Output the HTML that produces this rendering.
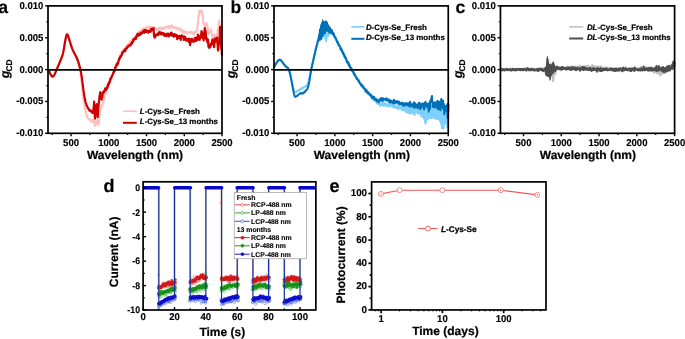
<!DOCTYPE html>
<html lang="en">
<head>
<meta charset="utf-8">
<title>Figure</title>
<style>
html,body{margin:0;padding:0;background:#fff;}
body{width:685px;height:339px;overflow:hidden;}
svg{display:block;text-rendering:geometricPrecision;font-family:'Liberation Sans', Arial, Helvetica, sans-serif;}
</style>
</head>
<body>
<svg width="685" height="339" viewBox="0 0 685 339">
<rect x="0" y="0" width="685" height="339" fill="#ffffff"/>
<line x1="45.1" y1="5.9" x2="48" y2="5.9" stroke="#000" stroke-width="1.4" stroke-linecap="butt"/>
<text x="0" y="0" font-size="9.95" font-weight="bold" text-anchor="end" transform="translate(43.3 8.85) scale(0.96 1)" fill="#000" stroke="#000" stroke-width="0.15">0.010</text>
<line x1="45.1" y1="37.75" x2="48" y2="37.75" stroke="#000" stroke-width="1.4" stroke-linecap="butt"/>
<text x="0" y="0" font-size="9.95" font-weight="bold" text-anchor="end" transform="translate(43.3 40.7) scale(0.96 1)" fill="#000" stroke="#000" stroke-width="0.15">0.005</text>
<line x1="45.1" y1="69.6" x2="48" y2="69.6" stroke="#000" stroke-width="1.4" stroke-linecap="butt"/>
<text x="0" y="0" font-size="9.95" font-weight="bold" text-anchor="end" transform="translate(43.3 72.55) scale(0.96 1)" fill="#000" stroke="#000" stroke-width="0.15">0.000</text>
<line x1="45.1" y1="101.45" x2="48" y2="101.45" stroke="#000" stroke-width="1.4" stroke-linecap="butt"/>
<text x="0" y="0" font-size="9.95" font-weight="bold" text-anchor="end" transform="translate(43.3 104.4) scale(0.96 1)" fill="#000" stroke="#000" stroke-width="0.15">-0.005</text>
<line x1="45.1" y1="133.3" x2="48" y2="133.3" stroke="#000" stroke-width="1.4" stroke-linecap="butt"/>
<text x="0" y="0" font-size="9.95" font-weight="bold" text-anchor="end" transform="translate(43.3 136.25) scale(0.96 1)" fill="#000" stroke="#000" stroke-width="0.15">-0.010</text>
<line x1="46.4" y1="21.83" x2="48" y2="21.83" stroke="#000" stroke-width="1.2" stroke-linecap="butt"/>
<line x1="46.4" y1="53.68" x2="48" y2="53.68" stroke="#000" stroke-width="1.2" stroke-linecap="butt"/>
<line x1="46.4" y1="85.53" x2="48" y2="85.53" stroke="#000" stroke-width="1.2" stroke-linecap="butt"/>
<line x1="46.4" y1="117.38" x2="48" y2="117.38" stroke="#000" stroke-width="1.2" stroke-linecap="butt"/>
<line x1="71.04" y1="133.3" x2="71.04" y2="136.2" stroke="#000" stroke-width="1.4" stroke-linecap="butt"/>
<text x="0" y="0" font-size="9.95" font-weight="bold" text-anchor="middle" transform="translate(71.04 145.65) scale(0.96 1)" fill="#000" stroke="#000" stroke-width="0.15">500</text>
<line x1="108.78" y1="133.3" x2="108.78" y2="136.2" stroke="#000" stroke-width="1.4" stroke-linecap="butt"/>
<text x="0" y="0" font-size="9.95" font-weight="bold" text-anchor="middle" transform="translate(108.78 145.65) scale(0.96 1)" fill="#000" stroke="#000" stroke-width="0.15">1000</text>
<line x1="146.52" y1="133.3" x2="146.52" y2="136.2" stroke="#000" stroke-width="1.4" stroke-linecap="butt"/>
<text x="0" y="0" font-size="9.95" font-weight="bold" text-anchor="middle" transform="translate(146.52 145.65) scale(0.96 1)" fill="#000" stroke="#000" stroke-width="0.15">1500</text>
<line x1="184.26" y1="133.3" x2="184.26" y2="136.2" stroke="#000" stroke-width="1.4" stroke-linecap="butt"/>
<text x="0" y="0" font-size="9.95" font-weight="bold" text-anchor="middle" transform="translate(184.26 145.65) scale(0.96 1)" fill="#000" stroke="#000" stroke-width="0.15">2000</text>
<line x1="222" y1="133.3" x2="222" y2="136.2" stroke="#000" stroke-width="1.4" stroke-linecap="butt"/>
<text x="0" y="0" font-size="9.95" font-weight="bold" text-anchor="middle" transform="translate(222 145.65) scale(0.96 1)" fill="#000" stroke="#000" stroke-width="0.15">2500</text>
<line x1="52.17" y1="133.3" x2="52.17" y2="135" stroke="#000" stroke-width="1.2" stroke-linecap="butt"/>
<line x1="89.91" y1="133.3" x2="89.91" y2="135" stroke="#000" stroke-width="1.2" stroke-linecap="butt"/>
<line x1="127.65" y1="133.3" x2="127.65" y2="135" stroke="#000" stroke-width="1.2" stroke-linecap="butt"/>
<line x1="165.39" y1="133.3" x2="165.39" y2="135" stroke="#000" stroke-width="1.2" stroke-linecap="butt"/>
<line x1="203.13" y1="133.3" x2="203.13" y2="135" stroke="#000" stroke-width="1.2" stroke-linecap="butt"/>
<text x="135" y="158.5" font-size="12" font-weight="bold" text-anchor="middle" fill="#000" stroke="#000" stroke-width="0.22">Wavelength (nm)</text>
<text transform="translate(9.3 78.2) rotate(-90)" font-size="12.5" font-weight="bold" stroke="#000" stroke-width="0.2"><tspan font-style="italic">g</tspan><tspan font-size="8.4" dy="2.9" dx="-1.0">CD</tspan></text>
<text x="-1.7" y="13" font-size="17.6" font-weight="bold" text-anchor="start" fill="#000" stroke="#000" stroke-width="0.15">a</text>
<polyline points="48.5,70.23 48.8,70.65 49.1,71.17 49.4,71.8 49.7,72.53 50,73.21 50.3,73.84 50.6,74.44 50.9,74.99 51.2,75.51 51.5,75.98 51.8,76.38 52.1,76.66 52.4,76.82 52.7,76.85 53,76.77 53.3,76.56 53.6,76.23 53.9,75.78 54.2,75.28 54.5,74.74 54.8,74.16 55.1,73.54 55.4,72.87 55.7,72.16 56,71.44 56.3,70.72 56.6,69.99 56.9,69.26 57.2,68.53 57.5,67.79 57.8,67.06 58.1,66.32 58.4,65.58 58.7,64.84 59,64.11 59.3,63.37 59.6,62.62 59.9,61.86 60.2,61.1 60.5,60.33 60.8,59.55 61.1,58.77 61.4,57.98 61.7,57.19 62,56.4 62.3,55.56 62.6,54.56 62.9,53.41 63.2,52.1 63.5,50.64 63.8,49.02 64.1,47.25 64.4,45.4 64.7,43.58 65,41.8 65.3,40.06 65.6,38.43 65.9,36.97 66.2,35.67 66.5,34.71 66.8,34.1 67.1,33.84 67.4,33.97 67.7,34.39 68,35.07 68.3,36.02 68.6,37 68.9,38.01 69.2,39.04 69.5,40.06 69.8,41.07 70.1,42.07 70.4,43.05 70.7,44.02 71,45 71.3,45.97 71.6,46.9 71.9,47.76 72.2,48.58 72.5,49.34 72.8,50.05 73.1,50.7 73.4,51.3 73.7,51.9 74,52.49 74.3,53.08 74.6,53.67 74.9,54.26 75.2,54.84 75.5,55.42 75.8,56 76.1,56.58 76.4,57.16 76.7,57.8 77,58.51 77.3,59.28 77.6,60.11 77.9,61.01 78.2,61.97 78.5,62.99 78.8,64.06 79.1,65.2 79.4,66.4 79.7,67.67 80,69.01 80.3,70.63 80.6,72.61 80.9,74.92 81.2,77.51 81.5,80.31 81.8,83.32 82.1,86.51 82.4,89.59 82.7,92.45 83,95.1 83.3,97.57 83.6,99.84 83.9,101.87 84.2,103.7 84.5,105.41 84.8,107.01 85.1,108.47 85.4,109.84 85.7,111.25 86,112.18 86.3,113.3 86.6,114.7 86.9,115.47 87.2,116.38 87.5,117.16 87.8,118.02 88.1,118.26 88.4,118.87 88.7,118.98 89,118.93 89.3,119.36 89.6,119.29 89.9,119.96 90.2,119.59 90.5,119.79 90.8,121.54 91.1,120.78 91.4,120.8 91.7,121.25 92,120.57 92.3,120.74 92.6,121.33 92.9,121.25 93.2,120.19 93.5,122.56 93.8,121.56 94.1,121.47 94.4,122.04 94.7,123.03 95,125.88 95.3,122.95 95.6,124.99 95.9,121.42 96.2,123.17 96.5,123.44 96.8,121.26 97.1,120.38 97.4,121.8 97.7,122.76 98,123.11 98.3,125.08 98.6,123.36 98.9,122.79 99.2,118.21 99.5,113.13 99.8,111.13 100.1,110.21 100.4,109.7 100.7,106.92 101,108.87 101.3,106.52 101.6,105.07 101.9,105.88 102.2,105.55 102.5,103.91 102.8,102.73 103.1,100.92 103.4,102.54 103.7,100.09 104,97.79 104.3,96.97 104.6,96.44 104.9,94.44 105.2,94.53 105.5,93.33 105.8,93.45 106.1,92.45 106.4,89.55 106.7,90.24 107,88.49 107.3,89.13 107.6,87.78 107.9,87.13 108.2,85.44 108.5,86.15 108.8,85.45 109.1,83.08 109.4,83.01 109.7,81.7 110,81.22 110.3,79.83 110.6,80.54 110.9,78.39 111.2,77.92 111.5,77.5 111.8,76.17 112.1,75.57 112.4,74.63 112.7,74.03 113,72.78 113.3,72.31 113.6,71.62 113.9,70.77 114.2,70.14 114.5,69.2 114.8,68.83 115.1,67.63 115.4,66.99 115.7,66.06 116,65.4 116.3,64.38 116.6,64.38 116.9,62.99 117.2,62.44 117.5,62.17 117.8,61.47 118.1,60.42 118.4,59.04 118.7,59.32 119,58.54 119.3,57.14 119.6,57.32 119.9,56.14 120.2,55.39 120.5,55.32 120.8,54.63 121.1,54.22 121.4,52.89 121.7,53.74 122,52.16 122.3,51.19 122.6,51.53 122.9,50.54 123.2,50.41 123.5,49.78 123.8,49.55 124.1,49.34 124.4,48.57 124.7,48.83 125,47.99 125.3,47.47 125.6,47.53 125.9,47.35 126.2,46.71 126.5,46.09 126.8,46.38 127.1,45.01 127.4,44.99 127.7,45.12 128,44.17 128.3,44.44 128.6,44.06 128.9,44.15 129.2,43.01 129.5,42.8 129.8,42.88 130.1,41.31 130.4,43.44 130.7,41.41 131,41.06 131.3,41.43 131.6,40.69 131.9,39.58 132.2,40.32 132.5,40.08 132.8,39.16 133.1,38.9 133.4,38.91 133.7,37.94 134,38.21 134.3,37.77 134.6,37.03 134.9,36.36 135.2,36.45 135.5,35.71 135.8,36.13 136.1,35.29 136.4,35.14 136.7,34.4 137,34.01 137.3,33.08 137.6,33.31 137.9,33.62 138.2,32.44 138.5,32.1 138.8,32.1 139.1,31.74 139.4,31.42 139.7,31.61 140,31.2 140.3,31.81 140.6,30.92 140.9,30.87 141.2,30.96 141.5,30.16 141.8,30.83 142.1,29.7 142.4,29.46 142.7,29.52 143,29.49 143.3,28.73 143.6,29.23 143.9,28.3 144.2,29.62 144.5,28.76 144.8,28.34 145.1,28.06 145.4,28.16 145.7,28.09 146,27.54 146.3,27.45 146.6,27.66 146.9,27.34 147.2,28.06 147.5,28.16 147.8,27.61 148.1,27.83 148.4,26.94 148.7,27.92 149,27.58 149.3,27.84 149.6,28.4 149.9,26.46 150.2,27.73 150.5,27.05 150.8,27.9 151.1,26.93 151.4,27.35 151.7,27.7 152,27.92 152.3,27.64 152.6,27.19 152.9,27.31 153.2,28.06 153.5,27.6 153.8,26.85 154.1,28.32 154.4,28.23 154.7,28.61 155,28.09 155.3,28.86 155.6,27.97 155.9,28.99 156.2,28.55 156.5,29.32 156.8,29.64 157.1,28.81 157.4,29.33 157.7,29.37 158,29.93 158.3,29.58 158.6,28.41 158.9,29.27 159.2,29.36 159.5,30.06 159.8,27.8 160.1,28.38 160.4,29.37 160.7,27.73 161,27.74 161.3,28.66 161.6,28.88 161.9,27.83 162.2,28.49 162.5,28.19 162.8,28.97 163.1,28.01 163.4,28.55 163.7,27.36 164,27.74 164.3,27.74 164.6,28.44 164.9,28.04 165.2,27.17 165.5,28.01 165.8,28.03 166.1,27.45 166.4,27.33 166.7,27.33 167,26.35 167.3,27.5 167.6,27.5 167.9,26.77 168.2,27.75 168.5,26.37 168.8,26.86 169.1,26.87 169.4,28.43 169.7,26.07 170,27.44 170.3,27.65 170.6,27.25 170.9,27.75 171.2,26.28 171.5,25.4 171.8,27.38 172.1,26.04 172.4,26.58 172.7,26.09 173,27.68 173.3,27.64 173.6,26.65 173.9,27.84 174.2,27.39 174.5,27.3 174.8,27.52 175.1,27.42 175.4,28.07 175.7,27.95 176,27.58 176.3,28.61 176.6,27.56 176.9,28.27 177.2,28.46 177.5,29.29 177.8,27.99 178.1,29.74 178.4,28.78 178.7,28.67 179,28.48 179.3,29.54 179.6,29.3 179.9,28.62 180.2,28.75 180.5,29.32 180.8,29.39 181.1,30.83 181.4,31.2 181.7,30.98 182,30.76 182.3,30.33 182.6,30.84 182.9,31.61 183.2,32.66 183.5,31.85 183.8,31.05 184.1,31.38 184.4,31.08 184.7,30.95 185,31.5 185.3,31.89 185.6,33.24 185.9,31.97 186.2,33.07 186.5,33.49 186.8,32.28 187.1,33.57 187.4,32.97 187.7,32.18 188,32.81 188.3,32.72 188.6,32.52 188.9,32.54 189.2,32.81 189.5,33.05 189.8,31.99 190.1,32.69 190.4,31.48 190.7,32.91 191,33.2 191.3,32.83 191.6,32.93 191.9,33.18 192.2,32.16 192.5,32.5 192.8,33.12 193.1,33.52 193.4,33.02 193.7,34.81 194,32.62 194.3,33.53 194.6,33.75 194.9,32.59 195.2,32.02 195.5,31.54 195.8,32.16 196.1,32.45 196.4,31.24 196.7,30.65 197,29.68 197.3,28.38 197.6,23.98 197.9,23.9 198.2,20.92 198.5,16.58 198.8,16.47 199.1,11.21 199.4,11.2 199.7,10.81 200,12.52 200.3,10.51 200.6,11.58 200.9,11.78 201.2,11.76 201.5,10.65 201.8,11.52 202.1,13.8 202.4,12.41 202.7,15.96 203,19.71 203.3,23.72 203.6,23.81 203.9,24.83 204.2,23.8 204.5,26.18 204.8,26.43 205.1,25.06 205.4,27.03 205.7,26.87 206,23.16 206.3,23.05 206.6,25.59 206.9,24.07 207.2,24.8 207.5,26.72 207.8,28.93 208.1,30.42 208.4,33.12 208.7,33.53 209,31.2 209.3,32.35 209.6,32.99 209.9,31.53 210.2,30.57 210.5,29.39 210.8,31.54 211.1,30.47 211.4,33.48 211.7,33.43 212,35.63 212.3,35.67 212.6,34.66 212.9,36.88 213.2,38.36 213.5,35.43 213.8,35.98 214.1,35.59 214.4,34.56 214.7,37.47 215,37.79 215.3,37.03 215.6,36.19 215.9,35.69 216.2,35.94 216.5,34.54 216.8,35.58 217.1,34.69 217.4,33.45 217.7,30.38 218,30.11 218.3,28.02 218.6,28.97 218.9,25 219.2,20.36 219.5,24.25 219.8,27.06 220.1,26.06 220.4,27.04 220.7,28.85 221,30.11 221.3,34.53" fill="none" stroke="#ffc0c0" stroke-width="2.2" stroke-linejoin="round" stroke-linecap="round"/>
<polyline points="48.5,70.23 48.8,70.65 49.1,71.17 49.4,71.8 49.7,72.52 50,73.19 50.3,73.81 50.6,74.38 50.9,74.9 51.2,75.37 51.5,75.79 51.8,76.14 52.1,76.38 52.4,76.51 52.7,76.53 53,76.44 53.3,76.24 53.6,75.94 53.9,75.51 54.2,75.03 54.5,74.5 54.8,73.92 55.1,73.3 55.4,72.62 55.7,71.9 56,71.17 56.3,70.45 56.6,69.73 56.9,69.01 57.2,68.3 57.5,67.58 57.8,66.87 58.1,66.16 58.4,65.44 58.7,64.73 59,64.02 59.3,63.3 59.6,62.58 59.9,61.85 60.2,61.12 60.5,60.39 60.8,59.65 61.1,58.9 61.4,58.15 61.7,57.4 62,56.65 62.3,55.85 62.6,54.88 62.9,53.75 63.2,52.46 63.5,51 63.8,49.38 64.1,47.6 64.4,45.74 64.7,43.93 65,42.16 65.3,40.43 65.6,38.84 65.9,37.42 66.2,36.17 66.5,35.26 66.8,34.67 67.1,34.42 67.4,34.54 67.7,34.94 68,35.59 68.3,36.47 68.6,37.41 68.9,38.38 69.2,39.38 69.5,40.36 69.8,41.33 70.1,42.29 70.4,43.24 70.7,44.19 71,45.13 71.3,46.07 71.6,46.97 71.9,47.81 72.2,48.61 72.5,49.35 72.8,50.05 73.1,50.7 73.4,51.3 73.7,51.9 74,52.49 74.3,53.08 74.6,53.67 74.9,54.26 75.2,54.84 75.5,55.42 75.8,56 76.1,56.58 76.4,57.16 76.7,57.79 77,58.47 77.3,59.21 77.6,59.99 77.9,60.83 78.2,61.71 78.5,62.65 78.8,63.59 79.1,64.58 79.4,65.63 79.7,66.73 80,67.89 80.3,69.1 80.6,70.42 80.9,71.95 81.2,73.62 81.5,75.45 81.8,77.42 82.1,79.55 82.4,81.84 82.7,84.22 83,86.58 83.3,88.85 83.6,91.03 83.9,93.12 84.2,95.09 84.5,96.87 84.8,98.48 85.1,99.93 85.4,101.32 85.7,102.54 86,103.46 86.3,104.34 86.6,105.12 86.9,105.7 87.2,106.42 87.5,107.05 87.8,107.77 88.1,108.47 88.4,108.41 88.7,109.23 89,109.33 89.3,110.54 89.6,110.12 89.9,110.61 90.2,110.27 90.5,110.54 90.8,111.24 91.1,111.2 91.4,111.83 91.7,110.92 92,112.24 92.3,111.32 92.6,113.05 92.9,111.75 93.2,112.78 93.5,108.51 93.8,106.22 94.1,101.51 94.4,106.04 94.7,114.59 95,118.66 95.3,115.85 95.6,112.96 95.9,109.61 96.2,107.13 96.5,104.91 96.8,104.16 97.1,106.18 97.4,111.64 97.7,117.16 98,112.03 98.3,107.69 98.6,104.96 98.9,102.36 99.2,99.62 99.5,96.26 99.8,94.92 100.1,92.57 100.4,92.1 100.7,95.6 101,97.14 101.3,97.12 101.6,99.6 101.9,96.99 102.2,97.41 102.5,95.65 102.8,93.1 103.1,92.25 103.4,92.02 103.7,91.22 104,92.3 104.3,91.4 104.6,90.33 104.9,90.69 105.2,88.45 105.5,89.9 105.8,90.02 106.1,88.97 106.4,88.09 106.7,88.4 107,88.77 107.3,86.94 107.6,85.43 107.9,86.58 108.2,83.74 108.5,84.62 108.8,83.2 109.1,83.47 109.4,81.62 109.7,82.29 110,80.93 110.3,78.96 110.6,78.11 110.9,78.42 111.2,78.67 111.5,77.26 111.8,76.52 112.1,75.63 112.4,75.47 112.7,74.56 113,73.79 113.3,72.39 113.6,72.85 113.9,72.22 114.2,70.12 114.5,71.26 114.8,69.74 115.1,68.44 115.4,67.07 115.7,67.69 116,66.99 116.3,65.74 116.6,64.48 116.9,65.3 117.2,63.77 117.5,63.17 117.8,64.22 118.1,63.2 118.4,61.93 118.7,60.54 119,60.46 119.3,58.26 119.6,58.86 119.9,57.82 120.2,56.95 120.5,56.21 120.8,56.75 121.1,55.94 121.4,55.39 121.7,55.18 122,53.68 122.3,52.89 122.6,52.01 122.9,52.21 123.2,52.41 123.5,51.61 123.8,51.73 124.1,50.42 124.4,50.5 124.7,50.03 125,49.45 125.3,50.88 125.6,50.01 125.9,48.8 126.2,48.49 126.5,48.58 126.8,47.48 127.1,48.25 127.4,46.96 127.7,47.19 128,46.51 128.3,46.52 128.6,45.73 128.9,45.29 129.2,45.34 129.5,45.2 129.8,45.13 130.1,45.04 130.4,45.6 130.7,44.88 131,43.92 131.3,44.1 131.6,42.86 131.9,43.74 132.2,42.81 132.5,41.27 132.8,42.14 133.1,41.78 133.4,39.26 133.7,40.04 134,39.8 134.3,38.52 134.6,38.64 134.9,38.32 135.2,38.72 135.5,38.1 135.8,39.04 136.1,36.68 136.4,37.14 136.7,35.98 137,35.71 137.3,34.64 137.6,33.99 137.9,34.53 138.2,35.32 138.5,35.66 138.8,34.87 139.1,34.63 139.4,33.6 139.7,34.94 140,34.64 140.3,33.26 140.6,33.4 140.9,32.61 141.2,34.03 141.5,33.16 141.8,32.67 142.1,32.84 142.4,32.69 142.7,31.97 143,31.26 143.3,31.06 143.6,30.59 143.9,31.89 144.2,32.89 144.5,30.11 144.8,31.18 145.1,31.2 145.4,30.09 145.7,30.96 146,30.25 146.3,31.99 146.6,30.95 146.9,31.6 147.2,32.18 147.5,31.59 147.8,30.83 148.1,31.87 148.4,32.67 148.7,31.86 149,31.84 149.3,30.7 149.6,31.32 149.9,31.5 150.2,30.79 150.5,31.88 150.8,30.15 151.1,29.34 151.4,28.7 151.7,30.46 152,29.37 152.3,29.92 152.6,29.3 152.9,29.93 153.2,29.45 153.5,28.02 153.8,32.19 154.1,36.48 154.4,35.82 154.7,37.57 155,37.15 155.3,36.74 155.6,35.6 155.9,35.74 156.2,34.41 156.5,35.06 156.8,34.32 157.1,34.59 157.4,33.9 157.7,34.38 158,35.01 158.3,32.99 158.6,34.68 158.9,32.31 159.2,32.11 159.5,33.66 159.8,33.69 160.1,33.97 160.4,32.22 160.7,33.43 161,33.51 161.3,34.37 161.6,33.25 161.9,33.87 162.2,32.73 162.5,33.48 162.8,33.36 163.1,34.42 163.4,33.11 163.7,33.34 164,34.62 164.3,35.74 164.6,34.66 164.9,34.69 165.2,34.24 165.5,35.54 165.8,35.09 166.1,36.14 166.4,34.96 166.7,33.87 167,34.22 167.3,33.87 167.6,33.66 167.9,35.88 168.2,35.51 168.5,33.72 168.8,36.42 169.1,35.07 169.4,34.02 169.7,35.25 170,34.86 170.3,34.24 170.6,33.2 170.9,35.02 171.2,35.27 171.5,32.66 171.8,35.55 172.1,35.63 172.4,34.65 172.7,35.23 173,34.94 173.3,34.49 173.6,35.01 173.9,36.69 174.2,34.13 174.5,35.8 174.8,35.82 175.1,35.05 175.4,35.38 175.7,34.53 176,35.13 176.3,36.04 176.6,36.42 176.9,35.3 177.2,39.22 177.5,35.77 177.8,36.52 178.1,36.25 178.4,36.16 178.7,37.91 179,36.23 179.3,38.1 179.6,37.99 179.9,35.88 180.2,38.05 180.5,36.41 180.8,40.02 181.1,36.81 181.4,36.28 181.7,35.27 182,36 182.3,36.86 182.6,36.45 182.9,36.31 183.2,37.08 183.5,37.81 183.8,39.99 184.1,36.24 184.4,37.82 184.7,37.45 185,36.85 185.3,37.3 185.6,37.92 185.9,40.25 186.2,39.17 186.5,38.84 186.8,40.6 187.1,40.29 187.4,39.72 187.7,40.76 188,39.12 188.3,41.44 188.6,41.19 188.9,39.83 189.2,38.54 189.5,42.8 189.8,40.54 190.1,45.26 190.4,39.3 190.7,41.71 191,39.6 191.3,40.7 191.6,41.64 191.9,38.93 192.2,40.06 192.5,40.47 192.8,40.37 193.1,41.17 193.4,41.87 193.7,41.54 194,40.55 194.3,39.48 194.6,38.11 194.9,38.76 195.2,39.1 195.5,41.15 195.8,39.19 196.1,37.51 196.4,40.68 196.7,38.01 197,37.95 197.3,38.78 197.6,39.91 197.9,34.56 198.2,36.76 198.5,38.99 198.8,37.87 199.1,36.64 199.4,36.84 199.7,40.02 200,36.2 200.3,37.99 200.6,37.75 200.9,34.58 201.2,34.56 201.5,31.14 201.8,32.33 202.1,32.84 202.4,37.89 202.7,36.03 203,36.33 203.3,35.8 203.6,40.35 203.9,37.06 204.2,34.14 204.5,31.49 204.8,28.14 205.1,30.08 205.4,32.25 205.7,30.98 206,38.37 206.3,39.47 206.6,37.76 206.9,40.01 207.2,40.77 207.5,42.5 207.8,42.36 208.1,39.69 208.4,46.82 208.7,44.85 209,47.39 209.3,47.89 209.6,45 209.9,46.08 210.2,46.83 210.5,46.78 210.8,44.58 211.1,43.43 211.4,44.77 211.7,42.74 212,43.16 212.3,39.65 212.6,44.36 212.9,41.66 213.2,42.47 213.5,43.28 213.8,43.78 214.1,47.15 214.4,42.81 214.7,38.59 215,41.91 215.3,39.79 215.6,41.84 215.9,38.76 216.2,38.27 216.5,38.34 216.8,39.01 217.1,37.59 217.4,42.23 217.7,45.61 218,50.51 218.3,48.21 218.6,44.99 218.9,44.59 219.2,41.49 219.5,40.12 219.8,32.98 220.1,26.94 220.4,36.83 220.7,43.42 221,43.61 221.3,49.13 221.6,47.35 221.9,54.91" fill="none" stroke="#d00000" stroke-width="2.2" stroke-linejoin="round" stroke-linecap="round"/>
<line x1="123" y1="111.2" x2="136.8" y2="111.2" stroke="#ffc0c0" stroke-width="1.7" stroke-linecap="butt"/>
<line x1="123" y1="122.8" x2="136.8" y2="122.8" stroke="#d00000" stroke-width="2.0" stroke-linecap="butt"/>
<text x="139.8" y="114.0" font-size="7.9" font-weight="bold" stroke="#000" stroke-width="0.2"><tspan font-style="italic">L</tspan>-Cys-Se_Fresh</text>
<text x="139.8" y="124.0" font-size="7.9" font-weight="bold" stroke="#000" stroke-width="0.2"><tspan font-style="italic">L</tspan>-Cys-Se_13 months</text>
<line x1="48" y1="69.85" x2="222" y2="69.85" stroke="#000" stroke-width="1.6" stroke-linecap="butt"/>
<rect x="48" y="5.9" width="174" height="127.4" fill="none" stroke="#000" stroke-width="1.7"/>
<line x1="271.1" y1="5.9" x2="274" y2="5.9" stroke="#000" stroke-width="1.4" stroke-linecap="butt"/>
<text x="0" y="0" font-size="9.95" font-weight="bold" text-anchor="end" transform="translate(269.3 8.85) scale(0.96 1)" fill="#000" stroke="#000" stroke-width="0.15">0.010</text>
<line x1="271.1" y1="37.75" x2="274" y2="37.75" stroke="#000" stroke-width="1.4" stroke-linecap="butt"/>
<text x="0" y="0" font-size="9.95" font-weight="bold" text-anchor="end" transform="translate(269.3 40.7) scale(0.96 1)" fill="#000" stroke="#000" stroke-width="0.15">0.005</text>
<line x1="271.1" y1="69.6" x2="274" y2="69.6" stroke="#000" stroke-width="1.4" stroke-linecap="butt"/>
<text x="0" y="0" font-size="9.95" font-weight="bold" text-anchor="end" transform="translate(269.3 72.55) scale(0.96 1)" fill="#000" stroke="#000" stroke-width="0.15">0.000</text>
<line x1="271.1" y1="101.45" x2="274" y2="101.45" stroke="#000" stroke-width="1.4" stroke-linecap="butt"/>
<text x="0" y="0" font-size="9.95" font-weight="bold" text-anchor="end" transform="translate(269.3 104.4) scale(0.96 1)" fill="#000" stroke="#000" stroke-width="0.15">-0.005</text>
<line x1="271.1" y1="133.3" x2="274" y2="133.3" stroke="#000" stroke-width="1.4" stroke-linecap="butt"/>
<text x="0" y="0" font-size="9.95" font-weight="bold" text-anchor="end" transform="translate(269.3 136.25) scale(0.96 1)" fill="#000" stroke="#000" stroke-width="0.15">-0.010</text>
<line x1="272.4" y1="21.83" x2="274" y2="21.83" stroke="#000" stroke-width="1.2" stroke-linecap="butt"/>
<line x1="272.4" y1="53.68" x2="274" y2="53.68" stroke="#000" stroke-width="1.2" stroke-linecap="butt"/>
<line x1="272.4" y1="85.53" x2="274" y2="85.53" stroke="#000" stroke-width="1.2" stroke-linecap="butt"/>
<line x1="272.4" y1="117.38" x2="274" y2="117.38" stroke="#000" stroke-width="1.2" stroke-linecap="butt"/>
<line x1="297.08" y1="133.3" x2="297.08" y2="136.2" stroke="#000" stroke-width="1.4" stroke-linecap="butt"/>
<text x="0" y="0" font-size="9.95" font-weight="bold" text-anchor="middle" transform="translate(297.08 145.65) scale(0.96 1)" fill="#000" stroke="#000" stroke-width="0.15">500</text>
<line x1="334.87" y1="133.3" x2="334.87" y2="136.2" stroke="#000" stroke-width="1.4" stroke-linecap="butt"/>
<text x="0" y="0" font-size="9.95" font-weight="bold" text-anchor="middle" transform="translate(334.87 145.65) scale(0.96 1)" fill="#000" stroke="#000" stroke-width="0.15">1000</text>
<line x1="372.66" y1="133.3" x2="372.66" y2="136.2" stroke="#000" stroke-width="1.4" stroke-linecap="butt"/>
<text x="0" y="0" font-size="9.95" font-weight="bold" text-anchor="middle" transform="translate(372.66 145.65) scale(0.96 1)" fill="#000" stroke="#000" stroke-width="0.15">1500</text>
<line x1="410.46" y1="133.3" x2="410.46" y2="136.2" stroke="#000" stroke-width="1.4" stroke-linecap="butt"/>
<text x="0" y="0" font-size="9.95" font-weight="bold" text-anchor="middle" transform="translate(410.46 145.65) scale(0.96 1)" fill="#000" stroke="#000" stroke-width="0.15">2000</text>
<line x1="448.25" y1="133.3" x2="448.25" y2="136.2" stroke="#000" stroke-width="1.4" stroke-linecap="butt"/>
<text x="0" y="0" font-size="9.95" font-weight="bold" text-anchor="middle" transform="translate(448.25 145.65) scale(0.96 1)" fill="#000" stroke="#000" stroke-width="0.15">2500</text>
<line x1="278.18" y1="133.3" x2="278.18" y2="135" stroke="#000" stroke-width="1.2" stroke-linecap="butt"/>
<line x1="315.97" y1="133.3" x2="315.97" y2="135" stroke="#000" stroke-width="1.2" stroke-linecap="butt"/>
<line x1="353.77" y1="133.3" x2="353.77" y2="135" stroke="#000" stroke-width="1.2" stroke-linecap="butt"/>
<line x1="391.56" y1="133.3" x2="391.56" y2="135" stroke="#000" stroke-width="1.2" stroke-linecap="butt"/>
<line x1="429.35" y1="133.3" x2="429.35" y2="135" stroke="#000" stroke-width="1.2" stroke-linecap="butt"/>
<text x="361.82" y="158.5" font-size="12" font-weight="bold" text-anchor="middle" fill="#000" stroke="#000" stroke-width="0.22">Wavelength (nm)</text>
<text transform="translate(235.3 78.2) rotate(-90)" font-size="12.5" font-weight="bold" stroke="#000" stroke-width="0.2"><tspan font-style="italic">g</tspan><tspan font-size="8.4" dy="2.9" dx="-1.0">CD</tspan></text>
<text x="230.6" y="13" font-size="17.6" font-weight="bold" text-anchor="start" fill="#000" stroke="#000" stroke-width="0.15">b</text>
<polyline points="274,66.75 274.3,66.45 274.6,66.07 274.9,65.61 275.2,65.09 275.5,64.56 275.8,64.02 276.1,63.54 276.4,63.04 276.7,62.64 277,62.12 277.3,61.67 277.6,61.28 277.9,60.92 278.2,60.59 278.5,60.34 278.8,60.13 279.1,59.96 279.4,59.94 279.7,59.88 280,59.92 280.3,60.07 280.6,60.17 280.9,60.35 281.2,60.63 281.5,60.98 281.8,61.4 282.1,61.66 282.4,62.08 282.7,62.59 283,62.9 283.3,63.36 283.6,63.86 283.9,64.24 284.2,64.61 284.5,65.05 284.8,65.14 285.1,65.8 285.4,65.95 285.7,66.18 286,66.61 286.3,66.88 286.6,66.98 286.9,67.13 287.2,67.44 287.5,67.64 287.8,68.04 288.1,68.34 288.4,68.76 288.7,69.47 289,70.04 289.3,70.8 289.6,71.99 289.9,73.14 290.2,74.27 290.5,75.49 290.8,76.99 291.1,78.06 291.4,79.98 291.7,81.48 292,82.68 292.3,84.36 292.6,85.61 292.9,87.2 293.2,88.09 293.5,89.43 293.8,90.62 294.1,91.43 294.4,91.47 294.7,92.09 295,92.4 295.3,92.23 295.6,92.44 295.9,91.81 296.2,91.91 296.5,91.5 296.8,91.74 297.1,91.31 297.4,91.06 297.7,90.63 298,91.06 298.3,90.71 298.6,90.53 298.9,90.42 299.2,90.09 299.5,89.71 299.8,89.5 300.1,89.32 300.4,89.58 300.7,88.82 301,88.82 301.3,88.69 301.6,88.63 301.9,88.52 302.2,87.94 302.5,87.65 302.8,87.83 303.1,87.91 303.4,87.61 303.7,87.3 304,86.98 304.3,86.93 304.6,86.61 304.9,86.66 305.2,86.09 305.5,86.11 305.8,85.85 306.1,85.81 306.4,85.54 306.7,85.81 307,85.18 307.3,84.7 307.6,83.26 307.9,83.01 308.2,82.18 308.5,81.58 308.8,79.85 309.1,79.6 309.4,78.33 309.7,76.36 310,74.96 310.3,73.41 310.6,72.01 310.9,70.6 311.2,69.46 311.5,67.39 311.8,66.24 312.1,64.71 312.4,63.84 312.7,62.24 313,61.11 313.3,59.12 313.6,58.07 313.9,56.59 314.2,55.97 314.5,54.43 314.8,52.87 315.1,51.54 315.4,50.53 315.7,48.93 316,47.54 316.3,46.73 316.6,46.87 316.9,44.43 317.2,43.25 317.5,41.7 317.8,40.48 318.1,41.63 318.4,41.22 318.7,39.21 319,38.82 319.3,37.6 319.6,36.75 319.9,32.61 320.2,33.78 320.5,34.02 320.8,31.33 321.1,31.05 321.4,29.8 321.7,30.21 322,32.02 322.3,28.94 322.6,28.88 322.9,31.06 323.2,31.38 323.5,34.13 323.8,27.21 324.1,33.76 324.4,31.73 324.7,33.62 325,35.68 325.3,37.67 325.6,39.08 325.9,38.81 326.2,41.02 326.5,35.43 326.8,33.92 327.1,34.52 327.4,31.78 327.7,36.4 328,34.16 328.3,35.64 328.6,32.16 328.9,31.56 329.2,32.1 329.5,32.53 329.8,31.04 330.1,31.93 330.4,31.92 330.7,33.25 331,32.26 331.3,33.44 331.6,32.92 331.9,33.09 332.2,33.54 332.5,33.63 332.8,34.62 333.1,35.38 333.4,35.28 333.7,35.83 334,36.65 334.3,36.31 334.6,36.6 334.9,36.97 335.2,36.91 335.5,38.67 335.8,38.04 336.1,39.82 336.4,40.09 336.7,41.25 337,41.27 337.3,41.5 337.6,42.67 337.9,42.83 338.2,43.61 338.5,44.32 338.8,44.84 339.1,45.41 339.4,45.7 339.7,46.61 340,46.28 340.3,47.83 340.6,47.93 340.9,49.63 341.2,50.3 341.5,49.38 341.8,50.97 342.1,51.44 342.4,51.61 342.7,52.95 343,53.08 343.3,53.07 343.6,54.38 343.9,55.03 344.2,55.75 344.5,55.73 344.8,57.19 345.1,57.84 345.4,57.57 345.7,58.4 346,59.26 346.3,59.64 346.6,61.3 346.9,61.13 347.2,61.11 347.5,61.75 347.8,62.63 348.1,64.24 348.4,63.65 348.7,64.33 349,65.04 349.3,65.33 349.6,66.92 349.9,66.18 350.2,67.3 350.5,67.57 350.8,68.3 351.1,68.01 351.4,69.85 351.7,69.52 352,70.11 352.3,70.19 352.6,70.8 352.9,71.9 353.2,72.6 353.5,73.01 353.8,73.73 354.1,74.03 354.4,74.25 354.7,75.12 355,75.53 355.3,75.75 355.6,76.63 355.9,77.39 356.2,77.4 356.5,77.6 356.8,78.51 357.1,79.47 357.4,79.01 357.7,79.51 358,79.94 358.3,80.98 358.6,80.11 358.9,81.51 359.2,82.31 359.5,81.9 359.8,83.33 360.1,83.36 360.4,83.3 360.7,84.02 361,83.68 361.3,84.49 361.6,85.9 361.9,85.16 362.2,86.71 362.5,86.3 362.8,87.15 363.1,87.15 363.4,86.6 363.7,87.7 364,88.41 364.3,88.26 364.6,88.58 364.9,89.68 365.2,89.67 365.5,89.64 365.8,90.45 366.1,91.46 366.4,91.24 366.7,92.14 367,92.71 367.3,92.42 367.6,92.27 367.9,92.53 368.2,93.37 368.5,94.06 368.8,94.14 369.1,94.58 369.4,94.51 369.7,95.13 370,95.14 370.3,95.52 370.6,95.44 370.9,95.62 371.2,96.42 371.5,96.45 371.8,96.83 372.1,97.92 372.4,97.81 372.7,99.62 373,98.9 373.3,98.35 373.6,99.39 373.9,99.44 374.2,99.13 374.5,100.43 374.8,99.61 375.1,98.49 375.4,101.11 375.7,100.5 376,102.12 376.3,101.02 376.6,100.93 376.9,103.04 377.2,101.53 377.5,102.68 377.8,103.85 378.1,103.13 378.4,103.14 378.7,103.43 379,104.14 379.3,103.03 379.6,104.28 379.9,104.41 380.2,105.89 380.5,103.78 380.8,103.34 381.1,104.71 381.4,103.81 381.7,104.41 382,104.31 382.3,105.21 382.6,103.7 382.9,104.21 383.2,102.14 383.5,103.58 383.8,105.71 384.1,103.82 384.4,103.82 384.7,103.4 385,105.01 385.3,104.69 385.6,103.49 385.9,105.19 386.2,104.86 386.5,105.34 386.8,104.09 387.1,106.32 387.4,105.12 387.7,104.66 388,104.31 388.3,104.6 388.6,105.68 388.9,104.63 389.2,105.96 389.5,105.51 389.8,106.29 390.1,105.82 390.4,105.02 390.7,103.26 391,105.5 391.3,106.05 391.6,105.48 391.9,105.94 392.2,104.96 392.5,105.11 392.8,104.59 393.1,107.02 393.4,105.84 393.7,105.23 394,104.41 394.3,105.7 394.6,107.44 394.9,106.47 395.2,105.27 395.5,107.63 395.8,107.7 396.1,107.28 396.4,107.14 396.7,107.6 397,107 397.3,107.31 397.6,105.66 397.9,108.25 398.2,106.9 398.5,108.97 398.8,104.45 399.1,107.62 399.4,108 399.7,106.55 400,107.52 400.3,108.05 400.6,108.05 400.9,106.93 401.2,107.58 401.5,109.14 401.8,109.63 402.1,108.43 402.4,108.59 402.7,108.93 403,110.12 403.3,107.79 403.6,107.64 403.9,109.59 404.2,108.27 404.5,109.09 404.8,110.11 405.1,110.79 405.4,109.04 405.7,111.56 406,108.52 406.3,111.62 406.6,109.13 406.9,109.69 407.2,112.32 407.5,111.17 407.8,110.85 408.1,111.41 408.4,112.55 408.7,111.84 409,111.84 409.3,113.22 409.6,110.86 409.9,111.14 410.2,111.03 410.5,113.25 410.8,112.98 411.1,113.34 411.4,111.53 411.7,111.33 412,112.66 412.3,110.92 412.6,112.56 412.9,112.38 413.2,110.39 413.5,111.2 413.8,111.11 414.1,113.66 414.4,114.83 414.7,111.02 415,111.14 415.3,107.85 415.6,111.35 415.9,111 416.2,109.56 416.5,112.38 416.8,109.14 417.1,111.24 417.4,111.9 417.7,110.03 418,113.26 418.3,113.7 418.6,110.25 418.9,110.37 419.2,113.49 419.5,112.7 419.8,111.09 420.1,112.61 420.4,113.04 420.7,113.13 421,114.8 421.3,114.26 421.6,116.64 421.9,116.19 422.2,115.22 422.5,116.05 422.8,116.63 423.1,115.75 423.4,112.58 423.7,116.35 424,115.13 424.3,118.95 424.6,117.29 424.9,119.14 425.2,119.84 425.5,123.43 425.8,121.07 426.1,119.44 426.4,119.77 426.7,117.54 427,117.93 427.3,116.81 427.6,116.59 427.9,119.16 428.2,114.14 428.5,115.01 428.8,114.48 429.1,116.28 429.4,112.31 429.7,113.3 430,114.66 430.3,115.91 430.6,114.57 430.9,113.52 431.2,112.65 431.5,115.72 431.8,117.82 432.1,115.23 432.4,114.89 432.7,115.45 433,112.14 433.3,113.59 433.6,113.66 433.9,114.98 434.2,114.15 434.5,111.19 434.8,116.95 435.1,118.36 435.4,113.41 435.7,115.06 436,114.69 436.3,116.27 436.6,110.57 436.9,118.94 437.2,113.65 437.5,118.53 437.8,115.57 438.1,114.51 438.4,115.41 438.7,118.52 439,113.83 439.3,115.41 439.6,115.32 439.9,111.99 440.2,121.37 440.5,120.19 440.8,119.34 441.1,123.76 441.4,118.34 441.7,121.88 442,128.24 442.3,126.9 442.6,117.94 442.9,115.34 443.2,122.28 443.5,128.18 443.8,122.63 444.1,122.74 444.4,124.69 444.7,119.16 445,122.03 445.3,123.24 445.6,121.48 445.9,120.56 446.2,116.9 446.5,120.54 446.8,117.22 447.1,123.04 447.4,127.32 447.7,115.75 448,110.59 448.3,116.59" fill="none" stroke="#7fd0ff" stroke-width="2.2" stroke-linejoin="round" stroke-linecap="round"/>
<polyline points="400,104 400.3,104.99 400.6,104.05 400.9,105.46 401.2,104.09 401.5,105.5 401.8,104.14 402.1,106.7 402.4,104.18 402.7,105.64 403,104.23 403.3,105.59 403.6,104.27 403.9,106.75 404.2,104.32 404.5,106.46 404.8,104.36 405.1,108.08 405.4,104.41 405.7,108.27 406,104.45 406.3,109.31 406.6,104.5 406.9,108.89 407.2,104.54 407.5,108.18 407.8,104.59 408.1,111.01 408.4,104.63 408.7,112.06 409,104.68 409.3,113.77 409.6,104.72 409.9,111.04 410.2,104.77 410.5,109.5 410.8,104.81 411.1,110.45 411.4,104.86 411.7,111.74 412,104.9 412.3,112.09 412.6,104.95 412.9,110.51 413.2,104.99 413.5,111.36 413.8,105.04 414.1,112.53 414.4,105.08 414.7,111.82 415,105.13 415.3,111.74 415.6,105.17 415.9,109.95 416.2,105.22 416.5,112.87 416.8,105.26 417.1,111.93 417.4,105.31 417.7,111.99 418,105.35 418.3,110.82 418.6,105.4 418.9,112.86 419.2,105.44 419.5,112.09 419.8,105.49 420.1,111.93 420.4,105.48 420.7,110.95 421,105.45 421.3,112.79 421.6,105.42 421.9,114.87 422.2,105.39 422.5,113.94 422.8,105.36 423.1,115.12 423.4,105.33 423.7,115.47 424,105.3 424.3,117.65 424.6,105.27 424.9,121 425.2,105.24 425.5,123.13 425.8,105.21 426.1,120.61 426.4,105.18 426.7,118.59 427,105.15 427.3,117.22 427.6,105.12 427.9,118.42 428.2,105.09 428.5,117.02 428.8,105.06 429.1,116.66 429.4,105.03 429.7,118.69 430,105 430.3,118.37 430.6,105.03 430.9,118.76 431.2,105.07 431.5,118.7 431.8,105.1 432.1,118.03 432.4,105.14 432.7,116.56 433,105.17 433.3,118.43 433.6,105.2 433.9,117.98 434.2,105.24 434.5,115.35 434.8,105.27 435.1,116.14 435.4,105.31 435.7,115.73 436,105.34 436.3,116.69 436.6,105.38 436.9,118.13 437.2,105.41 437.5,118.82 437.8,105.44 438.1,119.22 438.4,105.48 438.7,119.18 439,105.51 439.3,120.09 439.6,105.55 439.9,120.62 440.2,105.58 440.5,120.8 440.8,105.61 441.1,122.08 441.4,105.65 441.7,122.09 442,105.68 442.3,126.11 442.6,105.72 442.9,126.35 443.2,105.75 443.5,127.1 443.8,105.78 444.1,125.03 444.4,105.82 444.7,123.85 445,105.85 445.3,123.48 445.6,105.89 445.9,122.5 446.2,105.92 446.5,121.61 446.8,105.95 447.1,119.27 447.4,105.99" fill="none" stroke="#7fd0ff" stroke-width="0.9" stroke-linejoin="round" stroke-linecap="round"/>
<polyline points="274,66.82 274.25,66.57 274.5,66.26 274.75,65.88 275,65.43 275.25,65 275.5,64.55 275.75,64.12 276,63.67 276.25,63.28 276.5,62.88 276.75,62.51 277,62.11 277.25,61.75 277.5,61.36 277.75,61.14 278,60.74 278.25,60.58 278.5,60.31 278.75,60.1 279,59.96 279.25,59.87 279.5,59.87 279.75,59.84 280,59.95 280.25,59.87 280.5,60.07 280.75,60.19 281,60.46 281.25,60.54 281.5,60.89 281.75,61.21 282,61.43 282.25,61.94 282.5,62.26 282.75,62.67 283,63.03 283.25,63.25 283.5,63.6 283.75,63.99 284,64.39 284.25,64.73 284.5,64.94 284.75,65.28 285,65.56 285.25,65.85 285.5,66.14 285.75,66.38 286,66.79 286.25,66.74 286.5,66.93 286.75,67.17 287,67.21 287.25,67.43 287.5,67.65 287.75,67.9 288,67.91 288.25,68.53 288.5,68.77 288.75,69.36 289,70.06 289.25,70.77 289.5,71.65 289.75,72.47 290,73.44 290.25,74.54 290.5,75.51 290.75,76.99 291,78.01 291.25,79.28 291.5,81.07 291.75,82.14 292,83.35 292.25,85.12 292.5,86.18 292.75,87.74 293,88.82 293.25,90.27 293.5,91.39 293.75,92.56 294,93.75 294.25,94.81 294.5,95.72 294.75,96.56 295,96.36 295.25,96.86 295.5,96.68 295.75,96.76 296,96.46 296.25,96.28 296.5,96.21 296.75,95.92 297,95.92 297.25,95.56 297.5,95.68 297.75,95.25 298,95.03 298.25,95 298.5,94.68 298.75,94.38 299,94.19 299.25,94.01 299.5,94.08 299.75,93.86 300,93.61 300.25,93.55 300.5,93.17 300.75,93.31 301,92.86 301.25,93.42 301.5,93.17 301.75,93.24 302,93.38 302.25,93.3 302.5,93.29 302.75,93.59 303,93.3 303.25,92.96 303.5,93.09 303.75,92.4 304,92.88 304.25,92.17 304.5,91.92 304.75,92.13 305,91.82 305.25,91.08 305.5,90.93 305.75,90.78 306,90.66 306.25,89.98 306.5,89.78 306.75,89.78 307,89.3 307.25,89.16 307.5,88.77 307.75,87.83 308,87.22 308.25,85.94 308.5,85.52 308.75,84.75 309,82.81 309.25,81.98 309.5,80.48 309.75,78.74 310,77.26 310.25,75.77 310.5,73.99 310.75,72.61 311,71.2 311.25,69.97 311.5,68.69 311.75,67.02 312,66.24 312.25,64.67 312.5,63.74 312.75,62.79 313,61.59 313.25,60.47 313.5,59.49 313.75,58.18 314,57.07 314.25,56.12 314.5,55.37 314.75,54 315,53.5 315.25,51.95 315.5,49.96 315.75,49.62 316,49.15 316.25,47.6 316.5,46.4 316.75,45.24 317,44.87 317.25,43.77 317.5,42.66 317.75,41.58 318,40.88 318.25,39.74 318.5,37.88 318.75,37.81 319,36.5 319.25,35.29 319.5,34.84 319.75,33.24 320,29.62 320.25,32.52 320.5,31.04 320.75,28.96 321,27.75 321.25,27.56 321.5,24.65 321.75,26.15 322,24.89 322.25,24.22 322.5,22.88 322.75,22.77 323,25.25 323.25,25.84 323.5,24.83 323.75,24.24 324,23.23 324.25,25.86 324.5,27.44 324.75,22.84 325,27.26 325.25,22.35 325.5,25.19 325.75,26.38 326,23.85 326.25,23.72 326.5,26.38 326.75,27.52 327,25.59 327.25,28.36 327.5,25.4 327.75,29.16 328,27.16 328.25,27.55 328.5,28.27 328.75,28.14 329,30.15 329.25,30.73 329.5,29.09 329.75,28.61 330,27.89 330.25,28.62 330.5,29.64 330.75,29.83 331,30.17 331.25,30.49 331.5,31.17 331.75,30.05 332,30.77 332.25,32.73 332.5,32.94 332.75,32.47 333,34.02 333.25,33.27 333.5,33.95 333.75,33.44 334,35.47 334.25,35.39 334.5,36.47 334.75,36.72 335,36.86 335.25,37.4 335.5,38.51 335.75,38.21 336,38.72 336.25,39.35 336.5,40.28 336.75,40.85 337,41.94 337.25,41.27 337.5,42.56 337.75,41.93 338,43.17 338.25,43.39 338.5,44.84 338.75,44.68 339,44.56 339.25,45.66 339.5,46.03 339.75,46.14 340,46.66 340.25,46.78 340.5,49.43 340.75,48.41 341,49.39 341.25,48.65 341.5,49.2 341.75,50.24 342,50.74 342.25,51.79 342.5,51.25 342.75,52.64 343,53.7 343.25,52.81 343.5,54.35 343.75,53.78 344,55.03 344.25,55.54 344.5,56.82 344.75,55.94 345,56.92 345.25,57.92 345.5,57.17 345.75,58.32 346,58.34 346.25,58.93 346.5,60.21 346.75,60.71 347,62.25 347.25,62.05 347.5,62.48 347.75,62.15 348,62.55 348.25,63.28 348.5,62.41 348.75,65.08 349,64.27 349.25,64.53 349.5,65.35 349.75,66.57 350,67.25 350.25,66.83 350.5,67.76 350.75,67.92 351,67.83 351.25,68.91 351.5,69.26 351.75,68.83 352,70.71 352.25,69.68 352.5,71.1 352.75,70.83 353,71.39 353.25,71.88 353.5,73.08 353.75,72.44 354,73.45 354.25,74.83 354.5,74.04 354.75,74.83 355,75.64 355.25,75.4 355.5,76.4 355.75,76.22 356,77.39 356.25,77.42 356.5,77.26 356.75,78.89 357,78.46 357.25,78.73 357.5,78.76 357.75,79.38 358,79.96 358.25,80.47 358.5,81.34 358.75,80.43 359,81.32 359.25,82.52 359.5,82.35 359.75,82.85 360,83.85 360.25,83.52 360.5,83.92 360.75,83.99 361,85.27 361.25,85.22 361.5,84.63 361.75,85.63 362,85.07 362.25,86.57 362.5,86.69 362.75,86.59 363,86.8 363.25,86.41 363.5,88.07 363.75,87.94 364,88.18 364.25,89.04 364.5,88.66 364.75,89.03 365,89.31 365.25,89.31 365.5,91.57 365.75,90.57 366,90.82 366.25,91.71 366.5,89.89 366.75,91.73 367,92 367.25,91.75 367.5,92.73 367.75,91.72 368,93 368.25,93.68 368.5,92.36 368.75,93 369,93.89 369.25,94.21 369.5,94.13 369.75,94.88 370,95.07 370.25,94.51 370.5,95.38 370.75,95.01 371,94.82 371.25,94.87 371.5,96.98 371.75,96.59 372,98 372.25,96.24 372.5,97.03 372.75,97.6 373,97.48 373.25,98.03 373.5,97.98 373.75,97.69 374,96.78 374.25,97.8 374.5,99.66 374.75,99.22 375,99.8 375.25,98.68 375.5,99.11 375.75,98.81 376,99.84 376.25,99.78 376.5,100.22 376.75,101.31 377,99.65 377.25,100.94 377.5,99.56 377.75,101.55 378,100.58 378.25,100.94 378.5,101.18 378.75,102.41 379,101.22 379.25,100.94 379.5,100.47 379.75,100.84 380,99.16 380.25,98.65 380.5,98.92 380.75,99.54 381,98.47 381.25,99.64 381.5,100.59 381.75,97.99 382,100.36 382.25,101.07 382.5,98.87 382.75,99.91 383,98.33 383.25,99.79 383.5,99.29 383.75,99.86 384,98.9 384.25,99.03 384.5,99.39 384.75,99.21 385,99.34 385.25,99.74 385.5,99.02 385.75,99.88 386,100.47 386.25,98.14 386.5,100.32 386.75,99.57 387,99.29 387.25,99.15 387.5,99.62 387.75,99.76 388,100.75 388.25,99.4 388.5,101.45 388.75,99.89 389,101.25 389.25,101.66 389.5,99.69 389.75,101.76 390,102.8 390.25,100.55 390.5,101.51 390.75,100.94 391,101.19 391.25,101.01 391.5,100.78 391.75,101.94 392,102.14 392.25,101.4 392.5,102.82 392.75,102.49 393,102.2 393.25,100.97 393.5,103.4 393.75,102.93 394,99.82 394.25,100.82 394.5,101.44 394.75,102.79 395,103.13 395.25,101.77 395.5,102.32 395.75,102.79 396,101.01 396.25,102.79 396.5,102.01 396.75,102.52 397,102.35 397.25,101.34 397.5,101.56 397.75,102.59 398,102.72 398.25,102.4 398.5,103.71 398.75,102.41 399,101.64 399.25,102.52 399.5,102.73 399.75,102.82 400,104.12 400.25,103.54 400.5,104.12 400.75,103.75 401,103.04 401.25,104.26 401.5,103.05 401.75,103.59 402,102.43 402.25,103.55 402.5,103.19 402.75,103.92 403,105.39 403.25,105.99 403.5,104.71 403.75,103.73 404,104.63 404.25,104.09 404.5,103.3 404.75,103.9 405,103.76 405.25,103.45 405.5,105.51 405.75,103.61 406,103.7 406.25,104.99 406.5,103.58 406.75,103.14 407,103.5 407.25,104.98 407.5,104.92 407.75,104.89 408,104.1 408.25,103.65 408.5,105.73 408.75,103.14 409,104.57 409.25,103.35 409.5,104.45 409.75,104.79 410,106.45 410.25,101.67 410.5,106.69 410.75,104.04 411,105.48 411.25,106.12 411.5,104.24 411.75,105.09 412,105.83 412.25,105.1 412.5,104.36 412.75,105.54 413,105.47 413.25,103.45 413.5,107.13 413.75,105.7 414,102.29 414.25,104.38 414.5,107.76 414.75,107.62 415,105.9 415.25,103.31 415.5,105.27 415.75,107.06 416,106.19 416.25,105.22 416.5,104.68 416.75,106.88 417,105.46 417.25,106.24 417.5,106.5 417.75,108.17 418,106.12 418.25,106.26 418.5,103.32 418.75,107.56 419,107.26 419.25,105.97 419.5,102.64 419.75,105.2 420,106.18 420.25,109.18 420.5,106.84 420.75,107.1 421,107.09 421.25,107.86 421.5,103.88 421.75,104.26 422,103.65 422.25,105.03 422.5,104.85 422.75,105.54 423,103.58 423.25,105.4 423.5,103.72 423.75,108.77 424,104.13 424.25,109.47 424.5,107.83 424.75,102.73 425,106.53 425.25,105.85 425.5,101.87 425.75,105.74 426,104.39 426.25,105.59 426.5,103.69 426.75,105.56 427,106.85 427.25,106.08 427.5,105.62 427.75,106.87 428,105.61 428.25,108.61 428.5,103.15 428.75,111.74 429,109.19 429.25,108.78 429.5,108.33 429.75,102.71 430,108.85 430.25,100.43 430.5,102.55 430.75,101 431,101.9 431.25,99.62 431.5,97.13 431.75,101.52 432,95.9 432.25,101.52 432.5,101.51 432.75,106.67 433,103.07 433.25,103.26 433.5,103.12 433.75,103.46 434,104.74 434.25,107.39 434.5,102.78 434.75,105.34 435,102.26 435.25,105.31 435.5,106.05 435.75,102.51 436,104.07 436.25,105.72 436.5,107.39 436.75,107.82 437,104.96 437.25,102.51 437.5,100.72 437.75,107.2 438,108.87 438.25,105.96 438.5,109.32 438.75,103.51 439,103.61 439.25,109.29 439.5,101.63 439.75,106.37 440,105.66 440.25,105.18 440.5,110.28 440.75,102.41 441,104.02 441.25,98.94 441.5,102.44 441.75,104.36 442,104.98 442.25,105.79 442.5,107.68 442.75,104.65 443,100.39 443.25,107.86 443.5,109.02 443.75,103.72 444,105.22 444.25,114.26 444.5,111.68 444.75,111.93 445,110.44 445.25,108.54 445.5,106.1 445.75,110.14 446,107.25 446.25,106.32 446.5,107.95 446.75,107.68 447,111.46 447.25,104.23 447.5,117.87 447.75,103.97 448,106.28 448.25,111.79 448.5,104.63" fill="none" stroke="#0070b8" stroke-width="2.0" stroke-linejoin="round" stroke-linecap="round"/>
<polyline points="318.5,38.43 318.8,39.26 319.1,34.57 319.4,40.31 319.7,29.83 320,40.87 320.3,28.66 320.6,40.03 320.9,25.42 321.2,39.72 321.5,23.09 321.8,39.1 322.1,21.94 322.4,37.13 322.7,19.59 323,36.9 323.3,21.18 323.6,35.2 323.9,21.73 324.2,33.69 324.5,21.25 324.8,34.08 325.1,21.48 325.4,33.53 325.7,20.68 326,31.84 326.3,20.82 326.6,30.72 326.9,21.8 327.2,31.78 327.5,22.1 327.8,31.65 328.1,24.42 328.4,31.93 328.7,25.12 329,33.42 329.3,26.47 329.6,33.21 329.9,27.39 330.2,33.43 330.5,28.23 330.8,33.11 331.1,29.31 331.4,33.41 331.7,31.04 332,34.27 332.3,32.91 332.6,34.73 332.9,32.85" fill="none" stroke="#0070b8" stroke-width="0.9" stroke-linejoin="round" stroke-linecap="round"/>
<line x1="351.3" y1="26.9" x2="364.4" y2="26.9" stroke="#7fd0ff" stroke-width="1.7" stroke-linecap="butt"/>
<line x1="351.3" y1="38.8" x2="364.4" y2="38.8" stroke="#0070b8" stroke-width="2.0" stroke-linecap="butt"/>
<text x="365.9" y="30.3" font-size="7.9" font-weight="bold" stroke="#000" stroke-width="0.2"><tspan font-style="italic">D</tspan>-Cys-Se_Fresh</text>
<text x="365.9" y="39.9" font-size="7.9" font-weight="bold" stroke="#000" stroke-width="0.2"><tspan font-style="italic">D</tspan>-Cys-Se_13 months</text>
<line x1="274" y1="69.85" x2="448.25" y2="69.85" stroke="#000" stroke-width="1.6" stroke-linecap="butt"/>
<rect x="274" y="5.9" width="174.25" height="127.4" fill="none" stroke="#000" stroke-width="1.7"/>
<line x1="497.55" y1="5.9" x2="500.45" y2="5.9" stroke="#000" stroke-width="1.4" stroke-linecap="butt"/>
<text x="0" y="0" font-size="9.95" font-weight="bold" text-anchor="end" transform="translate(495.75 8.85) scale(0.96 1)" fill="#000" stroke="#000" stroke-width="0.15">0.010</text>
<line x1="497.55" y1="37.75" x2="500.45" y2="37.75" stroke="#000" stroke-width="1.4" stroke-linecap="butt"/>
<text x="0" y="0" font-size="9.95" font-weight="bold" text-anchor="end" transform="translate(495.75 40.7) scale(0.96 1)" fill="#000" stroke="#000" stroke-width="0.15">0.005</text>
<line x1="497.55" y1="69.6" x2="500.45" y2="69.6" stroke="#000" stroke-width="1.4" stroke-linecap="butt"/>
<text x="0" y="0" font-size="9.95" font-weight="bold" text-anchor="end" transform="translate(495.75 72.55) scale(0.96 1)" fill="#000" stroke="#000" stroke-width="0.15">0.000</text>
<line x1="497.55" y1="101.45" x2="500.45" y2="101.45" stroke="#000" stroke-width="1.4" stroke-linecap="butt"/>
<text x="0" y="0" font-size="9.95" font-weight="bold" text-anchor="end" transform="translate(495.75 104.4) scale(0.96 1)" fill="#000" stroke="#000" stroke-width="0.15">-0.005</text>
<line x1="497.55" y1="133.3" x2="500.45" y2="133.3" stroke="#000" stroke-width="1.4" stroke-linecap="butt"/>
<text x="0" y="0" font-size="9.95" font-weight="bold" text-anchor="end" transform="translate(495.75 136.25) scale(0.96 1)" fill="#000" stroke="#000" stroke-width="0.15">-0.010</text>
<line x1="498.85" y1="21.83" x2="500.45" y2="21.83" stroke="#000" stroke-width="1.2" stroke-linecap="butt"/>
<line x1="498.85" y1="53.68" x2="500.45" y2="53.68" stroke="#000" stroke-width="1.2" stroke-linecap="butt"/>
<line x1="498.85" y1="85.53" x2="500.45" y2="85.53" stroke="#000" stroke-width="1.2" stroke-linecap="butt"/>
<line x1="498.85" y1="117.38" x2="500.45" y2="117.38" stroke="#000" stroke-width="1.2" stroke-linecap="butt"/>
<line x1="523.51" y1="133.3" x2="523.51" y2="136.2" stroke="#000" stroke-width="1.4" stroke-linecap="butt"/>
<text x="0" y="0" font-size="9.95" font-weight="bold" text-anchor="middle" transform="translate(523.51 145.65) scale(0.96 1)" fill="#000" stroke="#000" stroke-width="0.15">500</text>
<line x1="561.28" y1="133.3" x2="561.28" y2="136.2" stroke="#000" stroke-width="1.4" stroke-linecap="butt"/>
<text x="0" y="0" font-size="9.95" font-weight="bold" text-anchor="middle" transform="translate(561.28 145.65) scale(0.96 1)" fill="#000" stroke="#000" stroke-width="0.15">1000</text>
<line x1="599.06" y1="133.3" x2="599.06" y2="136.2" stroke="#000" stroke-width="1.4" stroke-linecap="butt"/>
<text x="0" y="0" font-size="9.95" font-weight="bold" text-anchor="middle" transform="translate(599.06 145.65) scale(0.96 1)" fill="#000" stroke="#000" stroke-width="0.15">1500</text>
<line x1="636.83" y1="133.3" x2="636.83" y2="136.2" stroke="#000" stroke-width="1.4" stroke-linecap="butt"/>
<text x="0" y="0" font-size="9.95" font-weight="bold" text-anchor="middle" transform="translate(636.83 145.65) scale(0.96 1)" fill="#000" stroke="#000" stroke-width="0.15">2000</text>
<line x1="674.6" y1="133.3" x2="674.6" y2="136.2" stroke="#000" stroke-width="1.4" stroke-linecap="butt"/>
<text x="0" y="0" font-size="9.95" font-weight="bold" text-anchor="middle" transform="translate(674.6 145.65) scale(0.96 1)" fill="#000" stroke="#000" stroke-width="0.15">2500</text>
<line x1="504.63" y1="133.3" x2="504.63" y2="135" stroke="#000" stroke-width="1.2" stroke-linecap="butt"/>
<line x1="542.4" y1="133.3" x2="542.4" y2="135" stroke="#000" stroke-width="1.2" stroke-linecap="butt"/>
<line x1="580.17" y1="133.3" x2="580.17" y2="135" stroke="#000" stroke-width="1.2" stroke-linecap="butt"/>
<line x1="617.94" y1="133.3" x2="617.94" y2="135" stroke="#000" stroke-width="1.2" stroke-linecap="butt"/>
<line x1="655.71" y1="133.3" x2="655.71" y2="135" stroke="#000" stroke-width="1.2" stroke-linecap="butt"/>
<text x="587.92" y="158.5" font-size="12" font-weight="bold" text-anchor="middle" fill="#000" stroke="#000" stroke-width="0.22">Wavelength (nm)</text>
<text transform="translate(461.75 78.2) rotate(-90)" font-size="12.5" font-weight="bold" stroke="#000" stroke-width="0.2"><tspan font-style="italic">g</tspan><tspan font-size="8.4" dy="2.9" dx="-1.0">CD</tspan></text>
<text x="455.6" y="13" font-size="17.6" font-weight="bold" text-anchor="start" fill="#000" stroke="#000" stroke-width="0.15">c</text>
<polyline points="500.4,69.2 500.65,68.94 500.9,69.48 501.15,69.81 501.4,70.17 501.65,69.66 501.9,69.32 502.15,69.2 502.4,69.98 502.65,70.43 502.9,69.74 503.15,68.98 503.4,69.11 503.65,70.41 503.9,69.7 504.15,68.72 504.4,69.56 504.65,69.01 504.9,69.28 505.15,69.35 505.4,69.24 505.65,69.88 505.9,69.57 506.15,69.3 506.4,69.81 506.65,70.03 506.9,68.75 507.15,69.47 507.4,69.09 507.65,69.51 507.9,68.93 508.15,69.61 508.4,69.58 508.65,69.44 508.9,69.06 509.15,69.39 509.4,69.03 509.65,68.89 509.9,69.72 510.15,69.02 510.4,70.21 510.65,69.98 510.9,68.55 511.15,69.74 511.4,69.02 511.65,69.62 511.9,69.62 512.15,68.55 512.4,69.48 512.65,69.46 512.9,70.11 513.15,68.97 513.4,69.99 513.65,69.02 513.9,69.42 514.15,69.15 514.4,70.37 514.65,69.9 514.9,70.9 515.15,69.94 515.4,70.05 515.65,70.05 515.9,69.28 516.15,69.56 516.4,70.32 516.65,69.39 516.9,69.7 517.15,69.59 517.4,69.93 517.65,69.4 517.9,69.52 518.15,69.73 518.4,69.66 518.65,69.13 518.9,70.09 519.15,68.89 519.4,68.95 519.65,68.9 519.9,70.13 520.15,69.4 520.4,69.07 520.65,68.98 520.9,69.83 521.15,69.02 521.4,68.9 521.65,69.94 521.9,68.94 522.15,69.42 522.4,69.6 522.65,69.35 522.9,69.57 523.15,70.34 523.4,69.31 523.65,68.9 523.9,68.58 524.15,69.49 524.4,69.4 524.65,69.75 524.9,69.34 525.15,69.33 525.4,69.2 525.65,69.31 525.9,69.69 526.15,69.39 526.4,69.66 526.65,70.67 526.9,69.87 527.15,68.72 527.4,70.57 527.65,69.8 527.9,69.07 528.15,70.11 528.4,69.61 528.65,69.25 528.9,69.24 529.15,69.04 529.4,69.63 529.65,70.21 529.9,69.42 530.15,69.84 530.4,70.67 530.65,68.91 530.9,69.75 531.15,69.43 531.4,69 531.65,69.01 531.9,69.59 532.15,69.85 532.4,69.3 532.65,69.63 532.9,70.01 533.15,69.77 533.4,70.1 533.65,69.87 533.9,69.88 534.15,70.65 534.4,69.96 534.65,69.67 534.9,70.01 535.15,69.07 535.4,69.4 535.65,70.06 535.9,69.97 536.15,70.5 536.4,69.61 536.65,68.75 536.9,70.74 537.15,70.24 537.4,68.98 537.65,70.41 537.9,69.62 538.15,68.54 538.4,69.35 538.65,69.3 538.9,70.54 539.15,69.13 539.4,69.45 539.65,69.44 539.9,69.38 540.15,69.06 540.4,69.73 540.65,70.24 540.9,69.97 541.15,69.05 541.4,68.92 541.65,69.67 541.9,69.18 542.15,69.22 542.4,68.6 542.65,70.76 542.9,70.15 543.15,69.02 543.4,70.14 543.65,70.4 543.9,68.17 544.15,69.21 544.4,69.26 544.65,70.28 544.9,69.45 545.15,69.49 545.4,70.07 545.65,73.76 545.9,75.03 546.15,69.45 546.4,67.81 546.65,74.22 546.9,66.04 547.15,66.02 547.4,66.41 547.65,67.57 547.9,69.66 548.15,69.38 548.4,67.86 548.65,71.61 548.9,72.1 549.15,75.38 549.4,70.97 549.65,67.7 549.9,67.66 550.15,72.03 550.4,67.42 550.65,63.67 550.9,66.09 551.15,67.9 551.4,71.78 551.65,68.87 551.9,73.73 552.15,75.49 552.4,74 552.65,76.01 552.9,80.57 553.15,81.11 553.4,78.31 553.65,75.76 553.9,75.88 554.15,72.43 554.4,72.03 554.65,70.2 554.9,71.21 555.15,70.57 555.4,74.19 555.65,69.44 555.9,70.78 556.15,70.48 556.4,68.73 556.65,69.97 556.9,66.99 557.15,68.85 557.4,69.41 557.65,66.75 557.9,67.69 558.15,69.41 558.4,68.31 558.65,67.59 558.9,68.12 559.15,67.94 559.4,68.9 559.65,68.63 559.9,68 560.15,67.66 560.4,68.14 560.65,69.23 560.9,68.44 561.15,68.66 561.4,68.02 561.65,67.11 561.9,67.56 562.15,68.63 562.4,68.19 562.65,67.38 562.9,66.8 563.15,68.16 563.4,67.79 563.65,67.78 563.9,67.78 564.15,68.26 564.4,68.26 564.65,68.77 564.9,68.74 565.15,69.05 565.4,68.62 565.65,67.71 565.9,67.92 566.15,68.34 566.4,67.7 566.65,68.37 566.9,68.83 567.15,67.28 567.4,66.51 567.65,68.83 567.9,67.9 568.15,68.43 568.4,66.82 568.65,69.22 568.9,68.42 569.15,67.73 569.4,67.55 569.65,67.9 569.9,67.67 570.15,67.58 570.4,66.91 570.65,68.76 570.9,67.73 571.15,67.81 571.4,67.82 571.65,65.89 571.9,68.14 572.15,67.46 572.4,67.48 572.65,67.75 572.9,66.92 573.15,68.33 573.4,67.12 573.65,66.95 573.9,66.97 574.15,67.76 574.4,68.2 574.65,67.15 574.9,66.43 575.15,68.42 575.4,66.76 575.65,68.5 575.9,67.52 576.15,67.01 576.4,67.05 576.65,67.89 576.9,68.21 577.15,67.36 577.4,68.24 577.65,69.11 577.9,67.32 578.15,66.58 578.4,66.65 578.65,66.38 578.9,66.95 579.15,66.87 579.4,66.4 579.65,67.82 579.9,65.39 580.15,66.37 580.4,68.94 580.65,68.17 580.9,67.77 581.15,67.71 581.4,68.71 581.65,67.75 581.9,67.38 582.15,66.37 582.4,67.25 582.65,66.73 582.9,66.74 583.15,66.73 583.4,67.23 583.65,67 583.9,67.91 584.15,66.22 584.4,67.09 584.65,68.64 584.9,67.23 585.15,68.11 585.4,68.05 585.65,68.18 585.9,67.73 586.15,66.1 586.4,66.94 586.65,66.84 586.9,65.94 587.15,66.76 587.4,66.15 587.65,65.82 587.9,67.24 588.15,67.04 588.4,66.54 588.65,66.33 588.9,66.63 589.15,66.73 589.4,66.71 589.65,66.97 589.9,66.67 590.15,67.3 590.4,67.41 590.65,67.28 590.9,66.51 591.15,66.56 591.4,67.36 591.65,66.88 591.9,67.01 592.15,65.15 592.4,65 592.65,67.31 592.9,67.31 593.15,68.12 593.4,67.61 593.65,67.24 593.9,67.09 594.15,66.01 594.4,67.75 594.65,66.64 594.9,67.48 595.15,67.25 595.4,67.31 595.65,67.79 595.9,66.75 596.15,66.83 596.4,66.48 596.65,66.85 596.9,68.39 597.15,66.87 597.4,68.04 597.65,67.77 597.9,67.71 598.15,67.77 598.4,66.41 598.65,67.45 598.9,68.37 599.15,66.66 599.4,67.15 599.65,66.68 599.9,67.44 600.15,66.42 600.4,68.49 600.65,67.05 600.9,66.24 601.15,68.78 601.4,68.22 601.65,67.93 601.9,68 602.15,67.38 602.4,67.54 602.65,68.3 602.9,68.49 603.15,68.56 603.4,68.07 603.65,67.62 603.9,67.88 604.15,68.9 604.4,69.19 604.65,67.92 604.9,67.87 605.15,69.21 605.4,68.87 605.65,68.9 605.9,67.47 606.15,68.21 606.4,68.16 606.65,68.75 606.9,67.4 607.15,69.64 607.4,68.98 607.65,69.13 607.9,67.98 608.15,68.89 608.4,69.95 608.65,67.86 608.9,69.29 609.15,69.64 609.4,68.66 609.65,69.83 609.9,69.04 610.15,70.2 610.4,69.69 610.65,69.46 610.9,70.77 611.15,69.9 611.4,70.25 611.65,68.41 611.9,68.81 612.15,69.9 612.4,69.95 612.65,69.24 612.9,69.85 613.15,68.5 613.4,69.43 613.65,68.43 613.9,69.52 614.15,68.91 614.4,68.8 614.65,69.31 614.9,70.59 615.15,68.52 615.4,68.82 615.65,70.04 615.9,68.95 616.15,70.54 616.4,69.41 616.65,69.32 616.9,69.51 617.15,70.51 617.4,69.72 617.65,69.62 617.9,69.42 618.15,68.1 618.4,68.59 618.65,70.31 618.9,69.83 619.15,69.6 619.4,69.69 619.65,68.83 619.9,69.47 620.15,68.57 620.4,69.51 620.65,68.7 620.9,69.06 621.15,69.54 621.4,68.98 621.65,69.68 621.9,69.54 622.15,69.47 622.4,70.16 622.65,68.14 622.9,68.05 623.15,69.65 623.4,69.88 623.65,70.65 623.9,69.74 624.15,69.79 624.4,68.56 624.65,69.73 624.9,69.67 625.15,68.43 625.4,68.54 625.65,69.1 625.9,69.39 626.15,67.07 626.4,69.23 626.65,69.34 626.9,69.05 627.15,69.36 627.4,69.5 627.65,68.44 627.9,69.46 628.15,68.98 628.4,68.49 628.65,69.31 628.9,70.22 629.15,68.12 629.4,67.98 629.65,67.97 629.9,70.56 630.15,68.97 630.4,69.1 630.65,68.59 630.9,68.47 631.15,67.7 631.4,69.26 631.65,69.32 631.9,67.73 632.15,68.39 632.4,68.6 632.65,69.11 632.9,69.3 633.15,69.92 633.4,70.09 633.65,69.88 633.9,70.07 634.15,68.29 634.4,68.73 634.65,69.92 634.9,69.32 635.15,69.12 635.4,67.71 635.65,67.8 635.9,69.62 636.15,69.34 636.4,68.89 636.65,68.81 636.9,67.88 637.15,69.36 637.4,69.82 637.65,70.25 637.9,69.13 638.15,68.95 638.4,68.32 638.65,69.94 638.9,70.28 639.15,68.65 639.4,69.28 639.65,69.14 639.9,68.67 640.15,67.31 640.4,68.81 640.65,69.51 640.9,68.01 641.15,68.45 641.4,66.61 641.65,70.03 641.9,69.44 642.15,69.09 642.4,68.85 642.65,68.55 642.9,68.99 643.15,68.8 643.4,68.85 643.65,69.02 643.9,69.15 644.15,70.34 644.4,67.81 644.65,69.26 644.9,68.5 645.15,68.04 645.4,66.95 645.65,69.57 645.9,68.14 646.15,68.34 646.4,69.45 646.65,68.02 646.9,69.04 647.15,68.94 647.4,69.77 647.65,69.97 647.9,68.17 648.15,69.9 648.4,68.91 648.65,69.12 648.9,68.79 649.15,69.78 649.4,67.77 649.65,69.26 649.9,70.2 650.15,68.73 650.4,71.19 650.65,68.34 650.9,69.4 651.15,68.7 651.4,68.6 651.65,68.1 651.9,68.78 652.15,69.36 652.4,68.57 652.65,70.51 652.9,71.29 653.15,67.88 653.4,70.63 653.65,69.94 653.9,70.05 654.15,72.7 654.4,71.29 654.65,70.32 654.9,70.19 655.15,67.43 655.4,71.04 655.65,69.25 655.9,70.45 656.15,70.42 656.4,71.55 656.65,72.97 656.9,71.73 657.15,72.17 657.4,70.32 657.65,71.27 657.9,71.74 658.15,68.94 658.4,73.54 658.65,70 658.9,69.31 659.15,73.24 659.4,73.97 659.65,70.25 659.9,70.43 660.15,75.56 660.4,71.54 660.65,68.72 660.9,70.67 661.15,74.37 661.4,72.57 661.65,72.77 661.9,73.51 662.15,72.69 662.4,71.14 662.65,69.2 662.9,72.03 663.15,69.64 663.4,71.06 663.65,73.62 663.9,71.71 664.15,70.89 664.4,70.78 664.65,71.66 664.9,71.84 665.15,68.33 665.4,70.5 665.65,72.73 665.9,71.14 666.15,68.68 666.4,68.69 666.65,66.4 666.9,68.26 667.15,71.94 667.4,69.17 667.65,67.8 667.9,68.12 668.15,68.75 668.4,68.65 668.65,68.14 668.9,67.34 669.15,69.54 669.4,70.93 669.65,67.33 669.9,67.26 670.15,70.05 670.4,65.47 670.65,66.83 670.9,67.08 671.15,67.9 671.4,67.03 671.65,65.86 671.9,67.82 672.15,65.1 672.4,64.01 672.65,63.38 672.9,68.16 673.15,63.65 673.4,67.41 673.65,67.71 673.9,67.85 674.15,65.97 674.4,65.19 674.65,66.22" fill="none" stroke="#c0c0c0" stroke-width="2.0" stroke-linejoin="round" stroke-linecap="round"/>
<polyline points="500.4,70.07 500.65,70.4 500.9,68.45 501.15,69.54 501.4,70.06 501.65,70.21 501.9,69.9 502.15,70.28 502.4,69.73 502.65,69.85 502.9,69.68 503.15,69.11 503.4,69.21 503.65,69.77 503.9,69.33 504.15,70.18 504.4,70.19 504.65,70.43 504.9,69.59 505.15,70.24 505.4,69.18 505.65,69.22 505.9,69.64 506.15,69.73 506.4,68.86 506.65,68.8 506.9,69.77 507.15,69.2 507.4,70.16 507.65,69.78 507.9,69.74 508.15,69.7 508.4,70.02 508.65,69.53 508.9,70.11 509.15,69.35 509.4,69.49 509.65,69.28 509.9,69.88 510.15,69.62 510.4,69.19 510.65,70.55 510.9,69.43 511.15,69.54 511.4,69.79 511.65,70.43 511.9,69.53 512.15,69.94 512.4,69.65 512.65,68.9 512.9,69.98 513.15,70.09 513.4,69.48 513.65,69.59 513.9,68.88 514.15,68.87 514.4,69.41 514.65,69.9 514.9,69.37 515.15,69.74 515.4,70.07 515.65,69.65 515.9,69.88 516.15,70.3 516.4,68.99 516.65,69.96 516.9,68.68 517.15,69.81 517.4,69.7 517.65,69.33 517.9,69.07 518.15,69.57 518.4,69.4 518.65,69.65 518.9,69.15 519.15,69.87 519.4,69.09 519.65,69.45 519.9,69.41 520.15,70.23 520.4,68.86 520.65,69.39 520.9,70.19 521.15,69.27 521.4,68.98 521.65,69.74 521.9,69.46 522.15,70.02 522.4,69.14 522.65,69.7 522.9,69.93 523.15,70.12 523.4,69.04 523.65,70.32 523.9,69.15 524.15,68.84 524.4,69.12 524.65,69.68 524.9,69.44 525.15,69.82 525.4,69.85 525.65,69.76 525.9,69.47 526.15,70.52 526.4,68.47 526.65,68.72 526.9,69.34 527.15,68.96 527.4,68.29 527.65,69.19 527.9,69.22 528.15,68.34 528.4,70.04 528.65,70.27 528.9,70.24 529.15,69.34 529.4,69.68 529.65,69.02 529.9,69.71 530.15,69.25 530.4,69.81 530.65,69.42 530.9,70.14 531.15,70.03 531.4,70.25 531.65,68.76 531.9,68.65 532.15,69.81 532.4,69.3 532.65,69.81 532.9,69.76 533.15,69.69 533.4,70.08 533.65,69.89 533.9,69.85 534.15,69.13 534.4,70.51 534.65,69.67 534.9,70.19 535.15,69.77 535.4,70.27 535.65,69.68 535.9,69.72 536.15,69.67 536.4,69.22 536.65,69.3 536.9,69.52 537.15,69.54 537.4,69.07 537.65,70.86 537.9,69.07 538.15,69.44 538.4,70.91 538.65,69.25 538.9,70.01 539.15,69.96 539.4,69.49 539.65,68.83 539.9,68.76 540.15,69.6 540.4,69.83 540.65,68.43 540.9,69.68 541.15,69.24 541.4,70.09 541.65,69.7 541.9,69.16 542.15,69.37 542.4,69.63 542.65,70.34 542.9,71.27 543.15,69.8 543.4,69.67 543.65,69.99 543.9,69.63 544.15,70.07 544.4,69.99 544.65,69.73 544.9,68.87 545.15,70.11 545.4,71.36 545.65,70.18 545.9,72.55 546.15,71.66 546.4,69.94 546.65,72.94 546.9,68.36 547.15,72.03 547.4,73.13 547.65,69.76 547.9,70 548.15,71.67 548.4,72.46 548.65,70.88 548.9,70.57 549.15,71.65 549.4,70.61 549.65,68.26 549.9,69.89 550.15,70.15 550.4,67.75 550.65,70.76 550.9,68.91 551.15,71.26 551.4,67.67 551.65,68.56 551.9,67.67 552.15,72.03 552.4,71.99 552.65,72.27 552.9,72.26 553.15,71.32 553.4,71.28 553.65,67.11 553.9,70.32 554.15,68.99 554.4,69.26 554.65,67.95 554.9,71.46 555.15,69.77 555.4,67.58 555.65,69.84 555.9,68.99 556.15,67.84 556.4,68.45 556.65,67.88 556.9,66.51 557.15,67.12 557.4,68.74 557.65,68.6 557.9,68.53 558.15,67.37 558.4,67.83 558.65,68.35 558.9,68.85 559.15,67.63 559.4,67.46 559.65,69.21 559.9,68.35 560.15,68 560.4,67.72 560.65,67.8 560.9,69.59 561.15,69.11 561.4,68.01 561.65,67.36 561.9,69.69 562.15,69.62 562.4,69.34 562.65,69.06 562.9,66.9 563.15,67.38 563.4,68.86 563.65,68.2 563.9,68.63 564.15,68.02 564.4,67.93 564.65,68.89 564.9,68.15 565.15,68.47 565.4,68.68 565.65,68.67 565.9,69.41 566.15,69.58 566.4,67.43 566.65,68.31 566.9,68.02 567.15,69.13 567.4,67.7 567.65,69.16 567.9,69.11 568.15,69.02 568.4,67.81 568.65,68.42 568.9,67.75 569.15,68.91 569.4,69.36 569.65,67.43 569.9,67.98 570.15,68.51 570.4,68.23 570.65,69.82 570.9,68.55 571.15,68.87 571.4,67.81 571.65,69.89 571.9,68.82 572.15,69.31 572.4,68.78 572.65,67.06 572.9,67.48 573.15,67.73 573.4,69.11 573.65,68.36 573.9,69.1 574.15,68.99 574.4,68.97 574.65,69.5 574.9,68.94 575.15,67.53 575.4,68.28 575.65,70.11 575.9,67.99 576.15,69.89 576.4,70.12 576.65,68.38 576.9,69.12 577.15,67.77 577.4,69.46 577.65,68.27 577.9,67.86 578.15,68.58 578.4,68.54 578.65,68.44 578.9,69.06 579.15,68.78 579.4,68.4 579.65,69.66 579.9,70.8 580.15,68.99 580.4,68.4 580.65,68.18 580.9,69.41 581.15,68.77 581.4,68.98 581.65,67.44 581.9,68.11 582.15,68.1 582.4,69.72 582.65,68.8 582.9,67.1 583.15,69.39 583.4,69.89 583.65,70.03 583.9,66.89 584.15,69.16 584.4,69.67 584.65,69.52 584.9,68.88 585.15,67.69 585.4,68.75 585.65,68.84 585.9,69.53 586.15,69.59 586.4,68.92 586.65,69.76 586.9,68.31 587.15,68.6 587.4,69.11 587.65,69.58 587.9,68.9 588.15,70.09 588.4,69.47 588.65,68.44 588.9,69.24 589.15,68.5 589.4,68.45 589.65,68.1 589.9,70.26 590.15,69.9 590.4,68 590.65,70.07 590.9,69.97 591.15,68.97 591.4,69.64 591.65,70.97 591.9,69.49 592.15,69.61 592.4,70.15 592.65,68.52 592.9,68.36 593.15,68.26 593.4,69.28 593.65,70.01 593.9,68.71 594.15,68.33 594.4,69.54 594.65,69.12 594.9,69.87 595.15,69.33 595.4,69.3 595.65,69.39 595.9,69.49 596.15,68.75 596.4,68.64 596.65,70.69 596.9,71.83 597.15,70.36 597.4,68.31 597.65,69.56 597.9,70.45 598.15,68.35 598.4,69.21 598.65,69.28 598.9,68.91 599.15,68.98 599.4,70.38 599.65,69.29 599.9,69.47 600.15,70.93 600.4,69 600.65,68.21 600.9,70.12 601.15,71.14 601.4,69.79 601.65,69.86 601.9,68.67 602.15,68.93 602.4,70.72 602.65,70.57 602.9,70.07 603.15,69.15 603.4,68.74 603.65,68.84 603.9,68.75 604.15,70.07 604.4,69.03 604.65,69.24 604.9,70.12 605.15,70.1 605.4,69.63 605.65,69.95 605.9,69.59 606.15,68.15 606.4,69.52 606.65,69.26 606.9,69.31 607.15,69.75 607.4,69.15 607.65,70.48 607.9,69.44 608.15,69.69 608.4,69.81 608.65,69.44 608.9,70.04 609.15,70.12 609.4,70.03 609.65,69.04 609.9,68.89 610.15,69.11 610.4,69.55 610.65,68.17 610.9,68.92 611.15,68.69 611.4,69.04 611.65,68.86 611.9,70.13 612.15,69.86 612.4,70.24 612.65,68.81 612.9,68.96 613.15,69.31 613.4,70.75 613.65,70.76 613.9,69.08 614.15,69.99 614.4,71.1 614.65,68.78 614.9,69.39 615.15,70.48 615.4,70.06 615.65,68.8 615.9,70.64 616.15,70.25 616.4,70.03 616.65,68.62 616.9,69.41 617.15,70.49 617.4,69.88 617.65,70.11 617.9,69.33 618.15,70.62 618.4,69.35 618.65,70.19 618.9,69.76 619.15,68.82 619.4,70.6 619.65,68.61 619.9,68.98 620.15,69.62 620.4,68.5 620.65,68.21 620.9,69.43 621.15,69.2 621.4,69.31 621.65,69.87 621.9,71.14 622.15,69.2 622.4,71.27 622.65,69.68 622.9,69.43 623.15,67.55 623.4,68.39 623.65,69.68 623.9,69.89 624.15,68.89 624.4,69.7 624.65,70.13 624.9,69.07 625.15,68.31 625.4,68.77 625.65,69.25 625.9,69.67 626.15,70.02 626.4,68.8 626.65,69.49 626.9,69.28 627.15,69.49 627.4,70.25 627.65,70.39 627.9,69.12 628.15,69.03 628.4,68.97 628.65,69.08 628.9,69.16 629.15,69.34 629.4,69.1 629.65,68.69 629.9,68.62 630.15,69.49 630.4,71.19 630.65,69.85 630.9,69.91 631.15,69.7 631.4,69.34 631.65,70.87 631.9,69.23 632.15,68.76 632.4,68.57 632.65,69.58 632.9,68.74 633.15,68.83 633.4,68.83 633.65,68.51 633.9,69.56 634.15,68.25 634.4,71.05 634.65,67.49 634.9,68.45 635.15,69.48 635.4,69.73 635.65,69.2 635.9,69.64 636.15,69.56 636.4,69.53 636.65,69.86 636.9,69.62 637.15,69.37 637.4,69.35 637.65,70.07 637.9,69.32 638.15,69.85 638.4,70.56 638.65,69.72 638.9,70.3 639.15,69.15 639.4,69.64 639.65,69.8 639.9,69.61 640.15,69.78 640.4,70.45 640.65,69.21 640.9,68.95 641.15,69.68 641.4,68.34 641.65,69.43 641.9,70.36 642.15,69.42 642.4,69.87 642.65,69.74 642.9,70.41 643.15,69.85 643.4,69.6 643.65,66.61 643.9,68.97 644.15,70.03 644.4,69.29 644.65,68.75 644.9,70.22 645.15,68.6 645.4,69.09 645.65,70.03 645.9,68.91 646.15,69.55 646.4,69.36 646.65,68.22 646.9,68.86 647.15,69.01 647.4,68.72 647.65,70.46 647.9,69.33 648.15,68.69 648.4,67.9 648.65,69 648.9,70.72 649.15,69.01 649.4,70.14 649.65,69.82 649.9,68.76 650.15,68.27 650.4,69.92 650.65,67.43 650.9,69.97 651.15,67.96 651.4,70.31 651.65,68.87 651.9,69.22 652.15,70.58 652.4,68.13 652.65,69.39 652.9,68.95 653.15,69.96 653.4,70.22 653.65,69.69 653.9,69.6 654.15,68.83 654.4,70.11 654.65,69.04 654.9,69.51 655.15,69.58 655.4,67.56 655.65,67.85 655.9,69.64 656.15,69.32 656.4,71.04 656.65,66.04 656.9,69.63 657.15,70.85 657.4,69.48 657.65,70.44 657.9,69.38 658.15,69.27 658.4,70.64 658.65,67.5 658.9,66.13 659.15,70.05 659.4,69.53 659.65,69.52 659.9,69.78 660.15,70.28 660.4,68.66 660.65,70.06 660.9,69.83 661.15,67.61 661.4,69.13 661.65,69.78 661.9,68.14 662.15,70.98 662.4,68.89 662.65,70.63 662.9,71.67 663.15,67.01 663.4,67.24 663.65,70.32 663.9,69.06 664.15,70.21 664.4,72.21 664.65,68.58 664.9,70.81 665.15,68.95 665.4,68.3 665.65,70.18 665.9,69.82 666.15,71.22 666.4,69.92 666.65,70.89 666.9,70.3 667.15,66.43 667.4,68.76 667.65,68.83 667.9,70.97 668.15,67.46 668.4,69.55 668.65,68.35 668.9,65.69 669.15,68.58 669.4,69.9 669.65,67.95 669.9,70.21 670.15,69.1 670.4,68.85 670.65,67.19 670.9,67.72 671.15,68.79 671.4,67.83 671.65,65.33 671.9,67.22 672.15,67.98 672.4,68.89 672.65,67.86 672.9,63.82 673.15,66.61 673.4,61.59 673.65,62.98 673.9,62.15 674.15,66.32 674.4,64.16 674.65,62.89" fill="none" stroke="#4d4d4d" stroke-width="2.0" stroke-linejoin="round" stroke-linecap="round"/>
<polyline points="545,68 545.2,71.8 545.4,67.38 545.6,73.4 545.8,66.77 546,75 546.2,66.15 546.4,75.52 546.6,62.79 546.8,76.04 547,58.5 547.2,76.33 547.4,56.5 547.6,76.39 547.8,58.5 548,76.45 548.2,60.5 548.4,76.51 548.6,62.25 548.8,76.57 549,64 549.2,76.95 549.4,64.2 549.6,77.65 549.8,64.4 550,80.33 550.2,64.57 550.4,78.8 550.6,64.7 550.8,76.56 551,64.83 551.2,75.67 551.4,64.97 551.6,74.9 551.8,64.54 552,74.5 552.2,63.92 552.4,74.1 552.6,63.31 552.8,73.55 553,62.32 553.2,72.95 553.4,61.69 553.6,72.43 553.8,63.23 554,72.17 554.2,64.5 554.4,71.9 554.6,65.5 554.8,71.63 555,66.5 555.2,71.3 555.4,66.9 555.6,70.9 555.8,67.3 556,70.5" fill="none" stroke="#4d4d4d" stroke-width="0.9" stroke-linejoin="round" stroke-linecap="round"/>
<line x1="569.2" y1="26.9" x2="583.2" y2="26.9" stroke="#c4c4c4" stroke-width="1.7" stroke-linecap="butt"/>
<line x1="569.2" y1="38.5" x2="583.2" y2="38.5" stroke="#505050" stroke-width="2.0" stroke-linecap="butt"/>
<text x="586.9" y="30.3" font-size="7.9" font-weight="bold" stroke="#000" stroke-width="0.2"><tspan font-style="italic">DL</tspan>-Cys-Se_Fresh</text>
<text x="586.9" y="40.0" font-size="7.9" font-weight="bold" stroke="#000" stroke-width="0.2"><tspan font-style="italic">DL</tspan>-Cys-Se_13 months</text>
<rect x="500.45" y="5.9" width="174.15" height="127.4" fill="none" stroke="#000" stroke-width="1.7"/>
<g>
<g fill="none" stroke="#e85050" stroke-width="0.5" opacity="0.85"><circle cx="158.5" cy="287.95" r="1.2"/><circle cx="158.48" cy="289.57" r="1.2"/><circle cx="158.92" cy="287.11" r="1.2"/><circle cx="159.48" cy="288.25" r="1.2"/><circle cx="159.47" cy="288.34" r="1.2"/><circle cx="160.35" cy="289.4" r="1.2"/><circle cx="160.78" cy="287.91" r="1.2"/><circle cx="161.38" cy="286.15" r="1.2"/><circle cx="161.65" cy="287.78" r="1.2"/><circle cx="162.32" cy="286.15" r="1.2"/><circle cx="162.21" cy="284.9" r="1.2"/><circle cx="162.86" cy="286.63" r="1.2"/><circle cx="163.27" cy="282.99" r="1.2"/><circle cx="163.62" cy="285" r="1.2"/><circle cx="164.37" cy="283.29" r="1.2"/><circle cx="164.74" cy="286.71" r="1.2"/><circle cx="165.34" cy="284.08" r="1.2"/><circle cx="165.61" cy="286.1" r="1.2"/><circle cx="166.39" cy="285.67" r="1.2"/><circle cx="166.37" cy="284.37" r="1.2"/><circle cx="167.08" cy="285.07" r="1.2"/><circle cx="167.13" cy="286.09" r="1.2"/><circle cx="167.69" cy="283.35" r="1.2"/><circle cx="168.37" cy="281.64" r="1.2"/><circle cx="168.6" cy="284.93" r="1.2"/><circle cx="169.43" cy="286.11" r="1.2"/><circle cx="169.77" cy="284.87" r="1.2"/><circle cx="169.78" cy="285.26" r="1.2"/><circle cx="170.7" cy="284.65" r="1.2"/><circle cx="171.08" cy="280.97" r="1.2"/><circle cx="171.63" cy="283.15" r="1.2"/><circle cx="171.88" cy="282.76" r="1.2"/><circle cx="172.1" cy="283.83" r="1.2"/><circle cx="172.74" cy="284.11" r="1.2"/><circle cx="173.08" cy="283.85" r="1.2"/><circle cx="173.8" cy="284.64" r="1.2"/><circle cx="174.25" cy="282.64" r="1.2"/><circle cx="174.98" cy="284.69" r="1.2"/><circle cx="175.2" cy="280.34" r="1.2"/><circle cx="175.4" cy="283.3" r="1.2"/></g>
<g fill="none" stroke="#30a830" stroke-width="0.5" opacity="0.85"><circle cx="158.48" cy="293.29" r="1.2"/><circle cx="158.75" cy="292.76" r="1.2"/><circle cx="158.65" cy="296.47" r="1.2"/><circle cx="159.16" cy="293.92" r="1.2"/><circle cx="160.31" cy="294.59" r="1.2"/><circle cx="159.93" cy="297.12" r="1.2"/><circle cx="160.99" cy="293.08" r="1.2"/><circle cx="161.37" cy="296.16" r="1.2"/><circle cx="161.78" cy="292.53" r="1.2"/><circle cx="162.09" cy="293.48" r="1.2"/><circle cx="162.68" cy="292.26" r="1.2"/><circle cx="163.01" cy="293.68" r="1.2"/><circle cx="163.15" cy="292.74" r="1.2"/><circle cx="164.22" cy="292.2" r="1.2"/><circle cx="164" cy="292.5" r="1.2"/><circle cx="164.93" cy="294.65" r="1.2"/><circle cx="165.26" cy="295.66" r="1.2"/><circle cx="165.32" cy="291.67" r="1.2"/><circle cx="166.77" cy="294.2" r="1.2"/><circle cx="166.41" cy="290.84" r="1.2"/><circle cx="166.81" cy="292.82" r="1.2"/><circle cx="167.37" cy="291.38" r="1.2"/><circle cx="168.17" cy="291.93" r="1.2"/><circle cx="168.57" cy="291.53" r="1.2"/><circle cx="168.87" cy="290.72" r="1.2"/><circle cx="168.86" cy="288" r="1.2"/><circle cx="169.52" cy="292.26" r="1.2"/><circle cx="170.25" cy="291.79" r="1.2"/><circle cx="170.76" cy="292.76" r="1.2"/><circle cx="170.97" cy="292.16" r="1.2"/><circle cx="171.26" cy="289.44" r="1.2"/><circle cx="171.6" cy="289.62" r="1.2"/><circle cx="172.3" cy="289.38" r="1.2"/><circle cx="172.68" cy="290.44" r="1.2"/><circle cx="173.19" cy="287.03" r="1.2"/><circle cx="173.92" cy="290.11" r="1.2"/><circle cx="173.93" cy="290.5" r="1.2"/><circle cx="175.04" cy="288.4" r="1.2"/><circle cx="175.44" cy="290.48" r="1.2"/><circle cx="175.22" cy="292.39" r="1.2"/></g>
<g fill="none" stroke="#3050e0" stroke-width="0.5" opacity="0.85"><circle cx="158.28" cy="306.74" r="1.2"/><circle cx="158.74" cy="306.73" r="1.2"/><circle cx="159.09" cy="305.97" r="1.2"/><circle cx="159.45" cy="303.33" r="1.2"/><circle cx="159.96" cy="304.13" r="1.2"/><circle cx="160.53" cy="304.26" r="1.2"/><circle cx="160.89" cy="305.81" r="1.2"/><circle cx="161.28" cy="304.85" r="1.2"/><circle cx="161.66" cy="303.52" r="1.2"/><circle cx="162.24" cy="303.2" r="1.2"/><circle cx="162.73" cy="303.66" r="1.2"/><circle cx="163.25" cy="301.52" r="1.2"/><circle cx="163.29" cy="302.06" r="1.2"/><circle cx="163.77" cy="302.59" r="1.2"/><circle cx="164.21" cy="303.02" r="1.2"/><circle cx="164.59" cy="300.86" r="1.2"/><circle cx="165.25" cy="303.93" r="1.2"/><circle cx="165.69" cy="300.21" r="1.2"/><circle cx="166.58" cy="299.41" r="1.2"/><circle cx="166.69" cy="299.19" r="1.2"/><circle cx="166.65" cy="301.89" r="1.2"/><circle cx="167.71" cy="301.41" r="1.2"/><circle cx="167.96" cy="301.51" r="1.2"/><circle cx="168.38" cy="302.04" r="1.2"/><circle cx="168.75" cy="301.05" r="1.2"/><circle cx="168.99" cy="301.32" r="1.2"/><circle cx="169.54" cy="301.41" r="1.2"/><circle cx="170.2" cy="298.63" r="1.2"/><circle cx="170.79" cy="302.39" r="1.2"/><circle cx="171.17" cy="299.16" r="1.2"/><circle cx="171.41" cy="299.11" r="1.2"/><circle cx="171.3" cy="299.73" r="1.2"/><circle cx="172.07" cy="299.74" r="1.2"/><circle cx="172.4" cy="298.35" r="1.2"/><circle cx="172.97" cy="297.07" r="1.2"/><circle cx="174.07" cy="300.21" r="1.2"/><circle cx="174.37" cy="298.88" r="1.2"/><circle cx="174.06" cy="298.41" r="1.2"/><circle cx="175.09" cy="298.85" r="1.2"/><circle cx="175.5" cy="297.9" r="1.2"/></g>
<g fill="#d01010" stroke="#d01010" stroke-width="0.3" opacity="0.92"><circle cx="158.26" cy="287.82" r="1.15"/><circle cx="158.73" cy="285.85" r="1.15"/><circle cx="159.02" cy="286.87" r="1.15"/><circle cx="159.85" cy="287.82" r="1.15"/><circle cx="159.91" cy="286.44" r="1.15"/><circle cx="160.22" cy="287.54" r="1.15"/><circle cx="160.26" cy="287.51" r="1.15"/><circle cx="161.18" cy="287.11" r="1.15"/><circle cx="160.83" cy="287.05" r="1.15"/><circle cx="161.62" cy="286.75" r="1.15"/><circle cx="161.47" cy="286.41" r="1.15"/><circle cx="161.62" cy="287.34" r="1.15"/><circle cx="162.24" cy="286.29" r="1.15"/><circle cx="162.86" cy="284.64" r="1.15"/><circle cx="162.58" cy="285.9" r="1.15"/><circle cx="163.08" cy="286.01" r="1.15"/><circle cx="163.32" cy="283.63" r="1.15"/><circle cx="163.97" cy="285.46" r="1.15"/><circle cx="164.14" cy="285.25" r="1.15"/><circle cx="164.39" cy="285.4" r="1.15"/><circle cx="164.79" cy="285.91" r="1.15"/><circle cx="165.2" cy="285" r="1.15"/><circle cx="165.2" cy="283.66" r="1.15"/><circle cx="165.78" cy="285.86" r="1.15"/><circle cx="166.09" cy="284.11" r="1.15"/><circle cx="166.39" cy="283.81" r="1.15"/><circle cx="166.7" cy="283.52" r="1.15"/><circle cx="167.28" cy="282.58" r="1.15"/><circle cx="166.87" cy="283.46" r="1.15"/><circle cx="167.48" cy="283.65" r="1.15"/><circle cx="167.6" cy="283.91" r="1.15"/><circle cx="169.11" cy="284.06" r="1.15"/><circle cx="168.6" cy="282.48" r="1.15"/><circle cx="168.88" cy="283.28" r="1.15"/><circle cx="168.86" cy="281.85" r="1.15"/><circle cx="169.45" cy="283.82" r="1.15"/><circle cx="169.6" cy="284.81" r="1.15"/><circle cx="170.82" cy="283.42" r="1.15"/><circle cx="170.17" cy="282.5" r="1.15"/><circle cx="170.7" cy="283.08" r="1.15"/><circle cx="171.06" cy="283.8" r="1.15"/><circle cx="171.39" cy="282.28" r="1.15"/><circle cx="171.97" cy="285.26" r="1.15"/><circle cx="171.93" cy="280.31" r="1.15"/><circle cx="172.44" cy="281.95" r="1.15"/><circle cx="173.08" cy="282.51" r="1.15"/><circle cx="173.13" cy="283.43" r="1.15"/><circle cx="173.21" cy="282.69" r="1.15"/><circle cx="173.86" cy="282.75" r="1.15"/><circle cx="173.76" cy="282.85" r="1.15"/><circle cx="174.21" cy="283.44" r="1.15"/><circle cx="174.28" cy="282.15" r="1.15"/><circle cx="174.63" cy="281.64" r="1.15"/><circle cx="175.36" cy="279.56" r="1.15"/><circle cx="175.37" cy="282.51" r="1.15"/></g>
<g fill="#109010" stroke="#109010" stroke-width="0.3" opacity="0.92"><circle cx="158.59" cy="294.64" r="1.15"/><circle cx="158.17" cy="293.99" r="1.15"/><circle cx="159.24" cy="293.41" r="1.15"/><circle cx="159.88" cy="294.78" r="1.15"/><circle cx="159.44" cy="294.53" r="1.15"/><circle cx="160.19" cy="291.52" r="1.15"/><circle cx="160.6" cy="293.2" r="1.15"/><circle cx="160.73" cy="292.97" r="1.15"/><circle cx="161.1" cy="291.77" r="1.15"/><circle cx="161.39" cy="292.51" r="1.15"/><circle cx="161.58" cy="293.13" r="1.15"/><circle cx="161.92" cy="292.91" r="1.15"/><circle cx="162.37" cy="293.16" r="1.15"/><circle cx="162.41" cy="292.01" r="1.15"/><circle cx="162.84" cy="293.74" r="1.15"/><circle cx="163.28" cy="293.04" r="1.15"/><circle cx="163.31" cy="291.69" r="1.15"/><circle cx="163.87" cy="292.13" r="1.15"/><circle cx="163.81" cy="292.42" r="1.15"/><circle cx="164.41" cy="291.35" r="1.15"/><circle cx="164.16" cy="293.01" r="1.15"/><circle cx="164.93" cy="291.97" r="1.15"/><circle cx="165.26" cy="291.86" r="1.15"/><circle cx="166.08" cy="291.71" r="1.15"/><circle cx="166.12" cy="291.59" r="1.15"/><circle cx="166.13" cy="291.51" r="1.15"/><circle cx="166.58" cy="291.54" r="1.15"/><circle cx="166.94" cy="290.35" r="1.15"/><circle cx="167.45" cy="290.71" r="1.15"/><circle cx="167.44" cy="290.76" r="1.15"/><circle cx="168.14" cy="291.85" r="1.15"/><circle cx="168.36" cy="291.6" r="1.15"/><circle cx="168.41" cy="290.39" r="1.15"/><circle cx="169.07" cy="290.15" r="1.15"/><circle cx="168.77" cy="290.36" r="1.15"/><circle cx="169.11" cy="290.14" r="1.15"/><circle cx="169.47" cy="290.2" r="1.15"/><circle cx="170.12" cy="288.95" r="1.15"/><circle cx="169.99" cy="289.8" r="1.15"/><circle cx="171.26" cy="290.35" r="1.15"/><circle cx="171.48" cy="288.47" r="1.15"/><circle cx="171.22" cy="289" r="1.15"/><circle cx="171.29" cy="289.3" r="1.15"/><circle cx="172.09" cy="290.38" r="1.15"/><circle cx="172.21" cy="288.64" r="1.15"/><circle cx="172.51" cy="287.92" r="1.15"/><circle cx="172.48" cy="289.78" r="1.15"/><circle cx="173.26" cy="288.58" r="1.15"/><circle cx="173.88" cy="289.66" r="1.15"/><circle cx="173.67" cy="288.35" r="1.15"/><circle cx="174.08" cy="288.98" r="1.15"/><circle cx="174.75" cy="288.26" r="1.15"/><circle cx="174.86" cy="289.76" r="1.15"/><circle cx="175.25" cy="288.15" r="1.15"/><circle cx="175.42" cy="286.69" r="1.15"/></g>
<g fill="#0808c8" stroke="#0808c8" stroke-width="0.3" opacity="0.95"><circle cx="159.07" cy="303.36" r="1.25"/><circle cx="158.83" cy="304.25" r="1.25"/><circle cx="158.48" cy="303.51" r="1.25"/><circle cx="159.82" cy="303.87" r="1.25"/><circle cx="159.9" cy="302.82" r="1.25"/><circle cx="159.66" cy="303.51" r="1.25"/><circle cx="160.7" cy="303.45" r="1.25"/><circle cx="160.66" cy="302.84" r="1.25"/><circle cx="160.6" cy="302.99" r="1.25"/><circle cx="161.56" cy="302.39" r="1.25"/><circle cx="161.86" cy="301.4" r="1.25"/><circle cx="161.41" cy="301.71" r="1.25"/><circle cx="162" cy="301.71" r="1.25"/><circle cx="162.26" cy="301.78" r="1.25"/><circle cx="162.68" cy="302.04" r="1.25"/><circle cx="163.03" cy="301.44" r="1.25"/><circle cx="163.79" cy="300.84" r="1.25"/><circle cx="163.71" cy="300.98" r="1.25"/><circle cx="164.41" cy="299.92" r="1.25"/><circle cx="164.36" cy="300.92" r="1.25"/><circle cx="164.49" cy="300.44" r="1.25"/><circle cx="164.86" cy="299.5" r="1.25"/><circle cx="165.45" cy="300.14" r="1.25"/><circle cx="165.88" cy="299.29" r="1.25"/><circle cx="166.05" cy="300.03" r="1.25"/><circle cx="166.25" cy="299.99" r="1.25"/><circle cx="166.75" cy="299.12" r="1.25"/><circle cx="167.15" cy="298.98" r="1.25"/><circle cx="167.62" cy="298.15" r="1.25"/><circle cx="167.54" cy="298.33" r="1.25"/><circle cx="168.04" cy="297.87" r="1.25"/><circle cx="168.47" cy="299.36" r="1.25"/><circle cx="168.13" cy="299" r="1.25"/><circle cx="168.72" cy="297.93" r="1.25"/><circle cx="169.43" cy="297.74" r="1.25"/><circle cx="169.45" cy="298.31" r="1.25"/><circle cx="169.54" cy="298.39" r="1.25"/><circle cx="169.87" cy="297.45" r="1.25"/><circle cx="170.49" cy="298.2" r="1.25"/><circle cx="170.98" cy="298.15" r="1.25"/><circle cx="170.89" cy="296.89" r="1.25"/><circle cx="171" cy="297.69" r="1.25"/><circle cx="171.91" cy="297.18" r="1.25"/><circle cx="172.24" cy="298.06" r="1.25"/><circle cx="172.23" cy="297.33" r="1.25"/><circle cx="172.5" cy="297.85" r="1.25"/><circle cx="173.24" cy="297.3" r="1.25"/><circle cx="173.07" cy="296.78" r="1.25"/><circle cx="173.69" cy="296.89" r="1.25"/><circle cx="173.89" cy="297.09" r="1.25"/><circle cx="173.77" cy="297.03" r="1.25"/><circle cx="174.52" cy="296.08" r="1.25"/><circle cx="174.46" cy="295.94" r="1.25"/><circle cx="174.88" cy="295.68" r="1.25"/><circle cx="175.17" cy="296.19" r="1.25"/></g>
<g fill="none" stroke="#e85050" stroke-width="0.5" opacity="0.85"><circle cx="189.97" cy="282.95" r="1.2"/><circle cx="190.3" cy="282.17" r="1.2"/><circle cx="190.15" cy="282.62" r="1.2"/><circle cx="190.62" cy="281.6" r="1.2"/><circle cx="191.02" cy="282.93" r="1.2"/><circle cx="191.9" cy="283.56" r="1.2"/><circle cx="192.39" cy="278.34" r="1.2"/><circle cx="192.44" cy="283.49" r="1.2"/><circle cx="192.63" cy="282.44" r="1.2"/><circle cx="193.11" cy="281.13" r="1.2"/><circle cx="193.52" cy="281.26" r="1.2"/><circle cx="194.51" cy="276.34" r="1.2"/><circle cx="194.7" cy="283.48" r="1.2"/><circle cx="195.32" cy="281.05" r="1.2"/><circle cx="195.89" cy="279.07" r="1.2"/><circle cx="195.87" cy="281.77" r="1.2"/><circle cx="196.71" cy="279.91" r="1.2"/><circle cx="197.47" cy="276.68" r="1.2"/><circle cx="197.27" cy="281.49" r="1.2"/><circle cx="197.96" cy="280.93" r="1.2"/><circle cx="198.77" cy="277.88" r="1.2"/><circle cx="198.92" cy="278.33" r="1.2"/><circle cx="199.6" cy="280.12" r="1.2"/><circle cx="199.37" cy="279.04" r="1.2"/><circle cx="200.44" cy="275.2" r="1.2"/><circle cx="200.64" cy="276.02" r="1.2"/><circle cx="201" cy="275.66" r="1.2"/><circle cx="201.9" cy="275.21" r="1.2"/><circle cx="201.9" cy="275.45" r="1.2"/><circle cx="202.68" cy="276.55" r="1.2"/><circle cx="202.81" cy="274.78" r="1.2"/><circle cx="203.39" cy="276.74" r="1.2"/><circle cx="203.59" cy="277.9" r="1.2"/><circle cx="204.05" cy="277.7" r="1.2"/><circle cx="204.56" cy="278.18" r="1.2"/><circle cx="205.02" cy="276.64" r="1.2"/><circle cx="206.04" cy="278.31" r="1.2"/><circle cx="205.99" cy="277.18" r="1.2"/><circle cx="205.84" cy="280.25" r="1.2"/><circle cx="206.5" cy="275.59" r="1.2"/></g>
<g fill="none" stroke="#30a830" stroke-width="0.5" opacity="0.85"><circle cx="190.15" cy="291.23" r="1.2"/><circle cx="190.29" cy="291.84" r="1.2"/><circle cx="189.81" cy="290.77" r="1.2"/><circle cx="191.12" cy="287.48" r="1.2"/><circle cx="190.99" cy="291.08" r="1.2"/><circle cx="191.37" cy="292.33" r="1.2"/><circle cx="192.56" cy="292.21" r="1.2"/><circle cx="192.36" cy="289.21" r="1.2"/><circle cx="192.81" cy="291.48" r="1.2"/><circle cx="193.23" cy="291.35" r="1.2"/><circle cx="193.99" cy="291.12" r="1.2"/><circle cx="194.19" cy="289.11" r="1.2"/><circle cx="194.38" cy="289.97" r="1.2"/><circle cx="195.2" cy="289.05" r="1.2"/><circle cx="195.42" cy="290.34" r="1.2"/><circle cx="196.1" cy="291.74" r="1.2"/><circle cx="196.97" cy="287.31" r="1.2"/><circle cx="197.02" cy="291.37" r="1.2"/><circle cx="197.51" cy="287.39" r="1.2"/><circle cx="197.87" cy="287.54" r="1.2"/><circle cx="198.49" cy="290.78" r="1.2"/><circle cx="198.92" cy="288.54" r="1.2"/><circle cx="199.49" cy="288.12" r="1.2"/><circle cx="199.63" cy="289.41" r="1.2"/><circle cx="200.77" cy="288.13" r="1.2"/><circle cx="200.56" cy="288.48" r="1.2"/><circle cx="201.05" cy="290.81" r="1.2"/><circle cx="201.66" cy="285.97" r="1.2"/><circle cx="201.81" cy="286.15" r="1.2"/><circle cx="202.34" cy="287.87" r="1.2"/><circle cx="202.68" cy="286.12" r="1.2"/><circle cx="203.55" cy="286.25" r="1.2"/><circle cx="203.56" cy="285.94" r="1.2"/><circle cx="204.01" cy="289.97" r="1.2"/><circle cx="204.92" cy="289.02" r="1.2"/><circle cx="204.68" cy="286.44" r="1.2"/><circle cx="205.64" cy="287.23" r="1.2"/><circle cx="205.93" cy="287.89" r="1.2"/><circle cx="206.71" cy="288.12" r="1.2"/><circle cx="207.16" cy="284.62" r="1.2"/></g>
<g fill="none" stroke="#3050e0" stroke-width="0.5" opacity="0.85"><circle cx="189.4" cy="300.24" r="1.2"/><circle cx="190.45" cy="299.5" r="1.2"/><circle cx="189.98" cy="301.28" r="1.2"/><circle cx="190.84" cy="299.96" r="1.2"/><circle cx="191.18" cy="299.55" r="1.2"/><circle cx="191.97" cy="297.7" r="1.2"/><circle cx="192.11" cy="298.38" r="1.2"/><circle cx="192.46" cy="298.8" r="1.2"/><circle cx="193.18" cy="300.63" r="1.2"/><circle cx="193.29" cy="298.59" r="1.2"/><circle cx="194.21" cy="298.83" r="1.2"/><circle cx="194.47" cy="299.61" r="1.2"/><circle cx="194.79" cy="298.93" r="1.2"/><circle cx="194.83" cy="299.64" r="1.2"/><circle cx="195.54" cy="301.54" r="1.2"/><circle cx="196.52" cy="298.44" r="1.2"/><circle cx="196.63" cy="299.49" r="1.2"/><circle cx="196.68" cy="298.31" r="1.2"/><circle cx="197.81" cy="299.34" r="1.2"/><circle cx="198.29" cy="297.77" r="1.2"/><circle cx="198.21" cy="297.46" r="1.2"/><circle cx="198.84" cy="299.82" r="1.2"/><circle cx="199.09" cy="300.15" r="1.2"/><circle cx="199.25" cy="297.81" r="1.2"/><circle cx="199.89" cy="297.64" r="1.2"/><circle cx="200.68" cy="297.4" r="1.2"/><circle cx="200.55" cy="298.54" r="1.2"/><circle cx="201.28" cy="303.02" r="1.2"/><circle cx="202.24" cy="297.85" r="1.2"/><circle cx="202.09" cy="301.31" r="1.2"/><circle cx="202.57" cy="297.69" r="1.2"/><circle cx="203.18" cy="301.41" r="1.2"/><circle cx="203.7" cy="298.77" r="1.2"/><circle cx="203.8" cy="301.66" r="1.2"/><circle cx="204.24" cy="299.5" r="1.2"/><circle cx="205.49" cy="303.15" r="1.2"/><circle cx="205.44" cy="301.52" r="1.2"/><circle cx="205.39" cy="301.18" r="1.2"/><circle cx="206.02" cy="300.72" r="1.2"/><circle cx="206.63" cy="298.55" r="1.2"/></g>
<g fill="#d01010" stroke="#d01010" stroke-width="0.3" opacity="0.92"><circle cx="190" cy="281.68" r="1.15"/><circle cx="190.24" cy="282.48" r="1.15"/><circle cx="190.65" cy="280.85" r="1.15"/><circle cx="191.09" cy="281.45" r="1.15"/><circle cx="190.42" cy="280.58" r="1.15"/><circle cx="191.96" cy="280.83" r="1.15"/><circle cx="191.69" cy="281.53" r="1.15"/><circle cx="192.18" cy="281.76" r="1.15"/><circle cx="192.24" cy="281.23" r="1.15"/><circle cx="192.73" cy="280.74" r="1.15"/><circle cx="192.71" cy="279.94" r="1.15"/><circle cx="193.55" cy="280.5" r="1.15"/><circle cx="193.75" cy="280.8" r="1.15"/><circle cx="194.58" cy="280.53" r="1.15"/><circle cx="194.51" cy="280.15" r="1.15"/><circle cx="194.58" cy="281.49" r="1.15"/><circle cx="195.14" cy="279.79" r="1.15"/><circle cx="195.27" cy="280.9" r="1.15"/><circle cx="195.53" cy="279.53" r="1.15"/><circle cx="196.1" cy="277.94" r="1.15"/><circle cx="195.7" cy="278.62" r="1.15"/><circle cx="196.01" cy="278.54" r="1.15"/><circle cx="196.77" cy="277.58" r="1.15"/><circle cx="197.34" cy="277.49" r="1.15"/><circle cx="197.45" cy="276.82" r="1.15"/><circle cx="198.07" cy="278.46" r="1.15"/><circle cx="198.08" cy="278.61" r="1.15"/><circle cx="198.32" cy="277.68" r="1.15"/><circle cx="198.48" cy="278.53" r="1.15"/><circle cx="198.94" cy="277.87" r="1.15"/><circle cx="199.21" cy="277.51" r="1.15"/><circle cx="199.42" cy="279.12" r="1.15"/><circle cx="199.97" cy="277.32" r="1.15"/><circle cx="200.33" cy="277.54" r="1.15"/><circle cx="200.77" cy="277.27" r="1.15"/><circle cx="200.84" cy="275.43" r="1.15"/><circle cx="201.21" cy="275.57" r="1.15"/><circle cx="201.23" cy="275.51" r="1.15"/><circle cx="202.13" cy="276.42" r="1.15"/><circle cx="202.17" cy="276.89" r="1.15"/><circle cx="202.18" cy="277.53" r="1.15"/><circle cx="202.62" cy="274.38" r="1.15"/><circle cx="203.35" cy="276.12" r="1.15"/><circle cx="203.02" cy="278.4" r="1.15"/><circle cx="204.06" cy="278.8" r="1.15"/><circle cx="204.07" cy="277.43" r="1.15"/><circle cx="204.31" cy="278.97" r="1.15"/><circle cx="204.64" cy="276.46" r="1.15"/><circle cx="205.04" cy="275.76" r="1.15"/><circle cx="205.32" cy="277" r="1.15"/><circle cx="205.29" cy="277.52" r="1.15"/><circle cx="205.61" cy="278.49" r="1.15"/><circle cx="205.78" cy="278.2" r="1.15"/><circle cx="206.29" cy="277.84" r="1.15"/><circle cx="206.64" cy="277.65" r="1.15"/></g>
<g fill="#109010" stroke="#109010" stroke-width="0.3" opacity="0.92"><circle cx="189.58" cy="288.67" r="1.15"/><circle cx="190.33" cy="290.36" r="1.15"/><circle cx="189.96" cy="289.02" r="1.15"/><circle cx="190.75" cy="289.39" r="1.15"/><circle cx="190.91" cy="289.48" r="1.15"/><circle cx="191.67" cy="290.56" r="1.15"/><circle cx="191.51" cy="290.36" r="1.15"/><circle cx="192.01" cy="289.72" r="1.15"/><circle cx="192.59" cy="288.41" r="1.15"/><circle cx="192.56" cy="289.52" r="1.15"/><circle cx="193.19" cy="290.47" r="1.15"/><circle cx="193.61" cy="289.92" r="1.15"/><circle cx="193.31" cy="289.7" r="1.15"/><circle cx="194.19" cy="288.7" r="1.15"/><circle cx="194.26" cy="288.29" r="1.15"/><circle cx="194.93" cy="289.12" r="1.15"/><circle cx="195.11" cy="289.73" r="1.15"/><circle cx="195.42" cy="288.44" r="1.15"/><circle cx="195.47" cy="288.9" r="1.15"/><circle cx="195.95" cy="289.46" r="1.15"/><circle cx="196.45" cy="287.66" r="1.15"/><circle cx="196.6" cy="287.95" r="1.15"/><circle cx="196.76" cy="286.83" r="1.15"/><circle cx="196.83" cy="287.18" r="1.15"/><circle cx="197.93" cy="286.3" r="1.15"/><circle cx="197.76" cy="287.6" r="1.15"/><circle cx="197.99" cy="288.5" r="1.15"/><circle cx="197.99" cy="287.92" r="1.15"/><circle cx="198.54" cy="287.58" r="1.15"/><circle cx="199" cy="287.74" r="1.15"/><circle cx="198.81" cy="286.14" r="1.15"/><circle cx="199.77" cy="286.35" r="1.15"/><circle cx="200" cy="287.42" r="1.15"/><circle cx="199.54" cy="285.38" r="1.15"/><circle cx="200.44" cy="286.41" r="1.15"/><circle cx="200.93" cy="286.34" r="1.15"/><circle cx="200.86" cy="286.6" r="1.15"/><circle cx="201.5" cy="285.95" r="1.15"/><circle cx="201.76" cy="286.62" r="1.15"/><circle cx="202.03" cy="288.3" r="1.15"/><circle cx="202.16" cy="286.49" r="1.15"/><circle cx="202.85" cy="286.02" r="1.15"/><circle cx="203" cy="286.68" r="1.15"/><circle cx="203.36" cy="286.45" r="1.15"/><circle cx="202.84" cy="284.55" r="1.15"/><circle cx="204.18" cy="287.82" r="1.15"/><circle cx="203.86" cy="285.84" r="1.15"/><circle cx="204.94" cy="284.78" r="1.15"/><circle cx="204.84" cy="283.48" r="1.15"/><circle cx="205.27" cy="286.32" r="1.15"/><circle cx="205.51" cy="286.14" r="1.15"/><circle cx="205.6" cy="287.37" r="1.15"/><circle cx="206.24" cy="284.28" r="1.15"/><circle cx="206.47" cy="286.43" r="1.15"/><circle cx="206.67" cy="286.04" r="1.15"/></g>
<g fill="#0808c8" stroke="#0808c8" stroke-width="0.3" opacity="0.95"><circle cx="190.21" cy="297.09" r="1.25"/><circle cx="190.55" cy="298.7" r="1.25"/><circle cx="190.19" cy="297.46" r="1.25"/><circle cx="190.74" cy="296.99" r="1.25"/><circle cx="191.24" cy="298" r="1.25"/><circle cx="191.47" cy="296.75" r="1.25"/><circle cx="191.76" cy="297.59" r="1.25"/><circle cx="192" cy="297.53" r="1.25"/><circle cx="192.4" cy="297.86" r="1.25"/><circle cx="192.51" cy="297.6" r="1.25"/><circle cx="192.96" cy="297.67" r="1.25"/><circle cx="193.43" cy="296.12" r="1.25"/><circle cx="193.85" cy="297.2" r="1.25"/><circle cx="193.91" cy="297.22" r="1.25"/><circle cx="194.25" cy="297.41" r="1.25"/><circle cx="194.11" cy="296.98" r="1.25"/><circle cx="194.48" cy="298.31" r="1.25"/><circle cx="195.35" cy="296.97" r="1.25"/><circle cx="195.65" cy="297.36" r="1.25"/><circle cx="196.13" cy="297.56" r="1.25"/><circle cx="196.86" cy="297.24" r="1.25"/><circle cx="196.5" cy="296.41" r="1.25"/><circle cx="196.62" cy="296.77" r="1.25"/><circle cx="197.44" cy="297.12" r="1.25"/><circle cx="197.21" cy="296.48" r="1.25"/><circle cx="197.84" cy="297.31" r="1.25"/><circle cx="198.27" cy="298.01" r="1.25"/><circle cx="198.25" cy="296.94" r="1.25"/><circle cx="198.6" cy="296.98" r="1.25"/><circle cx="198.96" cy="296.08" r="1.25"/><circle cx="199.21" cy="296.85" r="1.25"/><circle cx="200.01" cy="296.75" r="1.25"/><circle cx="200.13" cy="297.48" r="1.25"/><circle cx="199.96" cy="296.75" r="1.25"/><circle cx="200.59" cy="296.99" r="1.25"/><circle cx="200.79" cy="297.01" r="1.25"/><circle cx="201.23" cy="297.84" r="1.25"/><circle cx="201.36" cy="296.73" r="1.25"/><circle cx="201.83" cy="296.98" r="1.25"/><circle cx="202.05" cy="296.72" r="1.25"/><circle cx="202.42" cy="297.89" r="1.25"/><circle cx="202.57" cy="296.98" r="1.25"/><circle cx="203.16" cy="297.65" r="1.25"/><circle cx="203.31" cy="298.13" r="1.25"/><circle cx="204.02" cy="296.89" r="1.25"/><circle cx="204.08" cy="297.91" r="1.25"/><circle cx="204.03" cy="297.97" r="1.25"/><circle cx="204.67" cy="297.65" r="1.25"/><circle cx="204.93" cy="298.51" r="1.25"/><circle cx="205.17" cy="296.07" r="1.25"/><circle cx="205.87" cy="298.2" r="1.25"/><circle cx="206.48" cy="298.47" r="1.25"/><circle cx="206.51" cy="298.95" r="1.25"/><circle cx="206.14" cy="298.71" r="1.25"/><circle cx="206.95" cy="298.71" r="1.25"/></g>
<g fill="none" stroke="#e85050" stroke-width="0.5" opacity="0.85"><circle cx="221.07" cy="278.81" r="1.2"/><circle cx="221.25" cy="280.2" r="1.2"/><circle cx="221.74" cy="279.35" r="1.2"/><circle cx="222.14" cy="279.85" r="1.2"/><circle cx="222.21" cy="280.29" r="1.2"/><circle cx="222.71" cy="279.02" r="1.2"/><circle cx="223.71" cy="278.69" r="1.2"/><circle cx="223.99" cy="279.42" r="1.2"/><circle cx="224.86" cy="279.46" r="1.2"/><circle cx="225.13" cy="277.66" r="1.2"/><circle cx="225.23" cy="277.02" r="1.2"/><circle cx="225.58" cy="279.51" r="1.2"/><circle cx="226.42" cy="279.54" r="1.2"/><circle cx="226.66" cy="277.41" r="1.2"/><circle cx="226.63" cy="278.6" r="1.2"/><circle cx="227.36" cy="278.86" r="1.2"/><circle cx="227.78" cy="281.12" r="1.2"/><circle cx="228.31" cy="281.63" r="1.2"/><circle cx="229.02" cy="281.95" r="1.2"/><circle cx="229.53" cy="279.7" r="1.2"/><circle cx="230.12" cy="280.34" r="1.2"/><circle cx="230.13" cy="281.57" r="1.2"/><circle cx="229.99" cy="277.07" r="1.2"/><circle cx="231.29" cy="278.35" r="1.2"/><circle cx="231.57" cy="279.48" r="1.2"/><circle cx="231.83" cy="278.36" r="1.2"/><circle cx="232.53" cy="278.44" r="1.2"/><circle cx="233.05" cy="276.2" r="1.2"/><circle cx="233.27" cy="276.64" r="1.2"/><circle cx="233.66" cy="277.85" r="1.2"/><circle cx="233.91" cy="277.21" r="1.2"/><circle cx="234.37" cy="278.41" r="1.2"/><circle cx="234.98" cy="282.43" r="1.2"/><circle cx="235.39" cy="277.73" r="1.2"/><circle cx="235.35" cy="277.09" r="1.2"/><circle cx="236.49" cy="278.29" r="1.2"/><circle cx="236.85" cy="276.4" r="1.2"/><circle cx="237.29" cy="276.82" r="1.2"/><circle cx="237.86" cy="279.15" r="1.2"/><circle cx="238" cy="279.24" r="1.2"/></g>
<g fill="none" stroke="#30a830" stroke-width="0.5" opacity="0.85"><circle cx="220.81" cy="290.91" r="1.2"/><circle cx="221.54" cy="289.96" r="1.2"/><circle cx="221.48" cy="288.82" r="1.2"/><circle cx="221.97" cy="290.05" r="1.2"/><circle cx="222.41" cy="287.64" r="1.2"/><circle cx="223.09" cy="290.08" r="1.2"/><circle cx="223.76" cy="285.29" r="1.2"/><circle cx="224.47" cy="291.62" r="1.2"/><circle cx="224.48" cy="287.5" r="1.2"/><circle cx="225.13" cy="288.96" r="1.2"/><circle cx="225.07" cy="288.1" r="1.2"/><circle cx="225.94" cy="289.02" r="1.2"/><circle cx="226.14" cy="285.74" r="1.2"/><circle cx="226.67" cy="287.99" r="1.2"/><circle cx="227.31" cy="288.22" r="1.2"/><circle cx="227.53" cy="288.09" r="1.2"/><circle cx="228.15" cy="285.1" r="1.2"/><circle cx="228.94" cy="289.07" r="1.2"/><circle cx="228.88" cy="286.76" r="1.2"/><circle cx="229.69" cy="288.83" r="1.2"/><circle cx="229.95" cy="287.08" r="1.2"/><circle cx="230.36" cy="285.39" r="1.2"/><circle cx="230.62" cy="285.26" r="1.2"/><circle cx="230.98" cy="286.29" r="1.2"/><circle cx="231.33" cy="283.27" r="1.2"/><circle cx="231.97" cy="286.91" r="1.2"/><circle cx="232.53" cy="285.79" r="1.2"/><circle cx="233.08" cy="287.38" r="1.2"/><circle cx="233.32" cy="285.11" r="1.2"/><circle cx="233.53" cy="285.78" r="1.2"/><circle cx="234.17" cy="284.01" r="1.2"/><circle cx="235.18" cy="284.91" r="1.2"/><circle cx="235.02" cy="286.04" r="1.2"/><circle cx="235.99" cy="285.56" r="1.2"/><circle cx="235.92" cy="284.72" r="1.2"/><circle cx="236.38" cy="284.94" r="1.2"/><circle cx="237.12" cy="286.01" r="1.2"/><circle cx="237.29" cy="283.91" r="1.2"/><circle cx="237.61" cy="288.43" r="1.2"/><circle cx="237.96" cy="285.71" r="1.2"/></g>
<g fill="none" stroke="#3050e0" stroke-width="0.5" opacity="0.85"><circle cx="220.89" cy="299.51" r="1.2"/><circle cx="221.24" cy="304.69" r="1.2"/><circle cx="221.87" cy="300.32" r="1.2"/><circle cx="222.5" cy="302.89" r="1.2"/><circle cx="222.62" cy="303.92" r="1.2"/><circle cx="222.68" cy="303.07" r="1.2"/><circle cx="223.62" cy="303.94" r="1.2"/><circle cx="224.28" cy="303.76" r="1.2"/><circle cx="224.42" cy="301.71" r="1.2"/><circle cx="224.38" cy="300.75" r="1.2"/><circle cx="225.38" cy="301.66" r="1.2"/><circle cx="225.96" cy="300.19" r="1.2"/><circle cx="226.34" cy="301.71" r="1.2"/><circle cx="226.23" cy="300.37" r="1.2"/><circle cx="227.27" cy="302.4" r="1.2"/><circle cx="227.45" cy="301.02" r="1.2"/><circle cx="227.96" cy="300.66" r="1.2"/><circle cx="227.94" cy="300.2" r="1.2"/><circle cx="228.51" cy="301.87" r="1.2"/><circle cx="229.25" cy="300.18" r="1.2"/><circle cx="229.37" cy="300.89" r="1.2"/><circle cx="230.38" cy="302.1" r="1.2"/><circle cx="230.97" cy="301.37" r="1.2"/><circle cx="230.31" cy="299.07" r="1.2"/><circle cx="231.87" cy="300.54" r="1.2"/><circle cx="231.85" cy="301.59" r="1.2"/><circle cx="232.5" cy="299.73" r="1.2"/><circle cx="232.7" cy="297.21" r="1.2"/><circle cx="233.71" cy="298.74" r="1.2"/><circle cx="234.15" cy="298.61" r="1.2"/><circle cx="233.78" cy="299.43" r="1.2"/><circle cx="234.4" cy="302.4" r="1.2"/><circle cx="235.51" cy="300.05" r="1.2"/><circle cx="235.22" cy="298.33" r="1.2"/><circle cx="235.99" cy="300.42" r="1.2"/><circle cx="236.14" cy="297.13" r="1.2"/><circle cx="237.09" cy="298.19" r="1.2"/><circle cx="237.46" cy="298.22" r="1.2"/><circle cx="238.06" cy="300.83" r="1.2"/><circle cx="238.49" cy="300.41" r="1.2"/></g>
<g fill="#d01010" stroke="#d01010" stroke-width="0.3" opacity="0.92"><circle cx="221.54" cy="277.55" r="1.15"/><circle cx="221.52" cy="279.27" r="1.15"/><circle cx="221.47" cy="277.98" r="1.15"/><circle cx="222.17" cy="277.93" r="1.15"/><circle cx="222.29" cy="277.85" r="1.15"/><circle cx="222.97" cy="278.33" r="1.15"/><circle cx="223.08" cy="278.6" r="1.15"/><circle cx="223.35" cy="280.04" r="1.15"/><circle cx="223.48" cy="279.36" r="1.15"/><circle cx="224.09" cy="279.1" r="1.15"/><circle cx="224.26" cy="278.94" r="1.15"/><circle cx="224.61" cy="277.83" r="1.15"/><circle cx="225.26" cy="278.31" r="1.15"/><circle cx="225.02" cy="279.53" r="1.15"/><circle cx="225.51" cy="279.25" r="1.15"/><circle cx="225.82" cy="279.08" r="1.15"/><circle cx="226.51" cy="277.32" r="1.15"/><circle cx="226.26" cy="279.03" r="1.15"/><circle cx="226.75" cy="276.9" r="1.15"/><circle cx="227.11" cy="277.51" r="1.15"/><circle cx="227.88" cy="279.11" r="1.15"/><circle cx="228.17" cy="278.21" r="1.15"/><circle cx="228.03" cy="279.56" r="1.15"/><circle cx="228.67" cy="276.99" r="1.15"/><circle cx="229.36" cy="279.02" r="1.15"/><circle cx="229.28" cy="279.73" r="1.15"/><circle cx="229.13" cy="279.94" r="1.15"/><circle cx="229.64" cy="278.58" r="1.15"/><circle cx="230.17" cy="279.96" r="1.15"/><circle cx="230.68" cy="275.62" r="1.15"/><circle cx="230.85" cy="277.55" r="1.15"/><circle cx="231.03" cy="277.92" r="1.15"/><circle cx="231.33" cy="278.91" r="1.15"/><circle cx="231.94" cy="277.46" r="1.15"/><circle cx="231.9" cy="278.67" r="1.15"/><circle cx="232.09" cy="278.93" r="1.15"/><circle cx="232.59" cy="279.98" r="1.15"/><circle cx="232.94" cy="278.6" r="1.15"/><circle cx="232.87" cy="277.43" r="1.15"/><circle cx="233.57" cy="278.43" r="1.15"/><circle cx="233.91" cy="279.44" r="1.15"/><circle cx="234.24" cy="277.23" r="1.15"/><circle cx="234.67" cy="278.94" r="1.15"/><circle cx="234.43" cy="278.48" r="1.15"/><circle cx="234.87" cy="279.21" r="1.15"/><circle cx="234.97" cy="278.67" r="1.15"/><circle cx="235.48" cy="278.82" r="1.15"/><circle cx="236.43" cy="279.1" r="1.15"/><circle cx="236.01" cy="279.16" r="1.15"/><circle cx="236.4" cy="277.24" r="1.15"/><circle cx="237.02" cy="278.67" r="1.15"/><circle cx="237.32" cy="278.2" r="1.15"/><circle cx="237.72" cy="278.57" r="1.15"/><circle cx="237.86" cy="279.55" r="1.15"/><circle cx="237.72" cy="278.2" r="1.15"/></g>
<g fill="#109010" stroke="#109010" stroke-width="0.3" opacity="0.92"><circle cx="221.07" cy="287.55" r="1.15"/><circle cx="221.61" cy="287.55" r="1.15"/><circle cx="221.76" cy="289.22" r="1.15"/><circle cx="222.05" cy="287.89" r="1.15"/><circle cx="222.36" cy="288.27" r="1.15"/><circle cx="222.88" cy="288.39" r="1.15"/><circle cx="223.31" cy="288.21" r="1.15"/><circle cx="223.47" cy="287.85" r="1.15"/><circle cx="223.74" cy="289.12" r="1.15"/><circle cx="224.07" cy="288.24" r="1.15"/><circle cx="224.26" cy="287.12" r="1.15"/><circle cx="224.69" cy="286.72" r="1.15"/><circle cx="224.9" cy="286.78" r="1.15"/><circle cx="225.28" cy="288.13" r="1.15"/><circle cx="225.7" cy="287.96" r="1.15"/><circle cx="225.79" cy="287.62" r="1.15"/><circle cx="226.92" cy="286.94" r="1.15"/><circle cx="226.82" cy="287.37" r="1.15"/><circle cx="227.1" cy="286.78" r="1.15"/><circle cx="226.98" cy="285.56" r="1.15"/><circle cx="227.72" cy="286.72" r="1.15"/><circle cx="227.78" cy="285.93" r="1.15"/><circle cx="228.09" cy="285.86" r="1.15"/><circle cx="228.09" cy="285.08" r="1.15"/><circle cx="228.33" cy="285.86" r="1.15"/><circle cx="228.91" cy="285.03" r="1.15"/><circle cx="229.45" cy="284.86" r="1.15"/><circle cx="229.68" cy="285.23" r="1.15"/><circle cx="229.83" cy="284.76" r="1.15"/><circle cx="230.42" cy="285.95" r="1.15"/><circle cx="230.74" cy="285.14" r="1.15"/><circle cx="231" cy="285.64" r="1.15"/><circle cx="231.17" cy="286.74" r="1.15"/><circle cx="231.69" cy="285.78" r="1.15"/><circle cx="231.61" cy="285.23" r="1.15"/><circle cx="232.28" cy="285.95" r="1.15"/><circle cx="232.53" cy="285.41" r="1.15"/><circle cx="232.61" cy="285.37" r="1.15"/><circle cx="232.7" cy="285.56" r="1.15"/><circle cx="233.09" cy="285.28" r="1.15"/><circle cx="233.96" cy="285" r="1.15"/><circle cx="233.97" cy="285.05" r="1.15"/><circle cx="234.34" cy="285.64" r="1.15"/><circle cx="234.62" cy="284.88" r="1.15"/><circle cx="235.2" cy="286.39" r="1.15"/><circle cx="235.05" cy="285.54" r="1.15"/><circle cx="235.33" cy="285.63" r="1.15"/><circle cx="235.69" cy="285.49" r="1.15"/><circle cx="235.86" cy="286.65" r="1.15"/><circle cx="236.8" cy="286.04" r="1.15"/><circle cx="236.85" cy="283.62" r="1.15"/><circle cx="237.51" cy="286.17" r="1.15"/><circle cx="237.41" cy="283.67" r="1.15"/><circle cx="237.6" cy="284.03" r="1.15"/><circle cx="238.63" cy="284.44" r="1.15"/></g>
<g fill="#0808c8" stroke="#0808c8" stroke-width="0.3" opacity="0.95"><circle cx="221.16" cy="301.04" r="1.25"/><circle cx="221.7" cy="300.66" r="1.25"/><circle cx="221.62" cy="301.18" r="1.25"/><circle cx="221.89" cy="301.55" r="1.25"/><circle cx="222.59" cy="300.41" r="1.25"/><circle cx="222.7" cy="301.51" r="1.25"/><circle cx="223.43" cy="300.55" r="1.25"/><circle cx="223.7" cy="300.66" r="1.25"/><circle cx="223.8" cy="300.81" r="1.25"/><circle cx="224.27" cy="300.47" r="1.25"/><circle cx="224.76" cy="299.98" r="1.25"/><circle cx="224.44" cy="298.71" r="1.25"/><circle cx="225.09" cy="300.67" r="1.25"/><circle cx="225.39" cy="299.32" r="1.25"/><circle cx="225.47" cy="300.26" r="1.25"/><circle cx="225.9" cy="299.98" r="1.25"/><circle cx="226.22" cy="299.35" r="1.25"/><circle cx="226.27" cy="299.99" r="1.25"/><circle cx="227.03" cy="299.01" r="1.25"/><circle cx="226.79" cy="298.4" r="1.25"/><circle cx="227.5" cy="299.38" r="1.25"/><circle cx="227.85" cy="298.85" r="1.25"/><circle cx="228.85" cy="298.26" r="1.25"/><circle cx="228.33" cy="298.16" r="1.25"/><circle cx="228.65" cy="297.8" r="1.25"/><circle cx="229.07" cy="299.47" r="1.25"/><circle cx="229.26" cy="298.82" r="1.25"/><circle cx="229.73" cy="299.45" r="1.25"/><circle cx="230.2" cy="297.53" r="1.25"/><circle cx="230.47" cy="297.98" r="1.25"/><circle cx="230.7" cy="298.2" r="1.25"/><circle cx="230.72" cy="298.12" r="1.25"/><circle cx="231.51" cy="297.05" r="1.25"/><circle cx="231.65" cy="297.79" r="1.25"/><circle cx="231.38" cy="297.51" r="1.25"/><circle cx="232.55" cy="296.94" r="1.25"/><circle cx="232.42" cy="297.16" r="1.25"/><circle cx="232.7" cy="296.67" r="1.25"/><circle cx="233.09" cy="297.24" r="1.25"/><circle cx="233.3" cy="297.34" r="1.25"/><circle cx="233.77" cy="296.96" r="1.25"/><circle cx="234.05" cy="297.41" r="1.25"/><circle cx="234.45" cy="298.18" r="1.25"/><circle cx="234.55" cy="297.15" r="1.25"/><circle cx="234.77" cy="297.59" r="1.25"/><circle cx="235.1" cy="295.92" r="1.25"/><circle cx="235.37" cy="297.18" r="1.25"/><circle cx="235.96" cy="297.5" r="1.25"/><circle cx="236.22" cy="295.74" r="1.25"/><circle cx="236.38" cy="297.64" r="1.25"/><circle cx="237.04" cy="295.7" r="1.25"/><circle cx="237.48" cy="297.19" r="1.25"/><circle cx="237.58" cy="296.12" r="1.25"/><circle cx="238.14" cy="296.43" r="1.25"/><circle cx="238.14" cy="297.45" r="1.25"/></g>
<g fill="none" stroke="#e85050" stroke-width="0.5" opacity="0.85"><circle cx="252.2" cy="282.84" r="1.2"/><circle cx="252.49" cy="281.7" r="1.2"/><circle cx="253.27" cy="279.6" r="1.2"/><circle cx="253.83" cy="279.33" r="1.2"/><circle cx="254.07" cy="279.78" r="1.2"/><circle cx="254.41" cy="280.41" r="1.2"/><circle cx="255.21" cy="280.66" r="1.2"/><circle cx="255.09" cy="285.05" r="1.2"/><circle cx="255.78" cy="280.77" r="1.2"/><circle cx="256.34" cy="278.88" r="1.2"/><circle cx="256.69" cy="278.86" r="1.2"/><circle cx="256.65" cy="281.96" r="1.2"/><circle cx="257.71" cy="280.4" r="1.2"/><circle cx="258.17" cy="278.52" r="1.2"/><circle cx="258.39" cy="280.41" r="1.2"/><circle cx="258.6" cy="281.63" r="1.2"/><circle cx="259.31" cy="280.71" r="1.2"/><circle cx="259.76" cy="278.09" r="1.2"/><circle cx="260.45" cy="279.08" r="1.2"/><circle cx="260.64" cy="277.29" r="1.2"/><circle cx="261.53" cy="278.77" r="1.2"/><circle cx="261.84" cy="277.68" r="1.2"/><circle cx="262.11" cy="276.64" r="1.2"/><circle cx="262.56" cy="278.98" r="1.2"/><circle cx="262.42" cy="278.04" r="1.2"/><circle cx="263.67" cy="276.69" r="1.2"/><circle cx="263.57" cy="279.23" r="1.2"/><circle cx="264.04" cy="280.17" r="1.2"/><circle cx="264.37" cy="277.63" r="1.2"/><circle cx="265.61" cy="280.41" r="1.2"/><circle cx="265.63" cy="277.11" r="1.2"/><circle cx="266.53" cy="279.93" r="1.2"/><circle cx="266.48" cy="274.78" r="1.2"/><circle cx="266.51" cy="279.26" r="1.2"/><circle cx="267.38" cy="278.81" r="1.2"/><circle cx="267.62" cy="279.2" r="1.2"/><circle cx="268.06" cy="278.65" r="1.2"/><circle cx="268.69" cy="278.84" r="1.2"/><circle cx="268.74" cy="277.28" r="1.2"/><circle cx="269.81" cy="280.23" r="1.2"/></g>
<g fill="none" stroke="#30a830" stroke-width="0.5" opacity="0.85"><circle cx="252.11" cy="289.98" r="1.2"/><circle cx="253.14" cy="287.98" r="1.2"/><circle cx="252.95" cy="289.48" r="1.2"/><circle cx="253.64" cy="288.28" r="1.2"/><circle cx="253.81" cy="287.76" r="1.2"/><circle cx="254.64" cy="289.8" r="1.2"/><circle cx="254.54" cy="287.47" r="1.2"/><circle cx="255.38" cy="286.75" r="1.2"/><circle cx="255.73" cy="288.78" r="1.2"/><circle cx="256.3" cy="288.99" r="1.2"/><circle cx="256.01" cy="286.07" r="1.2"/><circle cx="256.78" cy="285.28" r="1.2"/><circle cx="257.68" cy="286.67" r="1.2"/><circle cx="258.03" cy="288.83" r="1.2"/><circle cx="259.07" cy="284.86" r="1.2"/><circle cx="258.86" cy="286.92" r="1.2"/><circle cx="259.03" cy="285.91" r="1.2"/><circle cx="259.9" cy="287.11" r="1.2"/><circle cx="260.53" cy="288.4" r="1.2"/><circle cx="261.01" cy="287.17" r="1.2"/><circle cx="261.03" cy="285.41" r="1.2"/><circle cx="261.27" cy="285.84" r="1.2"/><circle cx="261.94" cy="285.78" r="1.2"/><circle cx="262.46" cy="287.08" r="1.2"/><circle cx="262.92" cy="283.29" r="1.2"/><circle cx="262.89" cy="288.36" r="1.2"/><circle cx="263.8" cy="285.17" r="1.2"/><circle cx="264.1" cy="284.4" r="1.2"/><circle cx="264.35" cy="286.56" r="1.2"/><circle cx="265.23" cy="286.99" r="1.2"/><circle cx="265.57" cy="284.73" r="1.2"/><circle cx="265.96" cy="288.33" r="1.2"/><circle cx="266.61" cy="287.44" r="1.2"/><circle cx="267.14" cy="286.52" r="1.2"/><circle cx="267.09" cy="287.53" r="1.2"/><circle cx="268" cy="287.81" r="1.2"/><circle cx="268.06" cy="288.32" r="1.2"/><circle cx="269.01" cy="287.88" r="1.2"/><circle cx="269.41" cy="287.62" r="1.2"/><circle cx="269.54" cy="289.3" r="1.2"/></g>
<g fill="none" stroke="#3050e0" stroke-width="0.5" opacity="0.85"><circle cx="252.22" cy="302.08" r="1.2"/><circle cx="252.72" cy="302.56" r="1.2"/><circle cx="253.17" cy="300.2" r="1.2"/><circle cx="253.72" cy="300.77" r="1.2"/><circle cx="253.78" cy="301.43" r="1.2"/><circle cx="254.6" cy="299.77" r="1.2"/><circle cx="254.97" cy="301.26" r="1.2"/><circle cx="255.67" cy="304.18" r="1.2"/><circle cx="256.02" cy="300.29" r="1.2"/><circle cx="256.37" cy="302.17" r="1.2"/><circle cx="256.75" cy="297.76" r="1.2"/><circle cx="257.7" cy="300.19" r="1.2"/><circle cx="258" cy="297.45" r="1.2"/><circle cx="258.29" cy="299.71" r="1.2"/><circle cx="258.54" cy="299.43" r="1.2"/><circle cx="258.96" cy="301.32" r="1.2"/><circle cx="259.36" cy="301.12" r="1.2"/><circle cx="259.77" cy="298.98" r="1.2"/><circle cx="260.24" cy="298.75" r="1.2"/><circle cx="260.42" cy="301.27" r="1.2"/><circle cx="261.15" cy="297.02" r="1.2"/><circle cx="261.86" cy="301.77" r="1.2"/><circle cx="262.35" cy="301.32" r="1.2"/><circle cx="262.51" cy="298.52" r="1.2"/><circle cx="262.78" cy="295.88" r="1.2"/><circle cx="262.98" cy="300.51" r="1.2"/><circle cx="263.49" cy="296.84" r="1.2"/><circle cx="264.55" cy="300.1" r="1.2"/><circle cx="265.06" cy="303.48" r="1.2"/><circle cx="264.56" cy="297.8" r="1.2"/><circle cx="265.85" cy="300.2" r="1.2"/><circle cx="265.9" cy="297.79" r="1.2"/><circle cx="266.48" cy="299.5" r="1.2"/><circle cx="267.05" cy="299.94" r="1.2"/><circle cx="267.38" cy="301.74" r="1.2"/><circle cx="268.3" cy="301.38" r="1.2"/><circle cx="267.99" cy="298.96" r="1.2"/><circle cx="269.15" cy="301.17" r="1.2"/><circle cx="269.41" cy="300.76" r="1.2"/><circle cx="269.81" cy="300.16" r="1.2"/></g>
<g fill="#d01010" stroke="#d01010" stroke-width="0.3" opacity="0.92"><circle cx="252.8" cy="279.9" r="1.15"/><circle cx="253.05" cy="280.77" r="1.15"/><circle cx="253.53" cy="281.61" r="1.15"/><circle cx="253.8" cy="279.78" r="1.15"/><circle cx="254.14" cy="278.74" r="1.15"/><circle cx="254.34" cy="282.7" r="1.15"/><circle cx="254.54" cy="280.63" r="1.15"/><circle cx="254.73" cy="280.88" r="1.15"/><circle cx="255.09" cy="280.69" r="1.15"/><circle cx="255.5" cy="279.65" r="1.15"/><circle cx="255.35" cy="279.93" r="1.15"/><circle cx="256.13" cy="281.81" r="1.15"/><circle cx="256.68" cy="278.36" r="1.15"/><circle cx="256.78" cy="279.81" r="1.15"/><circle cx="256.82" cy="280.42" r="1.15"/><circle cx="257.33" cy="277.09" r="1.15"/><circle cx="257.92" cy="279.9" r="1.15"/><circle cx="257.92" cy="278.95" r="1.15"/><circle cx="258.22" cy="279.94" r="1.15"/><circle cx="258.67" cy="279.3" r="1.15"/><circle cx="259.32" cy="278.58" r="1.15"/><circle cx="259.25" cy="278.59" r="1.15"/><circle cx="259.37" cy="279.07" r="1.15"/><circle cx="260.12" cy="279.8" r="1.15"/><circle cx="260.32" cy="280.58" r="1.15"/><circle cx="260.71" cy="278.81" r="1.15"/><circle cx="260.82" cy="277.86" r="1.15"/><circle cx="261.26" cy="279.58" r="1.15"/><circle cx="261.06" cy="278.01" r="1.15"/><circle cx="261.62" cy="280.47" r="1.15"/><circle cx="261.75" cy="277.43" r="1.15"/><circle cx="262.67" cy="278.86" r="1.15"/><circle cx="262.98" cy="278.78" r="1.15"/><circle cx="263.11" cy="278.92" r="1.15"/><circle cx="263.22" cy="279.53" r="1.15"/><circle cx="263.53" cy="278.85" r="1.15"/><circle cx="264.1" cy="277.94" r="1.15"/><circle cx="264.27" cy="277.71" r="1.15"/><circle cx="264.54" cy="277.67" r="1.15"/><circle cx="265.15" cy="277.85" r="1.15"/><circle cx="265.21" cy="278.33" r="1.15"/><circle cx="264.78" cy="279.67" r="1.15"/><circle cx="265.13" cy="277.11" r="1.15"/><circle cx="266.23" cy="278.04" r="1.15"/><circle cx="266.5" cy="278.56" r="1.15"/><circle cx="267.19" cy="277.13" r="1.15"/><circle cx="267" cy="278.12" r="1.15"/><circle cx="267.48" cy="276.77" r="1.15"/><circle cx="267.58" cy="277.27" r="1.15"/><circle cx="268.06" cy="277.83" r="1.15"/><circle cx="268.63" cy="276.84" r="1.15"/><circle cx="268.35" cy="276.62" r="1.15"/><circle cx="268.97" cy="277.73" r="1.15"/><circle cx="269.15" cy="277.45" r="1.15"/><circle cx="269.43" cy="277.36" r="1.15"/></g>
<g fill="#109010" stroke="#109010" stroke-width="0.3" opacity="0.92"><circle cx="252.81" cy="286.5" r="1.15"/><circle cx="252.88" cy="286.9" r="1.15"/><circle cx="253.25" cy="288.19" r="1.15"/><circle cx="253.21" cy="289.69" r="1.15"/><circle cx="253.9" cy="286.79" r="1.15"/><circle cx="254.13" cy="288.36" r="1.15"/><circle cx="254.79" cy="286.02" r="1.15"/><circle cx="254.77" cy="286.32" r="1.15"/><circle cx="254.96" cy="287.66" r="1.15"/><circle cx="255.57" cy="286.48" r="1.15"/><circle cx="255.83" cy="286.57" r="1.15"/><circle cx="256.04" cy="285.87" r="1.15"/><circle cx="255.99" cy="285.65" r="1.15"/><circle cx="256.81" cy="287.81" r="1.15"/><circle cx="256.77" cy="287.04" r="1.15"/><circle cx="257.27" cy="286.17" r="1.15"/><circle cx="257.77" cy="284.95" r="1.15"/><circle cx="257.9" cy="285.4" r="1.15"/><circle cx="258.51" cy="284.66" r="1.15"/><circle cx="258.68" cy="286.37" r="1.15"/><circle cx="258.76" cy="284.93" r="1.15"/><circle cx="259.14" cy="286.53" r="1.15"/><circle cx="259.56" cy="285.65" r="1.15"/><circle cx="260.22" cy="284.44" r="1.15"/><circle cx="260.2" cy="283.64" r="1.15"/><circle cx="260.06" cy="285.05" r="1.15"/><circle cx="260.91" cy="285.28" r="1.15"/><circle cx="260.88" cy="284.94" r="1.15"/><circle cx="261.68" cy="285.32" r="1.15"/><circle cx="262.15" cy="285.19" r="1.15"/><circle cx="262.22" cy="285.76" r="1.15"/><circle cx="262.18" cy="286.24" r="1.15"/><circle cx="262.79" cy="284.76" r="1.15"/><circle cx="263.35" cy="285.65" r="1.15"/><circle cx="263.33" cy="286.21" r="1.15"/><circle cx="263.53" cy="285.52" r="1.15"/><circle cx="263.8" cy="285.12" r="1.15"/><circle cx="264.11" cy="286.19" r="1.15"/><circle cx="264.58" cy="285.24" r="1.15"/><circle cx="264.8" cy="285.17" r="1.15"/><circle cx="265.27" cy="283.89" r="1.15"/><circle cx="265.54" cy="285.45" r="1.15"/><circle cx="265.34" cy="286.05" r="1.15"/><circle cx="266.16" cy="287.74" r="1.15"/><circle cx="265.99" cy="286.03" r="1.15"/><circle cx="266.86" cy="286.45" r="1.15"/><circle cx="267.14" cy="285.74" r="1.15"/><circle cx="267.31" cy="287.12" r="1.15"/><circle cx="268.04" cy="285.44" r="1.15"/><circle cx="267.98" cy="286.44" r="1.15"/><circle cx="268.38" cy="288.13" r="1.15"/><circle cx="268.72" cy="286.21" r="1.15"/><circle cx="269.02" cy="286.09" r="1.15"/><circle cx="269.12" cy="286.58" r="1.15"/><circle cx="269.67" cy="286.31" r="1.15"/></g>
<g fill="#0808c8" stroke="#0808c8" stroke-width="0.3" opacity="0.95"><circle cx="252.8" cy="299.31" r="1.25"/><circle cx="253.03" cy="299.48" r="1.25"/><circle cx="253.18" cy="299.25" r="1.25"/><circle cx="253.85" cy="298.71" r="1.25"/><circle cx="253.99" cy="297.61" r="1.25"/><circle cx="253.75" cy="300.62" r="1.25"/><circle cx="254.09" cy="299.55" r="1.25"/><circle cx="255.24" cy="298.79" r="1.25"/><circle cx="254.92" cy="299.38" r="1.25"/><circle cx="255.1" cy="297.64" r="1.25"/><circle cx="255.67" cy="298.77" r="1.25"/><circle cx="256.15" cy="298.27" r="1.25"/><circle cx="256.53" cy="298.44" r="1.25"/><circle cx="256.31" cy="298.19" r="1.25"/><circle cx="256.34" cy="298.92" r="1.25"/><circle cx="257.18" cy="298.71" r="1.25"/><circle cx="257.52" cy="297.78" r="1.25"/><circle cx="257.96" cy="297.61" r="1.25"/><circle cx="258" cy="297.59" r="1.25"/><circle cx="258.44" cy="298.2" r="1.25"/><circle cx="258.86" cy="298.42" r="1.25"/><circle cx="259.32" cy="297.12" r="1.25"/><circle cx="259.3" cy="298.01" r="1.25"/><circle cx="260.2" cy="297.23" r="1.25"/><circle cx="259.94" cy="296.73" r="1.25"/><circle cx="260.17" cy="297.36" r="1.25"/><circle cx="260.37" cy="295.71" r="1.25"/><circle cx="261.26" cy="297.35" r="1.25"/><circle cx="261.51" cy="297.52" r="1.25"/><circle cx="261.9" cy="296.47" r="1.25"/><circle cx="261.87" cy="297.95" r="1.25"/><circle cx="262.26" cy="297.87" r="1.25"/><circle cx="262.76" cy="297.46" r="1.25"/><circle cx="263.35" cy="296.5" r="1.25"/><circle cx="263.27" cy="296.92" r="1.25"/><circle cx="263.72" cy="297.18" r="1.25"/><circle cx="263.93" cy="297.78" r="1.25"/><circle cx="264.31" cy="298.42" r="1.25"/><circle cx="263.83" cy="297.37" r="1.25"/><circle cx="264.79" cy="297.49" r="1.25"/><circle cx="264.96" cy="297.18" r="1.25"/><circle cx="265.75" cy="298.1" r="1.25"/><circle cx="266.09" cy="298.93" r="1.25"/><circle cx="266.18" cy="297.41" r="1.25"/><circle cx="266.62" cy="297.06" r="1.25"/><circle cx="266.59" cy="298.14" r="1.25"/><circle cx="267" cy="297.91" r="1.25"/><circle cx="267.71" cy="297.63" r="1.25"/><circle cx="267.89" cy="299.92" r="1.25"/><circle cx="268.04" cy="298.74" r="1.25"/><circle cx="268.87" cy="297.94" r="1.25"/><circle cx="268.73" cy="297.97" r="1.25"/><circle cx="269.09" cy="298.17" r="1.25"/><circle cx="269.41" cy="298.25" r="1.25"/><circle cx="269.55" cy="297.57" r="1.25"/></g>
<g fill="none" stroke="#e85050" stroke-width="0.5" opacity="0.85"><circle cx="283.43" cy="283.12" r="1.2"/><circle cx="284.48" cy="279.93" r="1.2"/><circle cx="284.85" cy="281.41" r="1.2"/><circle cx="285.06" cy="277.32" r="1.2"/><circle cx="285.11" cy="278.64" r="1.2"/><circle cx="286.2" cy="281.04" r="1.2"/><circle cx="286.07" cy="278.05" r="1.2"/><circle cx="286.76" cy="279.29" r="1.2"/><circle cx="287.8" cy="278.04" r="1.2"/><circle cx="287.58" cy="280.79" r="1.2"/><circle cx="288.7" cy="278.99" r="1.2"/><circle cx="288.44" cy="283.01" r="1.2"/><circle cx="289.32" cy="280.04" r="1.2"/><circle cx="289.3" cy="277.6" r="1.2"/><circle cx="289.71" cy="281.29" r="1.2"/><circle cx="289.99" cy="278.47" r="1.2"/><circle cx="290.94" cy="277.85" r="1.2"/><circle cx="290.88" cy="277.62" r="1.2"/><circle cx="292.1" cy="277.78" r="1.2"/><circle cx="291.95" cy="278.86" r="1.2"/><circle cx="292.65" cy="278.82" r="1.2"/><circle cx="292.53" cy="278.89" r="1.2"/><circle cx="293.37" cy="279.27" r="1.2"/><circle cx="293.52" cy="280.21" r="1.2"/><circle cx="294.18" cy="280.63" r="1.2"/><circle cx="295.08" cy="276.59" r="1.2"/><circle cx="295.28" cy="278.5" r="1.2"/><circle cx="295.91" cy="279.15" r="1.2"/><circle cx="296.36" cy="281.18" r="1.2"/><circle cx="296.11" cy="280.71" r="1.2"/><circle cx="297.01" cy="277.2" r="1.2"/><circle cx="297.52" cy="278.42" r="1.2"/><circle cx="297.49" cy="280.23" r="1.2"/><circle cx="298" cy="278.52" r="1.2"/><circle cx="298.68" cy="278.87" r="1.2"/><circle cx="299.51" cy="281.36" r="1.2"/><circle cx="299.47" cy="278.98" r="1.2"/><circle cx="300.28" cy="282.91" r="1.2"/><circle cx="299.91" cy="281.03" r="1.2"/><circle cx="300.98" cy="279.27" r="1.2"/></g>
<g fill="none" stroke="#30a830" stroke-width="0.5" opacity="0.85"><circle cx="284.18" cy="285.7" r="1.2"/><circle cx="284.2" cy="286.68" r="1.2"/><circle cx="284.3" cy="284.83" r="1.2"/><circle cx="284.85" cy="285.43" r="1.2"/><circle cx="285.55" cy="286.04" r="1.2"/><circle cx="286.15" cy="286.7" r="1.2"/><circle cx="286.39" cy="284.24" r="1.2"/><circle cx="287.18" cy="286.6" r="1.2"/><circle cx="287.3" cy="285.85" r="1.2"/><circle cx="287.77" cy="284.9" r="1.2"/><circle cx="287.95" cy="286.68" r="1.2"/><circle cx="288.54" cy="285.36" r="1.2"/><circle cx="288.7" cy="286.86" r="1.2"/><circle cx="289.35" cy="287.27" r="1.2"/><circle cx="290.25" cy="288.76" r="1.2"/><circle cx="290.16" cy="285.21" r="1.2"/><circle cx="290.92" cy="289.5" r="1.2"/><circle cx="291.1" cy="286.58" r="1.2"/><circle cx="291.85" cy="285.48" r="1.2"/><circle cx="291.88" cy="286.56" r="1.2"/><circle cx="292.61" cy="287.47" r="1.2"/><circle cx="293.23" cy="284.13" r="1.2"/><circle cx="293.62" cy="285.29" r="1.2"/><circle cx="293.95" cy="284.7" r="1.2"/><circle cx="294.4" cy="283.07" r="1.2"/><circle cx="294.79" cy="283.21" r="1.2"/><circle cx="295.17" cy="281.66" r="1.2"/><circle cx="295.75" cy="286.58" r="1.2"/><circle cx="295.8" cy="287.28" r="1.2"/><circle cx="296.92" cy="287.83" r="1.2"/><circle cx="296.76" cy="283.62" r="1.2"/><circle cx="297.39" cy="284.55" r="1.2"/><circle cx="297.22" cy="285.69" r="1.2"/><circle cx="298.22" cy="286.29" r="1.2"/><circle cx="298.97" cy="283.83" r="1.2"/><circle cx="299.46" cy="284.83" r="1.2"/><circle cx="299.53" cy="286.15" r="1.2"/><circle cx="300.26" cy="287.1" r="1.2"/><circle cx="300.09" cy="284.54" r="1.2"/><circle cx="301.1" cy="284.47" r="1.2"/></g>
<g fill="none" stroke="#3050e0" stroke-width="0.5" opacity="0.85"><circle cx="284.13" cy="303.36" r="1.2"/><circle cx="284.17" cy="303.93" r="1.2"/><circle cx="284.34" cy="304.01" r="1.2"/><circle cx="284.84" cy="303.14" r="1.2"/><circle cx="285" cy="299.86" r="1.2"/><circle cx="285.78" cy="304.09" r="1.2"/><circle cx="285.96" cy="302.75" r="1.2"/><circle cx="286.98" cy="301.96" r="1.2"/><circle cx="287.09" cy="302.8" r="1.2"/><circle cx="287.65" cy="304.7" r="1.2"/><circle cx="288.39" cy="301.92" r="1.2"/><circle cx="288.69" cy="299.83" r="1.2"/><circle cx="288.79" cy="300.58" r="1.2"/><circle cx="289.47" cy="301.06" r="1.2"/><circle cx="289.95" cy="302.05" r="1.2"/><circle cx="290.67" cy="302.06" r="1.2"/><circle cx="290.94" cy="304.03" r="1.2"/><circle cx="291.11" cy="302.58" r="1.2"/><circle cx="291.8" cy="299.83" r="1.2"/><circle cx="292.31" cy="301.31" r="1.2"/><circle cx="293.21" cy="298.55" r="1.2"/><circle cx="292.98" cy="299.21" r="1.2"/><circle cx="293.07" cy="302.27" r="1.2"/><circle cx="293.35" cy="299.97" r="1.2"/><circle cx="293.81" cy="298.6" r="1.2"/><circle cx="294.82" cy="300.64" r="1.2"/><circle cx="295.51" cy="299.91" r="1.2"/><circle cx="295.63" cy="302.19" r="1.2"/><circle cx="296" cy="299.8" r="1.2"/><circle cx="296.84" cy="299.34" r="1.2"/><circle cx="296.87" cy="300.19" r="1.2"/><circle cx="297.54" cy="299.4" r="1.2"/><circle cx="297.92" cy="299.03" r="1.2"/><circle cx="298.63" cy="299.42" r="1.2"/><circle cx="298.37" cy="300.98" r="1.2"/><circle cx="299.35" cy="298.99" r="1.2"/><circle cx="299.82" cy="298.45" r="1.2"/><circle cx="300.21" cy="299.43" r="1.2"/><circle cx="300.58" cy="298.74" r="1.2"/><circle cx="300.57" cy="299.44" r="1.2"/></g>
<g fill="#d01010" stroke="#d01010" stroke-width="0.3" opacity="0.92"><circle cx="283.74" cy="279.57" r="1.15"/><circle cx="284.39" cy="281.83" r="1.15"/><circle cx="284.67" cy="280.55" r="1.15"/><circle cx="284.75" cy="279.66" r="1.15"/><circle cx="285.16" cy="280.8" r="1.15"/><circle cx="285.62" cy="281.37" r="1.15"/><circle cx="285.82" cy="279.93" r="1.15"/><circle cx="286.2" cy="279.69" r="1.15"/><circle cx="287.1" cy="281.04" r="1.15"/><circle cx="286.89" cy="278.53" r="1.15"/><circle cx="286.91" cy="280.12" r="1.15"/><circle cx="287.33" cy="278.81" r="1.15"/><circle cx="287.93" cy="277.12" r="1.15"/><circle cx="288.05" cy="279.16" r="1.15"/><circle cx="288.45" cy="279.18" r="1.15"/><circle cx="288.75" cy="281.11" r="1.15"/><circle cx="288.89" cy="279.68" r="1.15"/><circle cx="289.25" cy="279.15" r="1.15"/><circle cx="289.42" cy="278.61" r="1.15"/><circle cx="290.08" cy="277.91" r="1.15"/><circle cx="290.39" cy="279.23" r="1.15"/><circle cx="290.67" cy="277.86" r="1.15"/><circle cx="291.14" cy="276.08" r="1.15"/><circle cx="291.29" cy="278.25" r="1.15"/><circle cx="291.43" cy="279.24" r="1.15"/><circle cx="291.74" cy="278.97" r="1.15"/><circle cx="292.06" cy="278.5" r="1.15"/><circle cx="292.84" cy="278.19" r="1.15"/><circle cx="292.63" cy="277.42" r="1.15"/><circle cx="293.18" cy="277.79" r="1.15"/><circle cx="293.27" cy="280.66" r="1.15"/><circle cx="293.57" cy="276.42" r="1.15"/><circle cx="293.9" cy="276.92" r="1.15"/><circle cx="294.12" cy="278.45" r="1.15"/><circle cx="294.2" cy="277.91" r="1.15"/><circle cx="294.8" cy="278.77" r="1.15"/><circle cx="295.56" cy="279.67" r="1.15"/><circle cx="295.52" cy="277.99" r="1.15"/><circle cx="296.12" cy="278.91" r="1.15"/><circle cx="296.22" cy="277.44" r="1.15"/><circle cx="296.53" cy="280.72" r="1.15"/><circle cx="296.87" cy="279.32" r="1.15"/><circle cx="297.42" cy="278.14" r="1.15"/><circle cx="297.54" cy="279.54" r="1.15"/><circle cx="298.01" cy="280.04" r="1.15"/><circle cx="298.25" cy="277.76" r="1.15"/><circle cx="298.48" cy="279.03" r="1.15"/><circle cx="298.54" cy="279" r="1.15"/><circle cx="299.07" cy="280.59" r="1.15"/><circle cx="299.31" cy="279.56" r="1.15"/><circle cx="299.69" cy="279.98" r="1.15"/><circle cx="299.79" cy="277.85" r="1.15"/><circle cx="300.51" cy="279.86" r="1.15"/><circle cx="300.41" cy="281.39" r="1.15"/><circle cx="300.98" cy="282" r="1.15"/></g>
<g fill="#109010" stroke="#109010" stroke-width="0.3" opacity="0.92"><circle cx="283.88" cy="286.04" r="1.15"/><circle cx="284.69" cy="285.13" r="1.15"/><circle cx="284.62" cy="285.41" r="1.15"/><circle cx="285.39" cy="286.48" r="1.15"/><circle cx="285.22" cy="284.31" r="1.15"/><circle cx="286.04" cy="285.47" r="1.15"/><circle cx="285.89" cy="287.42" r="1.15"/><circle cx="286.43" cy="285.71" r="1.15"/><circle cx="286.45" cy="286.3" r="1.15"/><circle cx="286.67" cy="286.03" r="1.15"/><circle cx="286.81" cy="283.16" r="1.15"/><circle cx="287.67" cy="285.44" r="1.15"/><circle cx="287.33" cy="283.42" r="1.15"/><circle cx="287.26" cy="285.18" r="1.15"/><circle cx="288.68" cy="285.61" r="1.15"/><circle cx="288.92" cy="282.74" r="1.15"/><circle cx="289.4" cy="284.95" r="1.15"/><circle cx="289.3" cy="285.29" r="1.15"/><circle cx="289.91" cy="285.13" r="1.15"/><circle cx="290" cy="285.15" r="1.15"/><circle cx="290.43" cy="283.81" r="1.15"/><circle cx="291.08" cy="284.95" r="1.15"/><circle cx="290.91" cy="284.88" r="1.15"/><circle cx="291.43" cy="284.36" r="1.15"/><circle cx="291.39" cy="284.66" r="1.15"/><circle cx="292.32" cy="286.07" r="1.15"/><circle cx="291.93" cy="284.39" r="1.15"/><circle cx="292.3" cy="285.62" r="1.15"/><circle cx="292.79" cy="286.97" r="1.15"/><circle cx="292.81" cy="285.47" r="1.15"/><circle cx="293.72" cy="284.66" r="1.15"/><circle cx="293.63" cy="285.03" r="1.15"/><circle cx="294.26" cy="286.63" r="1.15"/><circle cx="294.24" cy="284.47" r="1.15"/><circle cx="295.04" cy="284.43" r="1.15"/><circle cx="295.03" cy="284.01" r="1.15"/><circle cx="295.65" cy="283.96" r="1.15"/><circle cx="295.86" cy="284.48" r="1.15"/><circle cx="295.81" cy="285.06" r="1.15"/><circle cx="296.51" cy="285.15" r="1.15"/><circle cx="296.76" cy="283.66" r="1.15"/><circle cx="296.83" cy="287.43" r="1.15"/><circle cx="296.88" cy="285.07" r="1.15"/><circle cx="297.38" cy="284.92" r="1.15"/><circle cx="297.83" cy="285.15" r="1.15"/><circle cx="298.43" cy="283.58" r="1.15"/><circle cx="298.21" cy="284.34" r="1.15"/><circle cx="298.54" cy="284.56" r="1.15"/><circle cx="299.08" cy="284.81" r="1.15"/><circle cx="299.58" cy="284.18" r="1.15"/><circle cx="299.97" cy="283.44" r="1.15"/><circle cx="300.44" cy="282.84" r="1.15"/><circle cx="300.29" cy="284.59" r="1.15"/><circle cx="300.8" cy="283.84" r="1.15"/><circle cx="300.94" cy="284.3" r="1.15"/></g>
<g fill="#0808c8" stroke="#0808c8" stroke-width="0.3" opacity="0.95"><circle cx="283.93" cy="302.22" r="1.25"/><circle cx="284.46" cy="301.36" r="1.25"/><circle cx="284.62" cy="302.06" r="1.25"/><circle cx="284.99" cy="301.41" r="1.25"/><circle cx="285.67" cy="301.67" r="1.25"/><circle cx="285.57" cy="300.56" r="1.25"/><circle cx="286.07" cy="301.01" r="1.25"/><circle cx="286.23" cy="301.86" r="1.25"/><circle cx="286.83" cy="300.98" r="1.25"/><circle cx="286.66" cy="300.01" r="1.25"/><circle cx="287.17" cy="300.39" r="1.25"/><circle cx="287.36" cy="300.71" r="1.25"/><circle cx="287.62" cy="301.55" r="1.25"/><circle cx="288.39" cy="300.27" r="1.25"/><circle cx="288.42" cy="300.76" r="1.25"/><circle cx="288.95" cy="300.43" r="1.25"/><circle cx="289.22" cy="300.1" r="1.25"/><circle cx="289.39" cy="299.46" r="1.25"/><circle cx="289.46" cy="298.92" r="1.25"/><circle cx="290.31" cy="299.13" r="1.25"/><circle cx="290.38" cy="299.45" r="1.25"/><circle cx="290.57" cy="299.08" r="1.25"/><circle cx="290.72" cy="299.38" r="1.25"/><circle cx="290.83" cy="299.97" r="1.25"/><circle cx="292.24" cy="299.74" r="1.25"/><circle cx="291.88" cy="298.76" r="1.25"/><circle cx="292.18" cy="298.22" r="1.25"/><circle cx="292.66" cy="298.02" r="1.25"/><circle cx="292.34" cy="298.68" r="1.25"/><circle cx="292.72" cy="298.09" r="1.25"/><circle cx="293.65" cy="298.61" r="1.25"/><circle cx="293.45" cy="298.44" r="1.25"/><circle cx="294.09" cy="298.08" r="1.25"/><circle cx="294.52" cy="297.01" r="1.25"/><circle cx="294.06" cy="298.64" r="1.25"/><circle cx="294.58" cy="299.02" r="1.25"/><circle cx="295.61" cy="298.07" r="1.25"/><circle cx="295.15" cy="297.11" r="1.25"/><circle cx="295.66" cy="297.33" r="1.25"/><circle cx="296.11" cy="297.83" r="1.25"/><circle cx="296.44" cy="297.52" r="1.25"/><circle cx="296.65" cy="297.62" r="1.25"/><circle cx="297.18" cy="297.84" r="1.25"/><circle cx="297.96" cy="296.92" r="1.25"/><circle cx="298" cy="296.67" r="1.25"/><circle cx="298.22" cy="296.9" r="1.25"/><circle cx="298.66" cy="297.59" r="1.25"/><circle cx="298.54" cy="298.05" r="1.25"/><circle cx="299.18" cy="298.84" r="1.25"/><circle cx="299.04" cy="296.5" r="1.25"/><circle cx="300.12" cy="298.34" r="1.25"/><circle cx="300.21" cy="296.81" r="1.25"/><circle cx="300.36" cy="297.53" r="1.25"/><circle cx="300.64" cy="296.38" r="1.25"/><circle cx="300.97" cy="297.06" r="1.25"/></g>
<line x1="158.24" y1="187.7" x2="158.24" y2="287.3" stroke="#e08080" stroke-width="0.4" stroke-linecap="butt"/>
<line x1="159.34" y1="187.7" x2="159.34" y2="293.8" stroke="#60b060" stroke-width="0.4" stroke-linecap="butt"/>
<line x1="158.79" y1="187.7" x2="158.79" y2="305.5" stroke="#182ea0" stroke-width="1.2" stroke-linecap="butt"/>
<line x1="173.93" y1="187.7" x2="173.93" y2="282" stroke="#e08080" stroke-width="0.4" stroke-linecap="butt"/>
<line x1="175.03" y1="187.7" x2="175.03" y2="288.2" stroke="#60b060" stroke-width="0.4" stroke-linecap="butt"/>
<line x1="174.48" y1="187.7" x2="174.48" y2="297.8" stroke="#182ea0" stroke-width="1.2" stroke-linecap="butt"/>
<line x1="189.62" y1="187.7" x2="189.62" y2="282" stroke="#e08080" stroke-width="0.4" stroke-linecap="butt"/>
<line x1="190.72" y1="187.7" x2="190.72" y2="290.4" stroke="#60b060" stroke-width="0.4" stroke-linecap="butt"/>
<line x1="190.17" y1="187.7" x2="190.17" y2="299.3" stroke="#182ea0" stroke-width="1.2" stroke-linecap="butt"/>
<line x1="205.31" y1="187.7" x2="205.31" y2="277.6" stroke="#e08080" stroke-width="0.4" stroke-linecap="butt"/>
<line x1="206.41" y1="187.7" x2="206.41" y2="285.2" stroke="#60b060" stroke-width="0.4" stroke-linecap="butt"/>
<line x1="205.86" y1="187.7" x2="205.86" y2="299.7" stroke="#182ea0" stroke-width="1.2" stroke-linecap="butt"/>
<line x1="221" y1="187.7" x2="221" y2="279" stroke="#e08080" stroke-width="0.4" stroke-linecap="butt"/>
<line x1="222.1" y1="187.7" x2="222.1" y2="288.6" stroke="#60b060" stroke-width="0.4" stroke-linecap="butt"/>
<line x1="221.55" y1="187.7" x2="221.55" y2="302.5" stroke="#182ea0" stroke-width="1.2" stroke-linecap="butt"/>
<line x1="236.69" y1="187.7" x2="236.69" y2="278" stroke="#e08080" stroke-width="0.4" stroke-linecap="butt"/>
<line x1="237.79" y1="187.7" x2="237.79" y2="285" stroke="#60b060" stroke-width="0.4" stroke-linecap="butt"/>
<line x1="237.24" y1="187.7" x2="237.24" y2="297.7" stroke="#182ea0" stroke-width="1.2" stroke-linecap="butt"/>
<line x1="252.38" y1="187.7" x2="252.38" y2="280.4" stroke="#e08080" stroke-width="0.4" stroke-linecap="butt"/>
<line x1="253.48" y1="187.7" x2="253.48" y2="287.8" stroke="#60b060" stroke-width="0.4" stroke-linecap="butt"/>
<line x1="252.93" y1="187.7" x2="252.93" y2="300.5" stroke="#182ea0" stroke-width="1.2" stroke-linecap="butt"/>
<line x1="268.07" y1="187.7" x2="268.07" y2="277.3" stroke="#e08080" stroke-width="0.4" stroke-linecap="butt"/>
<line x1="269.17" y1="187.7" x2="269.17" y2="286.4" stroke="#60b060" stroke-width="0.4" stroke-linecap="butt"/>
<line x1="268.62" y1="187.7" x2="268.62" y2="299.8" stroke="#182ea0" stroke-width="1.2" stroke-linecap="butt"/>
<line x1="283.76" y1="187.7" x2="283.76" y2="280.4" stroke="#e08080" stroke-width="0.4" stroke-linecap="butt"/>
<line x1="284.86" y1="187.7" x2="284.86" y2="285.6" stroke="#60b060" stroke-width="0.4" stroke-linecap="butt"/>
<line x1="284.31" y1="187.7" x2="284.31" y2="303" stroke="#182ea0" stroke-width="1.2" stroke-linecap="butt"/>
<line x1="299.45" y1="187.7" x2="299.45" y2="280.2" stroke="#e08080" stroke-width="0.4" stroke-linecap="butt"/>
<line x1="300.55" y1="187.7" x2="300.55" y2="284.3" stroke="#60b060" stroke-width="0.4" stroke-linecap="butt"/>
<line x1="300" y1="187.7" x2="300" y2="298" stroke="#182ea0" stroke-width="1.2" stroke-linecap="butt"/>
<line x1="143.6" y1="187.8" x2="158.66" y2="187.8" stroke="#0808c8" stroke-width="3.6" stroke-linecap="butt"/>
<circle cx="158.56" cy="187.8" r="1.8" fill="#0808c8"/>
<line x1="174.71" y1="187.8" x2="190.41" y2="187.8" stroke="#0808c8" stroke-width="3.6" stroke-linecap="round"/>
<line x1="206.09" y1="187.8" x2="221.63" y2="187.8" stroke="#0808c8" stroke-width="3.6" stroke-linecap="round"/>
<line x1="237.16" y1="187.8" x2="253.01" y2="187.8" stroke="#0808c8" stroke-width="3.6" stroke-linecap="round"/>
<line x1="268.85" y1="187.8" x2="284.39" y2="187.8" stroke="#0808c8" stroke-width="3.6" stroke-linecap="round"/>
<line x1="299.82" y1="187.8" x2="315.35" y2="187.8" stroke="#0808c8" stroke-width="3.6" stroke-linecap="butt"/>
<circle cx="299.92" cy="187.8" r="1.8" fill="#0808c8"/>
<circle cx="221.2" cy="203" r="1.2" fill="none" stroke="#e85050" stroke-width="0.5" opacity="0.8"/>
<circle cx="158.6" cy="274.7" r="1.2" fill="none" stroke="#30a830" stroke-width="0.5" opacity="0.8"/>
<circle cx="205.7" cy="272.7" r="1.2" fill="none" stroke="#30a830" stroke-width="0.5" opacity="0.8"/>
</g>
<line x1="143.1" y1="187.7" x2="146.1" y2="187.7" stroke="#000" stroke-width="1.4" stroke-linecap="butt"/>
<text x="0" y="0" font-size="9.5" font-weight="bold" text-anchor="end" transform="translate(140 191.05) scale(0.92 1)" fill="#000" stroke="#000" stroke-width="0.15">0</text>
<line x1="143.1" y1="212.18" x2="146.1" y2="212.18" stroke="#000" stroke-width="1.4" stroke-linecap="butt"/>
<text x="0" y="0" font-size="9.5" font-weight="bold" text-anchor="end" transform="translate(140 215.53) scale(0.92 1)" fill="#000" stroke="#000" stroke-width="0.15">-2</text>
<line x1="143.1" y1="236.66" x2="146.1" y2="236.66" stroke="#000" stroke-width="1.4" stroke-linecap="butt"/>
<text x="0" y="0" font-size="9.5" font-weight="bold" text-anchor="end" transform="translate(140 240.01) scale(0.92 1)" fill="#000" stroke="#000" stroke-width="0.15">-4</text>
<line x1="143.1" y1="261.14" x2="146.1" y2="261.14" stroke="#000" stroke-width="1.4" stroke-linecap="butt"/>
<text x="0" y="0" font-size="9.5" font-weight="bold" text-anchor="end" transform="translate(140 264.49) scale(0.92 1)" fill="#000" stroke="#000" stroke-width="0.15">-6</text>
<line x1="143.1" y1="285.62" x2="146.1" y2="285.62" stroke="#000" stroke-width="1.4" stroke-linecap="butt"/>
<text x="0" y="0" font-size="9.5" font-weight="bold" text-anchor="end" transform="translate(140 288.97) scale(0.92 1)" fill="#000" stroke="#000" stroke-width="0.15">-8</text>
<line x1="143.1" y1="310.1" x2="146.1" y2="310.1" stroke="#000" stroke-width="1.4" stroke-linecap="butt"/>
<text x="0" y="0" font-size="9.5" font-weight="bold" text-anchor="end" transform="translate(140 313.45) scale(0.92 1)" fill="#000" stroke="#000" stroke-width="0.15">-10</text>
<line x1="143.1" y1="199.94" x2="144.8" y2="199.94" stroke="#000" stroke-width="1.1" stroke-linecap="butt"/>
<line x1="143.1" y1="224.42" x2="144.8" y2="224.42" stroke="#000" stroke-width="1.1" stroke-linecap="butt"/>
<line x1="143.1" y1="248.9" x2="144.8" y2="248.9" stroke="#000" stroke-width="1.1" stroke-linecap="butt"/>
<line x1="143.1" y1="273.38" x2="144.8" y2="273.38" stroke="#000" stroke-width="1.1" stroke-linecap="butt"/>
<line x1="143.1" y1="297.86" x2="144.8" y2="297.86" stroke="#000" stroke-width="1.1" stroke-linecap="butt"/>
<line x1="143.1" y1="310" x2="143.1" y2="307" stroke="#000" stroke-width="1.4" stroke-linecap="butt"/>
<text x="0" y="0" font-size="9.95" font-weight="bold" text-anchor="middle" transform="translate(143.1 320.3) scale(0.96 1)" fill="#000" stroke="#000" stroke-width="0.15">0</text>
<line x1="174.48" y1="310" x2="174.48" y2="307" stroke="#000" stroke-width="1.4" stroke-linecap="butt"/>
<text x="0" y="0" font-size="9.95" font-weight="bold" text-anchor="middle" transform="translate(174.48 320.3) scale(0.96 1)" fill="#000" stroke="#000" stroke-width="0.15">20</text>
<line x1="205.86" y1="310" x2="205.86" y2="307" stroke="#000" stroke-width="1.4" stroke-linecap="butt"/>
<text x="0" y="0" font-size="9.95" font-weight="bold" text-anchor="middle" transform="translate(205.86 320.3) scale(0.96 1)" fill="#000" stroke="#000" stroke-width="0.15">40</text>
<line x1="237.24" y1="310" x2="237.24" y2="307" stroke="#000" stroke-width="1.4" stroke-linecap="butt"/>
<text x="0" y="0" font-size="9.95" font-weight="bold" text-anchor="middle" transform="translate(237.24 320.3) scale(0.96 1)" fill="#000" stroke="#000" stroke-width="0.15">60</text>
<line x1="268.62" y1="310" x2="268.62" y2="307" stroke="#000" stroke-width="1.4" stroke-linecap="butt"/>
<text x="0" y="0" font-size="9.95" font-weight="bold" text-anchor="middle" transform="translate(268.62 320.3) scale(0.96 1)" fill="#000" stroke="#000" stroke-width="0.15">80</text>
<line x1="300" y1="310" x2="300" y2="307" stroke="#000" stroke-width="1.4" stroke-linecap="butt"/>
<text x="0" y="0" font-size="9.95" font-weight="bold" text-anchor="middle" transform="translate(300 320.3) scale(0.96 1)" fill="#000" stroke="#000" stroke-width="0.15">100</text>
<line x1="158.79" y1="310" x2="158.79" y2="308.3" stroke="#000" stroke-width="1.1" stroke-linecap="butt"/>
<line x1="190.17" y1="310" x2="190.17" y2="308.3" stroke="#000" stroke-width="1.1" stroke-linecap="butt"/>
<line x1="221.55" y1="310" x2="221.55" y2="308.3" stroke="#000" stroke-width="1.1" stroke-linecap="butt"/>
<line x1="252.93" y1="310" x2="252.93" y2="308.3" stroke="#000" stroke-width="1.1" stroke-linecap="butt"/>
<line x1="284.31" y1="310" x2="284.31" y2="308.3" stroke="#000" stroke-width="1.1" stroke-linecap="butt"/>
<text x="222.3" y="335.8" font-size="12" font-weight="bold" text-anchor="middle" fill="#000" stroke="#000" stroke-width="0.22">Time (s)</text>
<text x="118.1" y="251.9" font-size="12" font-weight="bold" text-anchor="middle" transform="rotate(-90 118.1 251.9)" fill="#000" stroke="#000" stroke-width="0.22">Current (nA)</text>
<text x="103.6" y="191.9" font-size="18" font-weight="bold" text-anchor="start" fill="#000" stroke="#000" stroke-width="0.22">d</text>
<rect x="234.2" y="192.3" width="72.4" height="66.5" fill="#fff" stroke="#8c8c8c" stroke-width="0.6"/>
<text x="236.7" y="199.5" font-size="6.9" font-weight="bold" text-anchor="start" fill="#000" stroke="#000" stroke-width="0.12">Fresh</text>
<text x="236.7" y="232.2" font-size="6.9" font-weight="bold" text-anchor="start" fill="#000" stroke="#000" stroke-width="0.12">13 months</text>
<line x1="234.9" y1="204.8" x2="249.7" y2="204.8" stroke="#ec3c3c" stroke-width="0.95" stroke-linecap="butt"/>
<circle cx="242.4" cy="204.8" r="1.45" fill="#fff" stroke="#ec3c3c" stroke-width="0.6"/>
<text x="251.1" y="207.2" font-size="6.9" font-weight="bold" text-anchor="start" fill="#000" stroke="#000" stroke-width="0.12">RCP-488 nm</text>
<line x1="234.9" y1="212.9" x2="249.7" y2="212.9" stroke="#22a822" stroke-width="0.95" stroke-linecap="butt"/>
<circle cx="242.4" cy="212.9" r="1.45" fill="#fff" stroke="#22a822" stroke-width="0.6"/>
<text x="251.1" y="215.3" font-size="6.9" font-weight="bold" text-anchor="start" fill="#000" stroke="#000" stroke-width="0.12">LP-488 nm</text>
<line x1="234.9" y1="221.3" x2="249.7" y2="221.3" stroke="#2848e0" stroke-width="0.95" stroke-linecap="butt"/>
<circle cx="242.4" cy="221.3" r="1.45" fill="#fff" stroke="#2848e0" stroke-width="0.6"/>
<text x="251.1" y="223.7" font-size="6.9" font-weight="bold" text-anchor="start" fill="#000" stroke="#000" stroke-width="0.12">LCP-488 nm</text>
<line x1="234.9" y1="237.7" x2="249.7" y2="237.7" stroke="#e01010" stroke-width="0.95" stroke-linecap="butt"/>
<circle cx="242.4" cy="237.7" r="1.45" fill="#e01010" stroke="#e01010" stroke-width="0.6"/>
<text x="251.1" y="240.1" font-size="6.9" font-weight="bold" text-anchor="start" fill="#000" stroke="#000" stroke-width="0.12">RCP-488 nm</text>
<line x1="234.9" y1="245.8" x2="249.7" y2="245.8" stroke="#109810" stroke-width="0.95" stroke-linecap="butt"/>
<circle cx="242.4" cy="245.8" r="1.45" fill="#109810" stroke="#109810" stroke-width="0.6"/>
<text x="251.1" y="248.2" font-size="6.9" font-weight="bold" text-anchor="start" fill="#000" stroke="#000" stroke-width="0.12">LP-488 nm</text>
<line x1="234.9" y1="254.2" x2="249.7" y2="254.2" stroke="#1010d0" stroke-width="0.95" stroke-linecap="butt"/>
<circle cx="242.4" cy="254.2" r="1.45" fill="#1010d0" stroke="#1010d0" stroke-width="0.6"/>
<text x="251.1" y="256.6" font-size="6.9" font-weight="bold" text-anchor="start" fill="#000" stroke="#000" stroke-width="0.12">LCP-488 nm</text>
<rect x="143.1" y="181.8" width="172.75" height="128.2" fill="none" stroke="#000" stroke-width="1.7"/>
<polyline points="381,193.9 399.6,190.2 442.4,190.2 500.8,190.2 537.4,194.9" fill="none" stroke="#f25a5a" stroke-width="1.1" stroke-linejoin="round" stroke-linecap="round"/>
<circle cx="381" cy="193.9" r="2.5" fill="#fff" stroke="#f25a5a" stroke-width="0.7"/>
<circle cx="381" cy="193.9" r="0.7" fill="#f25a5a"/>
<circle cx="399.6" cy="190.2" r="2.5" fill="#fff" stroke="#f25a5a" stroke-width="0.7"/>
<circle cx="442.4" cy="190.2" r="2.5" fill="#fff" stroke="#f25a5a" stroke-width="0.7"/>
<circle cx="500.8" cy="190.2" r="2.5" fill="#fff" stroke="#f25a5a" stroke-width="0.7"/>
<circle cx="500.8" cy="190.2" r="0.7" fill="#f25a5a"/>
<circle cx="537.4" cy="194.9" r="2.5" fill="#fff" stroke="#f25a5a" stroke-width="0.7"/>
<circle cx="537.4" cy="194.9" r="0.7" fill="#f25a5a"/>
<line x1="368.4" y1="309.9" x2="371.6" y2="309.9" stroke="#000" stroke-width="1.7" stroke-linecap="butt"/>
<text x="0" y="0" font-size="9.95" font-weight="bold" text-anchor="end" transform="translate(367.1 312.7) scale(0.99 1)" fill="#000" stroke="#000" stroke-width="0.15">0</text>
<line x1="368.4" y1="286.62" x2="371.6" y2="286.62" stroke="#000" stroke-width="1.7" stroke-linecap="butt"/>
<text x="0" y="0" font-size="9.95" font-weight="bold" text-anchor="end" transform="translate(367.1 289.42) scale(0.99 1)" fill="#000" stroke="#000" stroke-width="0.15">20</text>
<line x1="368.4" y1="263.34" x2="371.6" y2="263.34" stroke="#000" stroke-width="1.7" stroke-linecap="butt"/>
<text x="0" y="0" font-size="9.95" font-weight="bold" text-anchor="end" transform="translate(367.1 266.14) scale(0.99 1)" fill="#000" stroke="#000" stroke-width="0.15">40</text>
<line x1="368.4" y1="240.06" x2="371.6" y2="240.06" stroke="#000" stroke-width="1.7" stroke-linecap="butt"/>
<text x="0" y="0" font-size="9.95" font-weight="bold" text-anchor="end" transform="translate(367.1 242.86) scale(0.99 1)" fill="#000" stroke="#000" stroke-width="0.15">60</text>
<line x1="368.4" y1="216.78" x2="371.6" y2="216.78" stroke="#000" stroke-width="1.7" stroke-linecap="butt"/>
<text x="0" y="0" font-size="9.95" font-weight="bold" text-anchor="end" transform="translate(367.1 219.58) scale(0.99 1)" fill="#000" stroke="#000" stroke-width="0.15">80</text>
<line x1="368.4" y1="193.5" x2="371.6" y2="193.5" stroke="#000" stroke-width="1.7" stroke-linecap="butt"/>
<text x="0" y="0" font-size="9.95" font-weight="bold" text-anchor="end" transform="translate(367.1 196.3) scale(0.99 1)" fill="#000" stroke="#000" stroke-width="0.15">100</text>
<line x1="369.6" y1="298.26" x2="371.6" y2="298.26" stroke="#000" stroke-width="1.7" stroke-linecap="butt"/>
<line x1="369.6" y1="274.98" x2="371.6" y2="274.98" stroke="#000" stroke-width="1.7" stroke-linecap="butt"/>
<line x1="369.6" y1="251.7" x2="371.6" y2="251.7" stroke="#000" stroke-width="1.7" stroke-linecap="butt"/>
<line x1="369.6" y1="228.42" x2="371.6" y2="228.42" stroke="#000" stroke-width="1.7" stroke-linecap="butt"/>
<line x1="369.6" y1="205.14" x2="371.6" y2="205.14" stroke="#000" stroke-width="1.7" stroke-linecap="butt"/>
<line x1="381.1" y1="309.95" x2="381.1" y2="313.15" stroke="#000" stroke-width="1.7" stroke-linecap="butt"/>
<text x="0" y="0" font-size="9.95" font-weight="bold" text-anchor="middle" transform="translate(381.1 321.5) scale(0.96 1)" fill="#000" stroke="#000" stroke-width="0.15">1</text>
<line x1="442.4" y1="309.95" x2="442.4" y2="313.15" stroke="#000" stroke-width="1.7" stroke-linecap="butt"/>
<text x="0" y="0" font-size="9.95" font-weight="bold" text-anchor="middle" transform="translate(442.4 321.5) scale(0.96 1)" fill="#000" stroke="#000" stroke-width="0.15">10</text>
<line x1="503.7" y1="309.95" x2="503.7" y2="313.15" stroke="#000" stroke-width="1.7" stroke-linecap="butt"/>
<text x="0" y="0" font-size="9.95" font-weight="bold" text-anchor="middle" transform="translate(503.7 321.5) scale(0.96 1)" fill="#000" stroke="#000" stroke-width="0.15">100</text>
<line x1="375.16" y1="309.95" x2="375.16" y2="311.45" stroke="#000" stroke-width="0.9" stroke-linecap="butt"/>
<line x1="378.3" y1="309.95" x2="378.3" y2="311.45" stroke="#000" stroke-width="0.9" stroke-linecap="butt"/>
<line x1="399.55" y1="309.95" x2="399.55" y2="311.45" stroke="#000" stroke-width="0.9" stroke-linecap="butt"/>
<line x1="410.35" y1="309.95" x2="410.35" y2="311.45" stroke="#000" stroke-width="0.9" stroke-linecap="butt"/>
<line x1="418.01" y1="309.95" x2="418.01" y2="311.45" stroke="#000" stroke-width="0.9" stroke-linecap="butt"/>
<line x1="423.95" y1="309.95" x2="423.95" y2="311.45" stroke="#000" stroke-width="0.9" stroke-linecap="butt"/>
<line x1="428.8" y1="309.95" x2="428.8" y2="311.45" stroke="#000" stroke-width="0.9" stroke-linecap="butt"/>
<line x1="432.9" y1="309.95" x2="432.9" y2="311.45" stroke="#000" stroke-width="0.9" stroke-linecap="butt"/>
<line x1="436.46" y1="309.95" x2="436.46" y2="311.45" stroke="#000" stroke-width="0.9" stroke-linecap="butt"/>
<line x1="439.6" y1="309.95" x2="439.6" y2="311.45" stroke="#000" stroke-width="0.9" stroke-linecap="butt"/>
<line x1="460.85" y1="309.95" x2="460.85" y2="311.45" stroke="#000" stroke-width="0.9" stroke-linecap="butt"/>
<line x1="471.65" y1="309.95" x2="471.65" y2="311.45" stroke="#000" stroke-width="0.9" stroke-linecap="butt"/>
<line x1="479.31" y1="309.95" x2="479.31" y2="311.45" stroke="#000" stroke-width="0.9" stroke-linecap="butt"/>
<line x1="485.25" y1="309.95" x2="485.25" y2="311.45" stroke="#000" stroke-width="0.9" stroke-linecap="butt"/>
<line x1="490.1" y1="309.95" x2="490.1" y2="311.45" stroke="#000" stroke-width="0.9" stroke-linecap="butt"/>
<line x1="494.2" y1="309.95" x2="494.2" y2="311.45" stroke="#000" stroke-width="0.9" stroke-linecap="butt"/>
<line x1="497.76" y1="309.95" x2="497.76" y2="311.45" stroke="#000" stroke-width="0.9" stroke-linecap="butt"/>
<line x1="500.9" y1="309.95" x2="500.9" y2="311.45" stroke="#000" stroke-width="0.9" stroke-linecap="butt"/>
<line x1="522.15" y1="309.95" x2="522.15" y2="311.45" stroke="#000" stroke-width="0.9" stroke-linecap="butt"/>
<line x1="532.95" y1="309.95" x2="532.95" y2="311.45" stroke="#000" stroke-width="0.9" stroke-linecap="butt"/>
<line x1="540.61" y1="309.95" x2="540.61" y2="311.45" stroke="#000" stroke-width="0.9" stroke-linecap="butt"/>
<text x="445.4" y="334.9" font-size="12" font-weight="bold" text-anchor="middle" fill="#000" stroke="#000" stroke-width="0.22">Time (days)</text>
<text x="345" y="254.9" font-size="12" font-weight="bold" text-anchor="middle" transform="rotate(-90 345 254.9)" fill="#000" stroke="#000" stroke-width="0.22">Photocurrent (%)</text>
<text x="329.6" y="192.3" font-size="18" font-weight="bold" text-anchor="start" fill="#000" stroke="#000" stroke-width="0.22">e</text>
<line x1="418.1" y1="228.6" x2="437.5" y2="228.6" stroke="#f25a5a" stroke-width="1.1" stroke-linecap="butt"/>
<circle cx="428" cy="228.6" r="2.5" fill="#fff" stroke="#f25a5a" stroke-width="0.9"/>
<text x="440.9" y="231.5" font-size="8.25" font-weight="bold" stroke="#000" stroke-width="0.25"><tspan font-style="italic">L</tspan>-Cys-Se</text>
<rect x="371.6" y="181.9" width="174.4" height="128.05" fill="none" stroke="#000" stroke-width="1.7"/>
</svg>
</body>
</html>
